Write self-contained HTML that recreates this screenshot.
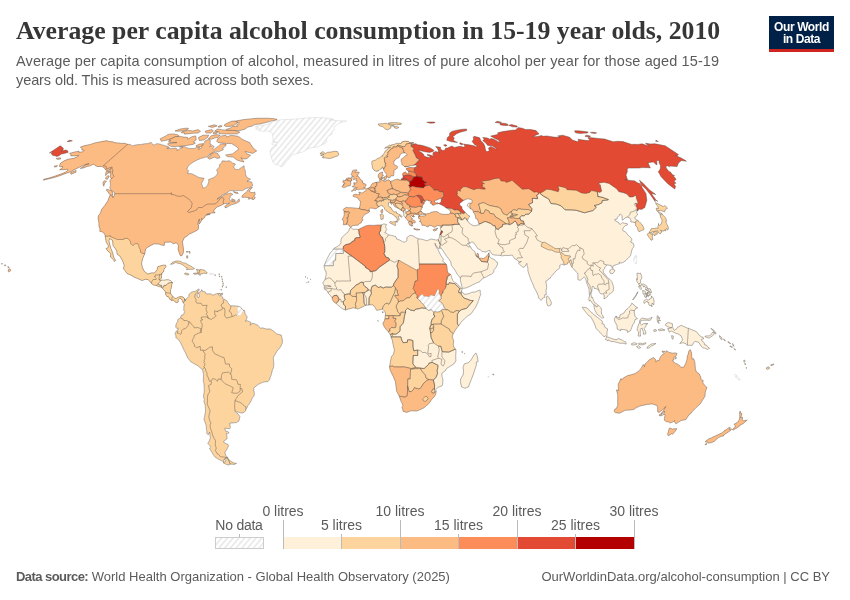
<!DOCTYPE html>
<html lang="en"><head><meta charset="utf-8"><title>Average per capita alcohol consumption in 15-19 year olds, 2010</title>
<style>
html,body{margin:0;padding:0;background:#fff;}
body{width:850px;height:600px;position:relative;overflow:hidden;font-family:"Liberation Sans",sans-serif;color:#5b5b5b;}
.title{position:absolute;left:16px;top:15px;font-family:"Liberation Serif",serif;font-weight:bold;font-size:25.77px;line-height:32px;color:#363636;white-space:nowrap;letter-spacing:0px;}
.sub{position:absolute;left:16px;top:52px;font-size:14.5px;line-height:19px;color:#5b5b5b;white-space:nowrap;}
.logo{position:absolute;left:769px;top:16px;width:65px;height:33px;background:#002147;border-bottom:3px solid #ce261e;color:#fff;font-weight:bold;font-size:12px;line-height:12px;text-align:center;letter-spacing:-0.4px;}
.logo span{display:block}
.logo .l1{padding-top:5px}
.map{position:absolute;left:0;top:0;}
.foot{position:absolute;top:569px;font-size:13px;line-height:16px;color:#5b5b5b;white-space:nowrap;}
.foot.l{left:16px}.foot.r{right:20px}
.foot b{font-weight:bold;letter-spacing:-0.55px}
.lg{position:absolute;font-size:14px;line-height:16px;color:#5b5b5b;white-space:nowrap;transform:translateX(-50%);}
</style></head><body>
<svg class="map" width="850" height="600" viewBox="0 0 850 600"><defs><pattern id="h" width="4.4" height="4.4" patternUnits="userSpaceOnUse" patternTransform="rotate(40)"><rect width="4.4" height="4.4" fill="#fff"/><rect width="1.5" height="4.4" fill="#e7e7e7"/></pattern><clipPath id="cp-na"><path d="M69.5,153.4L74.5,152.0L79.0,151.2L78.7,152.3L82.9,151.8L84.2,150.4L81.7,150.0L82.2,148.6L80.3,147.2L83.1,146.0L90.4,144.4L94.8,142.9L100.4,141.8L106.9,140.6L108.9,141.6L112.9,141.7L114.1,142.6L117.8,142.9L121.2,143.4L124.7,143.3L127.6,144.3L130.6,144.5L132.0,145.9L135.3,145.1L138.2,144.5L140.5,144.6L145.0,143.7L147.7,143.6L151.2,142.4L151.5,143.1L153.1,144.6L154.7,144.9L156.8,143.6L158.9,143.9L161.4,144.6L165.3,145.8L168.2,146.6L169.4,147.5L166.8,148.3L170.9,148.6L175.7,148.1L177.3,149.1L177.1,150.7L179.7,148.9L183.0,147.1L179.3,146.9L184.6,146.6L186.9,147.9L189.7,148.5L194.9,148.4L197.5,146.7L199.7,147.4L198.6,149.5L201.8,147.7L201.4,146.2L202.0,144.4L204.7,142.9L204.8,141.0L208.7,139.3L210.2,139.9L210.3,141.8L209.9,144.0L211.5,144.6L209.6,146.6L212.5,145.5L214.2,146.6L213.0,148.4L213.6,149.7L217.9,146.6L220.0,144.4L223.0,143.9L226.1,144.1L225.9,145.8L222.8,148.0L223.3,149.8L218.5,151.8L215.9,151.2L213.8,151.4L213.2,152.7L209.6,154.1L209.3,155.7L206.1,157.1L200.8,158.5L197.3,159.9L193.1,162.2L190.5,164.1L187.9,166.5L186.7,169.4L188.5,170.6L187.7,173.7L191.2,173.5L194.9,175.3L198.5,177.3L204.1,178.3L201.5,183.7L202.6,186.2L202.6,187.9L204.9,187.7L207.5,185.4L208.8,181.7L208.5,179.6L213.8,177.5L216.8,175.0L217.9,172.8L216.5,169.9L219.4,167.0L219.5,164.6L221.5,163.0L222.3,160.8L226.4,161.2L229.6,160.8L232.2,162.8L235.5,164.0L233.6,166.8L235.1,169.4L238.5,169.5L241.4,167.5L244.1,165.7L244.3,168.4L245.4,170.9L245.5,174.3L247.0,177.5L250.6,179.2L246.9,181.4L251.5,181.9L252.9,185.4L249.4,187.6L245.6,188.7L242.6,190.6L235.6,190.6L229.7,190.7L227.1,192.9L223.1,194.5L216.9,199.2L220.4,197.3L225.1,194.5L230.7,193.1L232.9,194.3L230.0,196.3L230.6,197.3L229.2,198.6L230.0,200.6L231.4,201.4L235.0,201.7L236.1,202.2L239.1,198.8L239.6,201.4L236.6,203.3L230.9,205.0L225.6,208.0L224.7,206.8L226.1,205.0L229.6,203.1L226.6,203.5L224.0,203.7L221.0,205.5L216.6,207.3L214.3,209.9L213.6,210.9L214.0,212.2L215.0,212.2L214.9,212.8L213.4,212.9L211.8,213.1L208.5,213.7L206.5,214.4L210.2,214.3L206.4,215.3L205.5,215.6L204.7,217.4L202.4,219.6L201.5,218.2L201.8,220.0L200.8,222.1L198.9,224.3L198.9,222.1L199.4,219.0L198.2,222.1L197.9,224.7L198.5,225.0L198.4,229.3L195.8,230.9L192.3,232.8L189.6,233.9L187.1,236.0L184.2,237.8L182.4,242.0L183.3,247.2L183.6,251.4L182.9,254.0L182.0,255.6L180.4,255.8L179.3,253.2L178.0,249.0L178.5,245.6L176.4,242.8L173.1,243.8L171.1,242.0L167.7,242.2L164.6,242.2L164.3,245.4L161.4,245.1L159.0,244.1L154.4,243.8L151.9,244.9L147.8,247.2L145.6,249.0L144.8,253.6L142.6,258.7L141.6,263.4L142.4,267.4L144.3,271.3L146.1,272.8L147.8,274.0L151.8,272.8L154.5,273.0L157.0,269.7L157.9,266.6L163.5,265.0L165.8,265.3L166.0,266.6L164.1,269.2L163.5,271.8L162.0,273.1L161.5,275.5L161.4,278.1L159.6,279.9L160.4,280.4L161.9,280.0L164.4,280.2L166.2,279.8L168.5,279.8L170.7,280.7L172.5,282.3L171.7,284.9L171.1,288.8L170.5,290.1L170.3,293.0L171.8,295.3L172.9,296.5L173.5,297.2L175.1,298.5L176.7,298.1L178.8,296.9L180.9,296.5L183.2,297.0L184.6,298.9L184.9,300.7L183.2,302.7L182.3,300.6L181.0,298.7L179.7,298.1L178.0,299.8L178.3,301.9L176.2,302.7L174.7,301.4L173.4,300.0L171.7,300.4L169.9,299.4L168.3,296.6L166.9,296.4L165.4,294.0L165.8,292.5L163.9,289.8L161.6,287.6L162.1,286.7L160.9,287.1L158.7,286.4L156.3,285.5L153.3,285.0L151.5,283.4L148.2,279.6L145.3,279.3L142.1,280.6L138.9,279.1L134.8,277.4L131.0,275.2L127.1,273.6L125.6,271.5L123.0,268.1L124.0,267.4L124.1,265.0L122.6,260.8L119.9,256.1L117.1,254.3L116.8,250.9L115.2,248.5L113.0,245.6L112.6,240.4L109.7,238.6L108.9,240.9L110.1,245.6L110.9,248.5L112.6,252.4L113.6,257.1L114.3,258.2L115.6,260.5L114.5,261.6L113.7,260.0L110.5,256.9L110.8,253.5L108.2,251.4L106.0,248.6L108.0,247.7L108.4,245.6L106.1,242.0L105.6,238.3L105.1,236.4L105.2,235.2L103.6,232.8L102.1,231.8L99.7,231.3L100.0,229.4L98.9,225.8L98.9,222.9L98.6,221.3L98.1,218.7L98.3,215.9L100.5,213.0L101.5,209.6L104.9,205.3L107.8,200.9L109.9,195.3L112.8,196.0L112.9,197.8L114.5,195.0L114.7,193.7L114.6,192.7L112.4,191.2L110.5,189.2L109.8,187.4L110.5,185.4L110.3,182.9L109.8,180.4L111.5,178.9L110.8,178.0L110.3,176.5L110.7,174.8L110.3,173.3L110.8,171.4L109.8,170.4L111.2,168.2L109.2,169.9L107.2,170.6L105.6,169.9L105.0,168.7L103.7,167.5L101.6,166.5L97.0,166.5L94.9,165.3L94.0,164.1L89.5,166.1L87.0,166.5L83.4,168.0L80.3,168.4L82.3,167.2L86.2,164.6L89.1,163.7L85.5,164.4L81.8,166.1L77.8,168.0L74.9,169.4L71.1,171.6L66.4,173.3L60.4,175.5L54.3,177.5L49.0,178.8L43.1,180.2L44.0,179.2L49.0,178.0L54.7,176.2L61.5,173.8L66.1,171.8L68.2,169.9L67.2,169.2L63.8,169.7L59.6,169.8L62.4,168.0L62.8,166.5L59.8,166.8L59.6,165.1L60.7,163.0L64.6,160.6L68.0,159.2L73.9,158.3L78.0,156.4L78.9,155.2L75.1,155.9L70.8,155.9L71.0,154.3L69.5,153.4Z"/></clipPath><clipPath id="cp-sa"><path d="M184.6,298.9L185.5,300.6L186.0,299.0L187.3,298.0L188.8,296.4L189.1,294.3L190.7,292.6L192.2,291.9L195.0,291.4L196.9,290.4L198.3,288.9L199.5,289.6L198.9,290.6L197.5,291.2L198.2,292.7L198.1,293.4L197.4,294.3L197.1,295.9L198.1,297.7L199.3,296.9L199.3,294.8L198.5,293.1L199.8,292.1L201.2,291.4L201.5,290.9L201.3,290.1L202.0,289.6L202.4,290.9L202.6,291.5L204.2,291.5L205.5,292.2L205.9,293.2L206.4,294.0L208.7,293.8L210.7,293.8L213.0,295.1L213.9,294.9L215.1,294.2L216.7,293.6L219.0,293.5L220.4,293.5L218.8,294.2L218.1,294.4L219.4,295.6L221.2,295.9L222.8,297.2L222.7,299.0L224.6,299.4L226.6,300.6L227.9,302.4L228.6,303.7L230.8,305.8L235.4,305.9L238.1,306.2L240.4,307.1L242.0,308.6L243.5,310.5L244.5,310.3L245.1,313.7L247.2,316.9L246.5,319.1L245.3,321.2L247.2,320.7L250.9,322.3L250.2,325.4L252.2,323.1L255.3,324.1L258.0,325.4L260.4,328.3L262.2,327.8L266.2,329.0L270.3,329.0L273.8,331.2L276.6,333.8L281.3,335.1L282.0,338.5L282.5,340.2L282.3,343.2L280.6,346.7L279.0,349.0L277.6,350.1L274.4,355.5L273.3,357.6L273.5,360.2L273.8,363.4L273.5,367.8L272.4,369.9L271.3,374.6L269.9,378.0L270.0,379.0L267.9,381.7L265.2,381.7L262.3,382.5L258.4,384.3L255.0,386.9L253.8,388.2L253.7,390.0L254.4,393.7L254.0,396.1L252.2,398.1L251.2,400.8L249.6,403.4L248.0,405.6L245.8,409.8L245.6,411.0L243.0,412.9L240.2,412.8L236.4,411.6L234.9,410.4L235.4,412.0L238.0,413.8L239.9,416.5L239.0,420.9L236.7,422.5L229.7,423.2L230.1,425.6L230.4,427.7L229.7,428.8L224.8,428.2L225.7,431.3L227.7,431.5L229.1,432.8L227.5,433.6L226.3,433.4L226.6,434.6L227.1,437.7L226.8,439.0L223.7,441.3L224.2,442.9L228.0,444.4L228.5,446.1L226.5,450.0L224.8,452.5L225.9,455.8L228.0,457.7L225.9,458.1L224.3,458.6L223.9,459.8L223.9,461.6L221.1,460.6L218.6,459.3L215.3,457.3L213.9,455.6L211.5,451.8L209.5,448.0L210.9,446.7L207.8,443.4L209.2,441.1L210.4,437.7L209.6,432.1L208.2,434.9L206.9,433.6L206.8,430.8L206.3,428.7L206.3,425.7L205.0,422.2L203.9,418.8L204.5,417.6L204.9,414.4L205.5,411.7L205.4,408.0L205.2,405.2L203.9,401.3L204.4,399.7L203.4,396.1L204.2,392.3L204.3,389.5L204.0,383.4L203.3,381.9L203.5,374.3L202.6,369.8L200.1,367.7L197.3,365.4L193.6,363.4L190.8,361.8L187.7,357.9L185.6,353.0L184.1,350.3L181.8,345.3L180.6,342.8L178.5,339.5L175.7,337.5L176.1,336.1L175.4,334.7L175.0,333.8L176.0,331.4L177.3,330.4L178.1,329.9L178.1,327.8L177.2,328.6L175.7,327.3L176.1,324.1L177.6,321.5L177.8,319.4L178.7,318.9L180.5,317.8L180.8,316.8L181.6,315.0L183.5,314.7L184.7,311.4L183.8,310.5L183.8,307.1L184.3,304.5L183.2,302.7L184.9,300.7Z"/></clipPath><clipPath id="cp-af"><path d="M349.9,227.9L351.2,227.6L353.1,229.4L354.2,229.3L356.3,229.2L357.9,229.7L361.3,228.0L362.9,227.3L365.5,225.9L369.3,225.2L373.7,225.4L377.6,225.0L379.4,225.0L381.3,224.9L383.9,223.9L386.6,224.6L385.7,226.3L385.8,227.9L386.9,229.4L386.1,230.6L384.8,232.8L386.8,233.3L388.0,234.8L391.7,235.4L395.9,236.7L396.7,239.1L399.4,239.9L402.6,241.7L404.8,242.2L406.9,240.7L406.9,237.5L409.9,235.4L412.5,235.7L415.6,237.5L418.2,238.7L422.9,239.5L426.9,240.8L428.8,239.9L431.1,239.0L434.0,239.6L436.7,240.1L438.4,239.6L440.2,244.3L439.2,248.9L437.6,247.7L436.1,245.6L434.9,243.2L435.2,244.6L436.3,247.2L438.3,250.2L439.6,253.2L441.2,256.0L443.4,259.0L442.8,261.3L446.2,264.0L447.0,266.6L447.3,270.2L447.8,272.6L450.6,274.4L452.9,280.7L454.7,282.5L457.0,283.6L459.9,287.0L460.7,287.5L461.6,288.3L462.3,290.1L460.8,291.2L462.0,291.5L463.9,294.2L466.2,294.2L469.6,293.4L471.8,292.3L475.3,291.9L479.3,290.2L480.4,290.6L480.1,292.2L480.9,294.2L479.8,296.6L478.6,300.6L477.5,303.2L475.7,307.1L473.5,310.3L471.2,313.7L467.5,316.1L464.4,318.9L461.0,322.4L458.7,325.8L457.2,327.5L455.4,329.9L454.2,332.1L453.2,333.7L452.9,334.8L452.2,337.2L453.3,339.3L453.7,341.6L453.2,344.3L454.0,347.7L455.1,348.4L455.7,349.0L456.0,351.6L455.7,355.5L455.8,359.4L455.9,360.9L453.8,364.0L449.3,366.8L446.7,368.3L445.3,370.8L441.8,373.4L442.0,376.4L442.9,379.3L442.7,384.0L441.9,385.9L438.0,387.4L435.8,389.4L436.3,391.7L435.4,394.7L434.2,396.8L431.6,399.6L429.5,402.9L424.0,407.8L418.7,410.3L416.9,411.0L411.1,410.8L406.3,412.5L403.9,411.4L403.0,411.4L403.0,410.2L401.9,407.3L403.0,405.2L401.0,401.3L399.3,396.3L396.6,391.2L396.1,386.9L395.4,381.5L393.1,376.2L390.0,369.9L389.5,366.6L390.5,361.3L391.3,356.8L393.4,354.5L394.4,350.3L393.1,344.5L392.2,339.8L391.0,337.3L390.8,336.0L390.0,334.1L388.3,331.8L385.8,329.1L384.2,326.7L382.8,323.3L384.5,320.5L384.9,318.9L385.3,315.4L385.6,313.8L384.7,311.3L383.2,309.6L382.3,309.1L378.9,310.0L376.5,310.3L375.2,307.6L373.1,305.0L370.5,304.8L368.9,304.9L366.5,305.3L365.5,305.5L362.2,307.0L357.9,309.1L355.5,308.2L353.5,307.8L348.9,308.9L345.3,310.1L341.9,308.4L337.8,305.0L336.2,303.5L333.9,302.1L332.2,299.3L332.1,297.8L331.2,296.6L329.1,294.0L328.1,292.9L326.9,290.5L324.4,289.2L324.2,287.2L324.3,285.9L322.7,283.0L324.1,281.0L325.0,279.4L326.3,274.2L325.9,271.0L325.2,270.8L324.1,267.1L324.2,265.5L326.7,259.5L330.2,253.1L332.5,250.6L333.8,248.4L337.1,246.7L340.0,244.6L341.3,242.0L340.8,241.5L341.1,239.1L342.3,237.0L346.1,233.6L347.7,232.4L349.0,230.2Z"/></clipPath><clipPath id="cp-ea"><path d="M438.4,239.6L438.7,239.0L439.3,237.7L439.6,235.7L439.7,234.9L440.4,232.8L440.9,231.4L441.1,230.9L440.4,228.6L440.6,227.5L440.9,225.8L440.1,225.6L439.2,225.9L437.5,225.2L435.8,226.9L433.9,227.2L432.0,225.9L429.1,225.1L428.8,226.5L427.1,226.9L425.7,225.8L423.8,225.2L422.0,225.5L421.9,224.7L421.3,223.2L421.3,222.5L419.2,221.3L420.8,220.9L420.1,219.5L419.8,218.7L418.3,218.2L418.9,216.5L421.2,216.0L422.2,216.0L424.3,215.9L426.1,215.0L424.1,214.3L424.3,213.8L425.4,213.8L426.8,213.8L429.1,213.5L429.9,213.1L431.7,212.1L433.8,211.7L436.7,211.6L438.7,212.5L439.6,213.5L441.0,213.9L443.0,214.3L444.1,214.4L446.8,214.3L448.5,214.2L450.2,213.3L450.5,213.0L450.5,212.6L450.4,211.3L448.6,209.1L446.3,208.1L445.6,207.6L444.0,206.3L441.1,204.7L440.0,204.2L438.4,203.5L440.0,203.2L441.2,201.3L441.1,199.6L443.0,198.6L442.2,198.3L440.8,198.6L439.5,198.7L438.1,199.5L435.2,200.6L434.3,201.0L435.4,202.9L437.9,202.8L438.3,203.1L438.1,203.8L436.0,204.0L435.3,204.5L433.6,205.3L432.2,205.0L431.8,203.5L429.9,203.1L431.9,201.4L430.2,201.2L428.0,200.6L428.4,200.1L425.8,200.3L425.4,201.2L424.1,202.9L424.1,203.5L422.9,205.0L422.3,206.2L422.4,207.2L422.2,208.1L421.1,208.6L421.3,209.9L420.5,210.4L421.7,211.7L421.7,212.0L423.1,213.1L424.2,213.7L424.0,214.3L422.5,214.2L421.0,214.4L420.2,215.3L419.3,215.9L418.5,216.8L419.0,216.0L419.7,215.3L418.0,215.1L417.6,214.7L415.7,214.4L414.4,214.5L413.1,215.0L414.6,216.6L413.6,216.0L413.8,217.1L412.5,216.3L413.2,217.1L411.4,215.3L410.8,216.9L412.6,219.1L411.9,218.7L411.7,219.9L412.6,219.9L414.6,220.5L415.6,222.2L414.5,223.0L413.5,222.4L412.2,222.4L412.7,223.4L413.2,223.9L411.8,223.3L412.1,224.5L412.9,226.2L411.9,225.2L411.4,226.3L410.4,224.7L410.1,225.5L409.5,224.9L409.3,223.9L408.1,222.5L409.3,221.5L412.2,222.1L410.8,221.2L408.4,221.2L407.8,220.7L407.1,219.6L406.3,218.7L405.8,218.2L405.4,217.7L405.3,217.2L403.9,215.7L403.8,213.5L403.6,212.1L402.9,211.5L401.6,210.7L400.7,210.0L399.4,209.1L397.0,207.8L395.9,207.3L394.3,206.3L393.6,204.7L393.6,204.0L392.5,203.2L392.0,204.1L391.4,204.4L390.6,202.7L391.1,202.3L389.7,202.3L388.2,202.9L388.6,204.1L388.3,205.4L388.9,206.4L390.9,207.6L392.5,210.6L394.5,211.8L396.9,212.0L396.3,212.8L398.5,214.1L400.8,215.2L402.1,216.5L401.8,217.4L401.0,216.8L399.2,215.7L398.2,217.0L399.4,219.4L398.2,220.3L397.2,222.3L396.3,221.9L396.7,220.5L397.4,219.9L396.9,218.6L396.0,216.9L395.3,216.9L394.0,215.2L392.9,214.7L391.5,213.8L390.0,213.4L388.5,212.4L387.6,211.5L386.0,210.7L384.7,209.3L384.2,207.7L383.2,206.4L381.3,205.5L380.4,205.8L379.5,206.8L378.4,207.1L377.8,207.3L377.3,207.7L376.6,208.5L375.2,208.9L373.9,208.4L372.3,208.2L370.4,208.1L369.1,209.1L369.1,209.9L369.3,210.6L369.6,210.9L369.4,212.0L367.4,213.3L365.3,214.1L364.5,215.1L362.7,216.9L362.1,218.3L363.1,220.2L361.6,221.2L361.2,223.0L360.5,223.2L359.1,223.8L357.9,225.4L357.4,225.1L355.1,225.4L353.2,225.5L352.1,226.0L351.1,226.9L350.6,227.3L349.1,226.0L348.9,225.1L347.7,224.2L346.7,224.2L345.6,224.7L343.3,224.7L343.6,222.2L343.6,220.8L342.3,220.0L342.6,218.6L343.8,216.5L344.3,213.9L344.0,212.0L344.1,211.2L343.2,209.4L345.1,208.1L346.2,207.2L348.0,207.7L350.8,207.7L354.8,208.0L356.4,208.2L358.5,208.4L358.9,208.1L359.5,207.8L360.0,205.3L360.2,204.9L360.4,202.4L360.3,201.0L359.0,200.1L358.3,198.6L358.2,198.2L356.4,197.6L355.8,197.1L353.8,196.8L353.0,196.2L353.1,195.4L353.6,194.6L354.6,194.5L356.6,194.1L357.2,194.9L358.7,194.6L359.7,194.6L359.5,194.1L358.8,192.0L359.5,192.1L360.2,192.0L360.5,192.9L362.1,193.0L362.9,192.5L364.9,191.3L365.9,190.7L365.9,189.3L366.4,188.8L367.5,188.6L367.8,188.4L368.5,188.1L369.1,187.8L369.8,187.6L370.0,186.8L370.8,186.2L372.0,183.8L373.3,183.2L374.8,182.6L376.2,182.5L376.8,182.8L376.6,182.2L378.3,181.9L379.4,182.3L379.6,181.5L380.2,181.4L379.9,180.8L379.4,180.2L380.1,179.9L379.4,178.9L378.9,177.5L378.3,177.3L378.2,176.2L378.3,174.5L379.0,173.5L381.5,172.3L382.7,172.0L382.6,172.7L382.2,173.9L382.3,174.8L383.6,175.3L382.2,175.9L382.0,176.6L381.4,177.3L381.0,177.5L381.4,178.1L381.6,178.9L381.0,179.2L382.1,180.1L382.4,180.3L383.9,180.2L384.4,180.1L383.9,181.3L385.0,181.4L386.2,180.8L386.9,180.0L388.1,180.4L388.6,179.6L389.3,180.3L390.3,181.4L392.9,180.7L394.5,179.8L395.3,179.7L396.6,179.3L398.1,179.1L399.1,179.7L398.9,180.3L400.8,180.1L401.2,179.6L401.3,178.8L402.3,178.8L403.2,177.0L403.0,176.1L402.7,175.0L402.6,173.8L403.4,172.8L405.3,172.0L406.4,172.9L407.5,173.8L408.4,173.7L408.9,173.1L408.5,171.7L408.6,170.5L407.1,170.4L406.7,170.0L406.5,169.1L406.2,168.4L407.4,168.1L408.6,167.8L410.3,167.5L411.8,167.6L414.7,167.8L415.3,167.2L416.2,166.6L418.5,166.6L417.4,166.1L415.3,164.9L413.7,165.2L412.2,165.5L408.7,166.2L405.1,167.0L403.5,165.6L401.7,164.4L401.8,163.8L401.8,162.7L401.1,161.1L401.2,159.2L402.6,158.3L403.7,157.4L405.8,155.5L407.3,154.8L405.5,153.1L404.7,152.9L403.1,152.9L401.4,153.5L400.3,154.1L400.0,155.5L398.9,157.7L396.2,158.8L395.0,160.4L394.0,160.8L393.8,162.5L393.9,163.4L394.2,164.9L396.6,165.8L397.6,166.8L397.1,168.2L396.2,169.2L394.6,169.7L394.0,170.6L394.1,172.0L393.9,173.2L393.8,174.6L393.4,175.9L392.5,175.9L391.1,175.9L390.1,176.5L390.3,177.3L389.2,177.7L388.0,177.8L387.6,177.2L387.0,176.1L386.5,175.5L387.1,174.6L385.8,173.5L385.1,172.1L383.9,170.6L383.5,169.1L383.4,168.7L383.1,168.4L382.5,166.8L382.0,168.0L381.4,168.9L380.2,169.3L379.2,170.3L377.7,171.0L376.0,171.4L375.2,170.7L373.9,170.3L373.1,169.1L372.4,168.0L372.3,166.8L372.3,165.6L371.7,164.1L371.8,162.7L371.9,161.3L373.7,160.6L375.5,160.0L376.5,159.2L377.9,158.3L379.8,157.8L381.2,156.2L383.0,156.0L382.4,155.1L384.0,153.7L384.6,152.5L385.1,151.1L387.4,149.5L388.2,148.2L390.6,147.3L387.5,147.6L384.6,148.2L387.2,146.6L389.7,145.1L391.0,146.0L391.1,144.9L394.3,144.3L396.7,143.3L398.9,143.3L401.2,143.6L401.7,142.1L404.9,141.1L407.0,141.4L408.1,141.2L409.7,142.5L414.1,142.8L412.0,143.4L410.9,143.6L412.8,144.2L414.0,144.0L415.9,143.7L418.1,145.1L418.7,144.8L421.5,145.3L425.0,146.2L430.1,147.9L433.2,149.8L434.0,150.7L433.1,151.6L429.5,152.4L425.0,151.8L421.9,151.0L418.3,149.9L419.7,151.4L422.9,153.6L423.8,154.8L424.1,155.9L426.6,157.1L429.0,157.4L430.4,157.3L429.8,156.2L427.0,155.0L427.4,154.4L429.4,154.8L432.7,155.8L434.1,155.8L432.8,154.5L433.1,152.7L435.6,151.5L439.1,152.5L439.7,152.8L438.3,151.7L438.4,150.4L437.2,148.2L435.7,146.5L440.6,147.3L440.4,148.9L442.7,150.6L444.7,150.2L445.6,148.3L447.6,147.9L451.9,146.0L454.3,147.5L456.5,146.9L459.6,146.3L463.4,147.1L464.0,147.3L465.0,146.0L463.4,144.0L470.7,145.1L474.6,146.0L476.1,147.1L477.1,146.0L474.5,144.6L472.1,141.4L473.7,139.2L473.2,137.3L474.0,136.3L478.0,137.3L479.6,137.8L480.9,140.7L483.6,143.6L484.8,146.0L485.6,150.2L487.0,151.8L489.3,150.7L488.5,148.0L490.8,146.4L495.9,148.9L497.2,148.9L492.1,145.8L487.7,145.5L485.3,142.5L482.8,140.7L484.2,139.2L482.7,137.4L487.4,138.0L489.9,139.2L490.9,138.5L493.3,139.0L495.2,139.9L499.9,142.7L498.8,140.3L495.0,138.6L490.6,136.1L497.8,134.4L497.8,132.8L502.8,131.6L508.1,130.8L511.9,130.2L515.5,130.0L518.2,127.6L522.3,128.2L525.6,129.6L530.9,129.6L536.1,130.6L537.7,132.4L539.0,134.0L536.2,135.0L532.6,136.7L537.9,136.5L541.5,135.4L543.2,136.3L546.7,135.9L553.8,137.1L556.3,137.2L560.2,137.1L557.8,135.9L562.6,135.2L569.7,137.3L572.4,140.0L577.0,141.6L578.1,141.8L578.4,140.1L578.0,139.3L583.3,140.1L587.1,140.5L590.1,140.3L588.3,138.4L588.1,137.4L592.3,137.8L598.0,138.4L604.6,139.0L608.5,140.3L613.3,141.7L617.6,141.3L623.0,141.6L628.1,143.3L631.8,144.4L633.7,144.3L638.0,144.4L642.0,143.8L649.0,146.2L646.5,144.2L645.5,143.3L650.5,143.9L655.0,143.8L660.2,144.8L665.2,145.8L678.4,154.5L677.4,155.7L675.3,155.5L679.7,157.3L684.3,159.7L686.4,161.2L681.5,160.6L679.2,162.2L678.0,164.1L677.1,166.6L670.3,166.1L669.3,166.8L667.7,165.7L665.6,166.8L666.9,168.9L668.9,171.4L670.5,172.1L672.2,174.4L674.6,175.7L673.1,175.7L676.2,179.3L674.0,181.2L676.0,183.2L673.8,183.7L675.5,186.2L674.9,189.0L671.7,186.7L667.8,183.7L664.2,179.9L661.1,176.7L659.1,173.1L658.2,171.8L659.3,170.6L660.3,168.7L660.6,165.8L659.2,163.0L659.0,160.6L656.6,160.8L657.0,164.1L656.6,165.1L653.5,162.0L651.1,162.2L648.0,162.7L650.3,168.0L648.6,167.7L642.2,167.6L639.2,168.0L632.8,168.1L628.6,168.1L627.2,168.9L627.3,171.8L626.0,175.1L627.5,179.7L625.0,179.7L629.9,180.4L632.1,180.7L634.2,180.7L638.3,183.3L638.9,182.9L641.7,185.7L642.1,187.6L644.5,191.2L646.0,193.7L646.5,198.1L646.9,200.1L645.7,204.5L645.0,206.5L645.1,207.3L641.5,209.6L638.9,208.9L638.3,210.3L637.4,210.2L637.5,210.9L637.0,210.9L636.6,212.4L637.6,214.6L636.9,215.2L635.9,216.8L634.7,217.4L635.3,219.1L636.9,220.0L637.9,220.5L639.0,221.6L640.2,222.8L642.2,224.7L643.4,227.2L644.0,228.6L643.8,229.7L641.8,230.5L641.2,230.7L639.0,231.8L638.2,230.5L637.3,227.5L635.5,225.4L635.6,223.5L635.3,222.8L633.0,222.1L630.7,221.9L631.0,220.3L630.0,218.2L627.6,217.0L625.2,217.9L623.1,219.8L622.3,220.2L622.1,218.2L622.1,215.6L620.8,214.4L619.3,214.7L619.4,215.3L617.5,217.2L617.0,219.1L614.7,219.5L615.2,220.8L618.8,222.6L619.2,223.9L620.1,224.5L621.4,223.5L622.6,222.6L624.3,223.3L626.0,223.4L627.3,223.7L627.4,225.0L625.5,225.5L623.7,227.2L622.7,228.9L622.8,230.6L625.5,231.8L628.1,235.2L631.0,237.8L631.6,238.6L632.0,240.4L630.6,241.5L630.6,242.1L633.2,243.2L634.0,245.4L633.7,246.9L632.5,248.4L631.6,250.9L631.1,253.4L630.7,255.3L629.8,256.6L628.6,257.5L626.1,260.4L623.6,262.1L620.9,263.2L619.3,262.0L619.5,263.6L616.2,264.7L612.8,266.0L612.9,268.5L611.3,266.8L611.2,265.4L609.7,265.4L608.0,264.9L607.2,265.1L605.4,266.7L604.8,267.4L604.6,268.7L603.3,269.8L603.2,272.6L605.1,274.2L605.8,275.7L608.4,278.2L610.0,279.4L611.7,281.5L611.9,282.0L613.1,285.5L613.7,287.8L613.3,289.5L613.4,290.5L613.1,291.3L611.1,293.0L609.0,294.4L608.2,295.3L607.5,296.6L603.9,299.0L604.4,295.3L602.9,294.3L602.5,294.0L600.6,293.8L599.6,292.5L599.1,291.2L598.1,289.7L596.9,288.8L595.0,288.4L594.2,288.4L594.1,287.6L593.2,286.2L592.0,286.7L592.1,287.5L592.0,288.7L591.9,290.6L590.9,294.0L591.5,297.6L592.7,297.3L593.2,299.5L594.6,302.7L596.2,303.5L597.6,304.8L598.2,305.2L598.5,305.3L600.7,307.5L601.5,309.7L601.4,311.6L601.6,314.2L602.6,315.1L603.7,317.8L602.5,318.1L601.8,318.1L600.4,316.8L598.9,315.7L597.8,315.0L596.8,313.7L595.4,311.0L594.9,310.4L594.2,307.4L594.0,305.5L593.5,304.6L593.3,304.2L591.8,302.4L590.5,300.4L589.2,301.1L589.1,300.0L588.8,298.7L589.5,295.5L589.4,295.3L589.0,288.9L587.4,284.7L586.4,281.6L585.5,278.3L584.4,277.0L582.5,278.3L580.7,280.2L578.2,279.9L577.9,279.6L577.9,275.7L577.7,273.1L575.1,270.8L573.5,268.8L571.9,267.2L570.9,265.4L570.2,263.2L569.1,262.0L567.8,262.4L567.6,264.0L566.5,264.3L565.2,264.6L564.3,264.9L563.6,265.0L561.9,264.1L560.7,265.0L559.7,265.4L559.8,267.2L559.4,268.4L557.6,269.7L556.5,270.4L555.8,271.1L552.5,275.2L550.4,277.2L550.5,278.1L548.0,279.3L547.6,280.3L545.8,281.1L546.2,283.7L546.8,287.2L546.0,290.4L546.3,294.6L544.8,294.6L544.5,296.3L545.2,297.2L542.7,298.1L541.3,300.4L539.8,299.3L538.9,298.2L538.1,295.5L536.7,292.1L534.3,287.8L532.3,282.8L531.4,281.1L529.9,277.0L528.2,271.9L527.8,269.7L527.9,268.1L527.3,266.3L526.8,263.3L526.1,264.6L524.7,266.8L523.5,267.4L522.1,266.8L520.2,264.9L518.6,263.3L518.7,262.6L521.4,261.5L519.3,261.9L517.5,260.7L516.5,259.5L514.7,258.8L513.3,256.6L512.3,255.1L508.0,255.6L505.4,255.4L502.7,255.8L501.5,256.0L501.1,255.6L498.9,255.3L495.2,255.1L492.3,254.4L490.3,251.7L490.0,250.6L488.6,250.5L487.2,251.4L485.7,252.0L483.6,251.7L482.0,251.4L480.3,249.8L477.7,248.6L475.9,245.8L473.9,242.9L471.7,241.8L470.4,243.2L469.1,243.0L468.7,244.7L469.7,245.6L470.5,246.8L471.9,249.3L473.8,250.9L475.0,251.8L475.4,254.3L477.0,256.8L476.7,254.8L477.1,253.4L477.6,253.1L478.5,254.1L478.5,255.3L478.8,257.0L478.4,257.1L478.9,258.1L481.2,258.2L483.4,258.5L485.2,257.5L487.0,255.4L488.3,254.0L488.5,253.4L489.1,252.6L489.2,254.5L489.4,256.2L490.5,257.8L494.8,259.8L495.9,261.5L497.8,262.6L497.1,265.5L495.6,268.1L493.7,270.1L493.9,271.9L491.6,274.3L488.9,275.3L486.1,277.0L483.9,277.9L481.9,279.1L479.8,281.7L477.1,282.7L475.2,283.6L472.6,284.9L469.7,286.4L465.9,288.0L462.4,288.4L461.9,286.7L461.0,282.8L460.5,281.0L460.4,278.6L459.8,277.3L457.2,274.2L455.2,270.5L454.0,268.8L451.3,265.3L450.8,261.9L448.4,258.5L446.4,256.0L444.4,252.8L442.5,250.0L441.2,248.1L440.0,248.3L440.4,244.9L440.5,244.3L440.2,244.3Z"/></clipPath></defs>
<g clip-path="url(#cp-na)">
<path d="M69.5,153.4L74.5,152.0L79.0,151.2L78.7,152.3L82.9,151.8L84.2,150.4L81.7,150.0L82.2,148.6L80.3,147.2L83.1,146.0L90.4,144.4L94.8,142.9L100.4,141.8L106.9,140.6L108.9,141.6L112.9,141.7L114.1,142.6L117.8,142.9L121.2,143.4L124.7,143.3L127.6,144.3L130.6,144.5L132.0,145.9L135.3,145.1L138.2,144.5L140.5,144.6L145.0,143.7L147.7,143.6L151.2,142.4L151.5,143.1L153.1,144.6L154.7,144.9L156.8,143.6L158.9,143.9L161.4,144.6L165.3,145.8L168.2,146.6L169.4,147.5L166.8,148.3L170.9,148.6L175.7,148.1L177.3,149.1L177.1,150.7L179.7,148.9L183.0,147.1L179.3,146.9L184.6,146.6L186.9,147.9L189.7,148.5L194.9,148.4L197.5,146.7L199.7,147.4L198.6,149.5L201.8,147.7L201.4,146.2L202.0,144.4L204.7,142.9L204.8,141.0L208.7,139.3L210.2,139.9L210.3,141.8L209.9,144.0L211.5,144.6L209.6,146.6L212.5,145.5L214.2,146.6L213.0,148.4L213.6,149.7L217.9,146.6L220.0,144.4L223.0,143.9L226.1,144.1L225.9,145.8L222.8,148.0L223.3,149.8L218.5,151.8L215.9,151.2L213.8,151.4L213.2,152.7L209.6,154.1L209.3,155.7L206.1,157.1L200.8,158.5L197.3,159.9L193.1,162.2L190.5,164.1L187.9,166.5L186.7,169.4L188.5,170.6L187.7,173.7L191.2,173.5L194.9,175.3L198.5,177.3L204.1,178.3L201.5,183.7L202.6,186.2L202.6,187.9L204.9,187.7L207.5,185.4L208.8,181.7L208.5,179.6L213.8,177.5L216.8,175.0L217.9,172.8L216.5,169.9L219.4,167.0L219.5,164.6L221.5,163.0L222.3,160.8L226.4,161.2L229.6,160.8L232.2,162.8L235.5,164.0L233.6,166.8L235.1,169.4L238.5,169.5L241.4,167.5L244.1,165.7L244.3,168.4L245.4,170.9L245.5,174.3L247.0,177.5L250.6,179.2L246.9,181.4L251.5,181.9L252.9,185.4L249.4,187.6L245.6,188.7L242.6,190.6L235.6,190.6L229.7,190.7L227.1,192.9L223.1,194.5L216.9,199.2L220.4,197.3L225.1,194.5L230.7,193.1L232.9,194.3L230.0,196.3L230.6,197.3L229.2,198.6L230.0,200.6L231.4,201.4L235.0,201.7L236.1,202.2L239.1,198.8L239.6,201.4L236.6,203.3L230.9,205.0L225.6,208.0L224.7,206.8L226.1,205.0L229.6,203.1L226.6,203.5L224.0,203.7L221.0,205.5L216.6,207.3L214.3,209.9L213.6,210.9L214.0,212.2L215.0,212.2L214.9,212.8L213.4,212.9L211.8,213.1L208.5,213.7L206.5,214.4L210.2,214.3L206.4,215.3L205.5,215.6L204.7,217.4L202.4,219.6L201.5,218.2L201.8,220.0L200.8,222.1L198.9,224.3L198.9,222.1L199.4,219.0L198.2,222.1L197.9,224.7L198.5,225.0L198.4,229.3L195.8,230.9L192.3,232.8L189.6,233.9L187.1,236.0L184.2,237.8L182.4,242.0L183.3,247.2L183.6,251.4L182.9,254.0L182.0,255.6L180.4,255.8L179.3,253.2L178.0,249.0L178.5,245.6L176.4,242.8L173.1,243.8L171.1,242.0L167.7,242.2L164.6,242.2L164.3,245.4L161.4,245.1L159.0,244.1L154.4,243.8L151.9,244.9L147.8,247.2L145.6,249.0L144.8,253.6L142.6,258.7L141.6,263.4L142.4,267.4L144.3,271.3L146.1,272.8L147.8,274.0L151.8,272.8L154.5,273.0L157.0,269.7L157.9,266.6L163.5,265.0L165.8,265.3L166.0,266.6L164.1,269.2L163.5,271.8L162.0,273.1L161.5,275.5L161.4,278.1L159.6,279.9L160.4,280.4L161.9,280.0L164.4,280.2L166.2,279.8L168.5,279.8L170.7,280.7L172.5,282.3L171.7,284.9L171.1,288.8L170.5,290.1L170.3,293.0L171.8,295.3L172.9,296.5L173.5,297.2L175.1,298.5L176.7,298.1L178.8,296.9L180.9,296.5L183.2,297.0L184.6,298.9L184.9,300.7L183.2,302.7L182.3,300.6L181.0,298.7L179.7,298.1L178.0,299.8L178.3,301.9L176.2,302.7L174.7,301.4L173.4,300.0L171.7,300.4L169.9,299.4L168.3,296.6L166.9,296.4L165.4,294.0L165.8,292.5L163.9,289.8L161.6,287.6L162.1,286.7L160.9,287.1L158.7,286.4L156.3,285.5L153.3,285.0L151.5,283.4L148.2,279.6L145.3,279.3L142.1,280.6L138.9,279.1L134.8,277.4L131.0,275.2L127.1,273.6L125.6,271.5L123.0,268.1L124.0,267.4L124.1,265.0L122.6,260.8L119.9,256.1L117.1,254.3L116.8,250.9L115.2,248.5L113.0,245.6L112.6,240.4L109.7,238.6L108.9,240.9L110.1,245.6L110.9,248.5L112.6,252.4L113.6,257.1L114.3,258.2L115.6,260.5L114.5,261.6L113.7,260.0L110.5,256.9L110.8,253.5L108.2,251.4L106.0,248.6L108.0,247.7L108.4,245.6L106.1,242.0L105.6,238.3L105.1,236.4L105.2,235.2L103.6,232.8L102.1,231.8L99.7,231.3L100.0,229.4L98.9,225.8L98.9,222.9L98.6,221.3L98.1,218.7L98.3,215.9L100.5,213.0L101.5,209.6L104.9,205.3L107.8,200.9L109.9,195.3L112.8,196.0L112.9,197.8L114.5,195.0L114.7,193.7L114.6,192.7L112.4,191.2L110.5,189.2L109.8,187.4L110.5,185.4L110.3,182.9L109.8,180.4L111.5,178.9L110.8,178.0L110.3,176.5L110.7,174.8L110.3,173.3L110.8,171.4L109.8,170.4L111.2,168.2L109.2,169.9L107.2,170.6L105.6,169.9L105.0,168.7L103.7,167.5L101.6,166.5L97.0,166.5L94.9,165.3L94.0,164.1L89.5,166.1L87.0,166.5L83.4,168.0L80.3,168.4L82.3,167.2L86.2,164.6L89.1,163.7L85.5,164.4L81.8,166.1L77.8,168.0L74.9,169.4L71.1,171.6L66.4,173.3L60.4,175.5L54.3,177.5L49.0,178.8L43.1,180.2L44.0,179.2L49.0,178.0L54.7,176.2L61.5,173.8L66.1,171.8L68.2,169.9L67.2,169.2L63.8,169.7L59.6,169.8L62.4,168.0L62.8,166.5L59.8,166.8L59.6,165.1L60.7,163.0L64.6,160.6L68.0,159.2L73.9,158.3L78.0,156.4L78.9,155.2L75.1,155.9L70.8,155.9L71.0,154.3L69.5,153.4Z" fill="#fdbb84"/>
<path d="M104.2,193.7L114.7,193.7L170.6,193.7L171.1,192.7L171.7,193.0L171.3,194.5L174.4,194.8L176.8,196.0L180.6,196.3L183.4,195.5L188.9,199.1L189.5,200.1L190.7,201.2L192.2,203.2L191.3,207.6L190.0,209.1L187.9,210.9L187.6,211.7L188.8,212.5L194.4,210.9L197.0,209.6L197.3,208.5L198.4,207.5L202.4,207.5L203.6,206.3L206.6,204.5L208.0,204.0L214.6,204.0L216.1,203.2L217.9,201.7L219.2,199.6L221.5,197.7L223.3,198.0L224.1,198.7L223.1,201.7L223.4,203.2L223.9,204.0L224.1,205.5L227.8,211.7L217.9,264.0L132.7,295.3L74.3,243.0Z" fill="#fdbb84" stroke="#4a443e" stroke-opacity="0.8" stroke-width="0.5" stroke-linejoin="round"/>
<path d="M134.3,139.2L127.6,144.3L103.2,165.8L106.3,166.3L106.3,169.2L109.6,167.7L112.2,167.0L111.9,168.2L112.8,170.4L112.3,173.8L114.0,176.2L111.7,178.7L110.3,179.4L107.4,181.7L11.7,191.2L82.9,137.1Z" fill="#fdbb84" stroke="#4a443e" stroke-opacity="0.8" stroke-width="0.5" stroke-linejoin="round"/>
<path d="M98.8,236.5L105.1,236.4L110.6,235.9L110.2,236.5L117.4,239.5L123.7,239.5L124.1,238.4L127.8,238.4L130.3,241.2L130.7,243.8L133.1,245.6L135.1,243.7L137.6,243.6L138.7,245.4L139.1,247.5L140.4,249.6L140.6,252.4L142.5,253.4L144.8,253.6L147.3,253.7L173.1,261.3L189.9,300.6L143.5,308.4L90.3,269.2Z" fill="#fdd49e" stroke="#4a443e" stroke-opacity="0.8" stroke-width="0.5" stroke-linejoin="round"/>
<path d="M151.5,283.4L151.8,281.6L153.1,279.5L156.1,279.5L156.3,278.6L154.3,276.4L155.2,276.4L155.4,274.9L159.6,274.9L162.3,274.7L179.9,279.6L187.5,303.2L155.0,308.4L149.7,284.9Z" fill="#fdd49e" stroke="#4a443e" stroke-opacity="0.8" stroke-width="0.5" stroke-linejoin="round"/>
<path d="M159.6,274.9L159.7,274.4L160.4,274.7L161.8,273.1L163.6,273.1L162.1,279.9L159.6,279.9L158.9,279.9Z" fill="#fdd49e" stroke="#4a443e" stroke-opacity="0.8" stroke-width="0.5" stroke-linejoin="round"/>
<path d="M156.3,285.5L158.1,283.8L160.0,285.0L161.8,285.4L161.4,286.4L161.3,287.5L155.8,287.5Z" fill="#fdd49e" stroke="#4a443e" stroke-opacity="0.8" stroke-width="0.5" stroke-linejoin="round"/>
<path d="M161.1,280.4L158.7,283.0L158.1,283.8L160.0,285.0L161.8,285.4L161.4,286.4L161.7,288.3L162.5,287.8L163.8,286.7L164.0,285.5L166.1,285.3L168.1,283.3L169.3,283.0L172.5,282.3L174.0,281.7L173.3,278.1L161.3,278.6Z" fill="#fef0d9" stroke="#4a443e" stroke-opacity="0.8" stroke-width="0.5" stroke-linejoin="round"/>
<path d="M162.5,287.8L163.8,286.7L164.0,285.5L166.1,285.3L168.1,283.3L169.3,283.0L172.5,282.3L175.1,282.3L173.5,308.4L159.6,308.4L159.6,288.8Z" fill="#fdd49e" stroke="#4a443e" stroke-opacity="0.8" stroke-width="0.5" stroke-linejoin="round"/>
<path d="M165.8,292.5L167.6,292.9L169.6,293.2L170.4,293.0L174.3,292.7L187.7,298.0L182.7,308.4L161.9,308.4L163.9,292.7Z" fill="#fdd49e" stroke="#4a443e" stroke-opacity="0.8" stroke-width="0.5" stroke-linejoin="round"/>
<path d="M172.8,296.5L171.9,297.7L171.9,299.3L171.7,300.4L171.3,304.5L185.2,304.5L186.6,298.0L183.4,294.0L174.1,295.3Z" fill="#fdd49e" stroke="#4a443e" stroke-opacity="0.8" stroke-width="0.5" stroke-linejoin="round"/>
</g>
<path d="M69.5,153.4L74.5,152.0L79.0,151.2L78.7,152.3L82.9,151.8L84.2,150.4L81.7,150.0L82.2,148.6L80.3,147.2L83.1,146.0L90.4,144.4L94.8,142.9L100.4,141.8L106.9,140.6L108.9,141.6L112.9,141.7L114.1,142.6L117.8,142.9L121.2,143.4L124.7,143.3L127.6,144.3L130.6,144.5L132.0,145.9L135.3,145.1L138.2,144.5L140.5,144.6L145.0,143.7L147.7,143.6L151.2,142.4L151.5,143.1L153.1,144.6L154.7,144.9L156.8,143.6L158.9,143.9L161.4,144.6L165.3,145.8L168.2,146.6L169.4,147.5L166.8,148.3L170.9,148.6L175.7,148.1L177.3,149.1L177.1,150.7L179.7,148.9L183.0,147.1L179.3,146.9L184.6,146.6L186.9,147.9L189.7,148.5L194.9,148.4L197.5,146.7L199.7,147.4L198.6,149.5L201.8,147.7L201.4,146.2L202.0,144.4L204.7,142.9L204.8,141.0L208.7,139.3L210.2,139.9L210.3,141.8L209.9,144.0L211.5,144.6L209.6,146.6L212.5,145.5L214.2,146.6L213.0,148.4L213.6,149.7L217.9,146.6L220.0,144.4L223.0,143.9L226.1,144.1L225.9,145.8L222.8,148.0L223.3,149.8L218.5,151.8L215.9,151.2L213.8,151.4L213.2,152.7L209.6,154.1L209.3,155.7L206.1,157.1L200.8,158.5L197.3,159.9L193.1,162.2L190.5,164.1L187.9,166.5L186.7,169.4L188.5,170.6L187.7,173.7L191.2,173.5L194.9,175.3L198.5,177.3L204.1,178.3L201.5,183.7L202.6,186.2L202.6,187.9L204.9,187.7L207.5,185.4L208.8,181.7L208.5,179.6L213.8,177.5L216.8,175.0L217.9,172.8L216.5,169.9L219.4,167.0L219.5,164.6L221.5,163.0L222.3,160.8L226.4,161.2L229.6,160.8L232.2,162.8L235.5,164.0L233.6,166.8L235.1,169.4L238.5,169.5L241.4,167.5L244.1,165.7L244.3,168.4L245.4,170.9L245.5,174.3L247.0,177.5L250.6,179.2L246.9,181.4L251.5,181.9L252.9,185.4L249.4,187.6L245.6,188.7L242.6,190.6L235.6,190.6L229.7,190.7L227.1,192.9L223.1,194.5L216.9,199.2L220.4,197.3L225.1,194.5L230.7,193.1L232.9,194.3L230.0,196.3L230.6,197.3L229.2,198.6L230.0,200.6L231.4,201.4L235.0,201.7L236.1,202.2L239.1,198.8L239.6,201.4L236.6,203.3L230.9,205.0L225.6,208.0L224.7,206.8L226.1,205.0L229.6,203.1L226.6,203.5L224.0,203.7L221.0,205.5L216.6,207.3L214.3,209.9L213.6,210.9L214.0,212.2L215.0,212.2L214.9,212.8L213.4,212.9L211.8,213.1L208.5,213.7L206.5,214.4L210.2,214.3L206.4,215.3L205.5,215.6L204.7,217.4L202.4,219.6L201.5,218.2L201.8,220.0L200.8,222.1L198.9,224.3L198.9,222.1L199.4,219.0L198.2,222.1L197.9,224.7L198.5,225.0L198.4,229.3L195.8,230.9L192.3,232.8L189.6,233.9L187.1,236.0L184.2,237.8L182.4,242.0L183.3,247.2L183.6,251.4L182.9,254.0L182.0,255.6L180.4,255.8L179.3,253.2L178.0,249.0L178.5,245.6L176.4,242.8L173.1,243.8L171.1,242.0L167.7,242.2L164.6,242.2L164.3,245.4L161.4,245.1L159.0,244.1L154.4,243.8L151.9,244.9L147.8,247.2L145.6,249.0L144.8,253.6L142.6,258.7L141.6,263.4L142.4,267.4L144.3,271.3L146.1,272.8L147.8,274.0L151.8,272.8L154.5,273.0L157.0,269.7L157.9,266.6L163.5,265.0L165.8,265.3L166.0,266.6L164.1,269.2L163.5,271.8L162.0,273.1L161.5,275.5L161.4,278.1L159.6,279.9L160.4,280.4L161.9,280.0L164.4,280.2L166.2,279.8L168.5,279.8L170.7,280.7L172.5,282.3L171.7,284.9L171.1,288.8L170.5,290.1L170.3,293.0L171.8,295.3L172.9,296.5L173.5,297.2L175.1,298.5L176.7,298.1L178.8,296.9L180.9,296.5L183.2,297.0L184.6,298.9L184.9,300.7L183.2,302.7L182.3,300.6L181.0,298.7L179.7,298.1L178.0,299.8L178.3,301.9L176.2,302.7L174.7,301.4L173.4,300.0L171.7,300.4L169.9,299.4L168.3,296.6L166.9,296.4L165.4,294.0L165.8,292.5L163.9,289.8L161.6,287.6L162.1,286.7L160.9,287.1L158.7,286.4L156.3,285.5L153.3,285.0L151.5,283.4L148.2,279.6L145.3,279.3L142.1,280.6L138.9,279.1L134.8,277.4L131.0,275.2L127.1,273.6L125.6,271.5L123.0,268.1L124.0,267.4L124.1,265.0L122.6,260.8L119.9,256.1L117.1,254.3L116.8,250.9L115.2,248.5L113.0,245.6L112.6,240.4L109.7,238.6L108.9,240.9L110.1,245.6L110.9,248.5L112.6,252.4L113.6,257.1L114.3,258.2L115.6,260.5L114.5,261.6L113.7,260.0L110.5,256.9L110.8,253.5L108.2,251.4L106.0,248.6L108.0,247.7L108.4,245.6L106.1,242.0L105.6,238.3L105.1,236.4L105.2,235.2L103.6,232.8L102.1,231.8L99.7,231.3L100.0,229.4L98.9,225.8L98.9,222.9L98.6,221.3L98.1,218.7L98.3,215.9L100.5,213.0L101.5,209.6L104.9,205.3L107.8,200.9L109.9,195.3L112.8,196.0L112.9,197.8L114.5,195.0L114.7,193.7L114.6,192.7L112.4,191.2L110.5,189.2L109.8,187.4L110.5,185.4L110.3,182.9L109.8,180.4L111.5,178.9L110.8,178.0L110.3,176.5L110.7,174.8L110.3,173.3L110.8,171.4L109.8,170.4L111.2,168.2L109.2,169.9L107.2,170.6L105.6,169.9L105.0,168.7L103.7,167.5L101.6,166.5L97.0,166.5L94.9,165.3L94.0,164.1L89.5,166.1L87.0,166.5L83.4,168.0L80.3,168.4L82.3,167.2L86.2,164.6L89.1,163.7L85.5,164.4L81.8,166.1L77.8,168.0L74.9,169.4L71.1,171.6L66.4,173.3L60.4,175.5L54.3,177.5L49.0,178.8L43.1,180.2L44.0,179.2L49.0,178.0L54.7,176.2L61.5,173.8L66.1,171.8L68.2,169.9L67.2,169.2L63.8,169.7L59.6,169.8L62.4,168.0L62.8,166.5L59.8,166.8L59.6,165.1L60.7,163.0L64.6,160.6L68.0,159.2L73.9,158.3L78.0,156.4L78.9,155.2L75.1,155.9L70.8,155.9L71.0,154.3L69.5,153.4Z" fill="none" stroke="#4a443e" stroke-opacity="0.8" stroke-width="0.5" stroke-linejoin="round"/>
<g clip-path="url(#cp-sa)">
<path d="M184.6,298.9L185.5,300.6L186.0,299.0L187.3,298.0L188.8,296.4L189.1,294.3L190.7,292.6L192.2,291.9L195.0,291.4L196.9,290.4L198.3,288.9L199.5,289.6L198.9,290.6L197.5,291.2L198.2,292.7L198.1,293.4L197.4,294.3L197.1,295.9L198.1,297.7L199.3,296.9L199.3,294.8L198.5,293.1L199.8,292.1L201.2,291.4L201.5,290.9L201.3,290.1L202.0,289.6L202.4,290.9L202.6,291.5L204.2,291.5L205.5,292.2L205.9,293.2L206.4,294.0L208.7,293.8L210.7,293.8L213.0,295.1L213.9,294.9L215.1,294.2L216.7,293.6L219.0,293.5L220.4,293.5L218.8,294.2L218.1,294.4L219.4,295.6L221.2,295.9L222.8,297.2L222.7,299.0L224.6,299.4L226.6,300.6L227.9,302.4L228.6,303.7L230.8,305.8L235.4,305.9L238.1,306.2L240.4,307.1L242.0,308.6L243.5,310.5L244.5,310.3L245.1,313.7L247.2,316.9L246.5,319.1L245.3,321.2L247.2,320.7L250.9,322.3L250.2,325.4L252.2,323.1L255.3,324.1L258.0,325.4L260.4,328.3L262.2,327.8L266.2,329.0L270.3,329.0L273.8,331.2L276.6,333.8L281.3,335.1L282.0,338.5L282.5,340.2L282.3,343.2L280.6,346.7L279.0,349.0L277.6,350.1L274.4,355.5L273.3,357.6L273.5,360.2L273.8,363.4L273.5,367.8L272.4,369.9L271.3,374.6L269.9,378.0L270.0,379.0L267.9,381.7L265.2,381.7L262.3,382.5L258.4,384.3L255.0,386.9L253.8,388.2L253.7,390.0L254.4,393.7L254.0,396.1L252.2,398.1L251.2,400.8L249.6,403.4L248.0,405.6L245.8,409.8L245.6,411.0L243.0,412.9L240.2,412.8L236.4,411.6L234.9,410.4L235.4,412.0L238.0,413.8L239.9,416.5L239.0,420.9L236.7,422.5L229.7,423.2L230.1,425.6L230.4,427.7L229.7,428.8L224.8,428.2L225.7,431.3L227.7,431.5L229.1,432.8L227.5,433.6L226.3,433.4L226.6,434.6L227.1,437.7L226.8,439.0L223.7,441.3L224.2,442.9L228.0,444.4L228.5,446.1L226.5,450.0L224.8,452.5L225.9,455.8L228.0,457.7L225.9,458.1L224.3,458.6L223.9,459.8L223.9,461.6L221.1,460.6L218.6,459.3L215.3,457.3L213.9,455.6L211.5,451.8L209.5,448.0L210.9,446.7L207.8,443.4L209.2,441.1L210.4,437.7L209.6,432.1L208.2,434.9L206.9,433.6L206.8,430.8L206.3,428.7L206.3,425.7L205.0,422.2L203.9,418.8L204.5,417.6L204.9,414.4L205.5,411.7L205.4,408.0L205.2,405.2L203.9,401.3L204.4,399.7L203.4,396.1L204.2,392.3L204.3,389.5L204.0,383.4L203.3,381.9L203.5,374.3L202.6,369.8L200.1,367.7L197.3,365.4L193.6,363.4L190.8,361.8L187.7,357.9L185.6,353.0L184.1,350.3L181.8,345.3L180.6,342.8L178.5,339.5L175.7,337.5L176.1,336.1L175.4,334.7L175.0,333.8L176.0,331.4L177.3,330.4L178.1,329.9L178.1,327.8L177.2,328.6L175.7,327.3L176.1,324.1L177.6,321.5L177.8,319.4L178.7,318.9L180.5,317.8L180.8,316.8L181.6,315.0L183.5,314.7L184.7,311.4L183.8,310.5L183.8,307.1L184.3,304.5L183.2,302.7L184.9,300.7Z" fill="#fdd49e"/>
<path d="M238.1,306.2L237.2,308.4L238.0,312.1L236.6,315.4L238.4,315.5L240.5,315.7L241.7,313.4L243.5,310.5L246.1,309.7L244.0,304.5L238.2,304.5Z" fill="url(#h)" stroke="#cfcfcf" stroke-width="0.45" stroke-linejoin="round"/>
<path d="M198.9,290.5L197.3,292.5L195.1,294.2L194.7,297.2L196.0,299.5L195.9,302.1L197.0,303.2L201.1,303.2L202.5,305.5L207.1,305.3L206.3,307.6L206.1,309.7L207.3,312.6L206.0,314.2L207.5,315.5L208.2,318.4M208.2,318.4L207.7,317.1L205.6,316.9L201.3,317.1L201.3,318.7L202.9,319.8L200.8,320.1L200.8,321.9L202.3,324.4L201.2,332.5M201.2,332.5L200.4,331.6L200.9,328.6L197.5,327.5L194.3,327.9L193.6,326.2L191.0,323.9L189.9,322.0L188.8,321.8M188.8,321.8L186.4,320.5L183.8,320.5L183.2,319.3L180.5,317.8M188.8,321.8L188.7,324.0L188.0,325.6L185.8,328.3L182.9,329.3L181.8,330.4L181.3,333.5L180.4,334.6L178.9,333.1L177.0,333.1L177.7,331.7L177.3,330.4M201.2,332.5L198.9,333.0L194.5,335.1L193.9,337.3L192.7,339.5L192.2,341.2L194.7,345.0L194.2,346.1L196.6,347.7L200.2,346.4L200.5,350.3L202.7,350.1M202.7,350.1L205.2,354.2L204.6,357.2L205.0,358.6L204.0,360.2L204.6,361.4L203.6,362.3L205.1,363.9L203.9,366.8L204.3,367.3L202.6,369.5M204.3,367.3L205.4,368.8L205.9,371.2L207.2,373.6L206.8,374.9L208.3,377.7L209.5,381.3L210.9,381.1M210.9,381.1L211.4,381.7L211.1,384.3L208.5,385.6L209.8,391.9L208.0,394.2L207.4,397.6L207.6,401.0L207.1,403.9L209.1,408.4L210.2,411.0L209.3,413.8L208.8,417.0L209.8,420.9L210.9,422.5L210.1,425.1L210.4,428.2L211.6,431.3L212.7,435.2L214.2,438.5L215.5,440.3L215.4,442.9L215.3,445.4L216.3,448.2L215.4,450.5L217.0,453.6L218.7,454.3L220.4,456.8L224.5,457.1L227.8,457.7M202.7,350.1L205.1,350.5L209.5,347.4L212.5,346.9L212.4,350.3L214.9,353.9L218.7,355.5L221.1,356.8L224.1,357.6L225.5,364.0L229.5,364.1L229.5,366.5L231.8,368.8L231.3,371.2L230.7,373.4L230.8,374.2M230.8,374.2L228.4,372.1L222.5,372.9L221.5,375.3L221.1,379.7M221.1,379.7L220.7,379.0L218.1,379.0L217.5,381.3L215.3,379.3L212.7,378.5L210.9,381.1M221.1,379.7L225.2,383.8L229.9,385.9L233.3,387.7L231.7,392.7L234.2,393.2L236.9,393.2L237.7,392.9L240.2,391.1L240.1,388.5M230.8,374.2L231.6,375.9L231.7,379.3L236.1,379.8L237.1,380.6L237.9,384.3L240.4,384.4L240.1,388.5M240.1,388.5L241.9,388.6L242.5,391.9L240.3,393.6L238.3,395.3L236.8,397.6L235.0,400.5M235.0,400.5L234.8,403.1L234.6,406.0L234.9,410.2M235.0,400.5L238.8,402.1L239.7,402.2L242.4,403.9L244.7,406.4L246.0,407.0L245.8,409.8M208.2,318.4L211.4,319.4L212.5,318.5L214.6,317.3L216.2,315.7L214.9,315.0L214.5,310.8L217.9,311.8L217.5,311.0L221.9,309.7L222.6,307.9M222.6,307.9L221.1,305.9L221.7,304.0L223.7,302.9L223.1,301.1L224.6,299.4M222.6,307.9L224.3,308.2L225.1,311.0L224.6,315.5L226.4,318.1L228.7,317.6L232.2,316.5M231.0,305.9L230.5,308.4L229.0,311.0L231.1,312.6L232.2,316.5M232.2,316.5L233.6,316.1L235.7,314.8L236.6,315.4" fill="none" stroke="#4a443e" stroke-opacity="0.8" stroke-width="0.5" stroke-linejoin="round"/>
</g>
<path d="M184.6,298.9L185.5,300.6L186.0,299.0L187.3,298.0L188.8,296.4L189.1,294.3L190.7,292.6L192.2,291.9L195.0,291.4L196.9,290.4L198.3,288.9L199.5,289.6L198.9,290.6L197.5,291.2L198.2,292.7L198.1,293.4L197.4,294.3L197.1,295.9L198.1,297.7L199.3,296.9L199.3,294.8L198.5,293.1L199.8,292.1L201.2,291.4L201.5,290.9L201.3,290.1L202.0,289.6L202.4,290.9L202.6,291.5L204.2,291.5L205.5,292.2L205.9,293.2L206.4,294.0L208.7,293.8L210.7,293.8L213.0,295.1L213.9,294.9L215.1,294.2L216.7,293.6L219.0,293.5L220.4,293.5L218.8,294.2L218.1,294.4L219.4,295.6L221.2,295.9L222.8,297.2L222.7,299.0L224.6,299.4L226.6,300.6L227.9,302.4L228.6,303.7L230.8,305.8L235.4,305.9L238.1,306.2L240.4,307.1L242.0,308.6L243.5,310.5L244.5,310.3L245.1,313.7L247.2,316.9L246.5,319.1L245.3,321.2L247.2,320.7L250.9,322.3L250.2,325.4L252.2,323.1L255.3,324.1L258.0,325.4L260.4,328.3L262.2,327.8L266.2,329.0L270.3,329.0L273.8,331.2L276.6,333.8L281.3,335.1L282.0,338.5L282.5,340.2L282.3,343.2L280.6,346.7L279.0,349.0L277.6,350.1L274.4,355.5L273.3,357.6L273.5,360.2L273.8,363.4L273.5,367.8L272.4,369.9L271.3,374.6L269.9,378.0L270.0,379.0L267.9,381.7L265.2,381.7L262.3,382.5L258.4,384.3L255.0,386.9L253.8,388.2L253.7,390.0L254.4,393.7L254.0,396.1L252.2,398.1L251.2,400.8L249.6,403.4L248.0,405.6L245.8,409.8L245.6,411.0L243.0,412.9L240.2,412.8L236.4,411.6L234.9,410.4L235.4,412.0L238.0,413.8L239.9,416.5L239.0,420.9L236.7,422.5L229.7,423.2L230.1,425.6L230.4,427.7L229.7,428.8L224.8,428.2L225.7,431.3L227.7,431.5L229.1,432.8L227.5,433.6L226.3,433.4L226.6,434.6L227.1,437.7L226.8,439.0L223.7,441.3L224.2,442.9L228.0,444.4L228.5,446.1L226.5,450.0L224.8,452.5L225.9,455.8L228.0,457.7L225.9,458.1L224.3,458.6L223.9,459.8L223.9,461.6L221.1,460.6L218.6,459.3L215.3,457.3L213.9,455.6L211.5,451.8L209.5,448.0L210.9,446.7L207.8,443.4L209.2,441.1L210.4,437.7L209.6,432.1L208.2,434.9L206.9,433.6L206.8,430.8L206.3,428.7L206.3,425.7L205.0,422.2L203.9,418.8L204.5,417.6L204.9,414.4L205.5,411.7L205.4,408.0L205.2,405.2L203.9,401.3L204.4,399.7L203.4,396.1L204.2,392.3L204.3,389.5L204.0,383.4L203.3,381.9L203.5,374.3L202.6,369.8L200.1,367.7L197.3,365.4L193.6,363.4L190.8,361.8L187.7,357.9L185.6,353.0L184.1,350.3L181.8,345.3L180.6,342.8L178.5,339.5L175.7,337.5L176.1,336.1L175.4,334.7L175.0,333.8L176.0,331.4L177.3,330.4L178.1,329.9L178.1,327.8L177.2,328.6L175.7,327.3L176.1,324.1L177.6,321.5L177.8,319.4L178.7,318.9L180.5,317.8L180.8,316.8L181.6,315.0L183.5,314.7L184.7,311.4L183.8,310.5L183.8,307.1L184.3,304.5L183.2,302.7L184.9,300.7Z" fill="none" stroke="#4a443e" stroke-opacity="0.8" stroke-width="0.5" stroke-linejoin="round"/>
<g clip-path="url(#cp-af)">
<path d="M349.9,227.9L351.2,227.6L353.1,229.4L354.2,229.3L356.3,229.2L357.9,229.7L361.3,228.0L362.9,227.3L365.5,225.9L369.3,225.2L373.7,225.4L377.6,225.0L379.4,225.0L381.3,224.9L383.9,223.9L386.6,224.6L385.7,226.3L385.8,227.9L386.9,229.4L386.1,230.6L384.8,232.8L386.8,233.3L388.0,234.8L391.7,235.4L395.9,236.7L396.7,239.1L399.4,239.9L402.6,241.7L404.8,242.2L406.9,240.7L406.9,237.5L409.9,235.4L412.5,235.7L415.6,237.5L418.2,238.7L422.9,239.5L426.9,240.8L428.8,239.9L431.1,239.0L434.0,239.6L436.7,240.1L438.4,239.6L440.2,244.3L439.2,248.9L437.6,247.7L436.1,245.6L434.9,243.2L435.2,244.6L436.3,247.2L438.3,250.2L439.6,253.2L441.2,256.0L443.4,259.0L442.8,261.3L446.2,264.0L447.0,266.6L447.3,270.2L447.8,272.6L450.6,274.4L452.9,280.7L454.7,282.5L457.0,283.6L459.9,287.0L460.7,287.5L461.6,288.3L462.3,290.1L460.8,291.2L462.0,291.5L463.9,294.2L466.2,294.2L469.6,293.4L471.8,292.3L475.3,291.9L479.3,290.2L480.4,290.6L480.1,292.2L480.9,294.2L479.8,296.6L478.6,300.6L477.5,303.2L475.7,307.1L473.5,310.3L471.2,313.7L467.5,316.1L464.4,318.9L461.0,322.4L458.7,325.8L457.2,327.5L455.4,329.9L454.2,332.1L453.2,333.7L452.9,334.8L452.2,337.2L453.3,339.3L453.7,341.6L453.2,344.3L454.0,347.7L455.1,348.4L455.7,349.0L456.0,351.6L455.7,355.5L455.8,359.4L455.9,360.9L453.8,364.0L449.3,366.8L446.7,368.3L445.3,370.8L441.8,373.4L442.0,376.4L442.9,379.3L442.7,384.0L441.9,385.9L438.0,387.4L435.8,389.4L436.3,391.7L435.4,394.7L434.2,396.8L431.6,399.6L429.5,402.9L424.0,407.8L418.7,410.3L416.9,411.0L411.1,410.8L406.3,412.5L403.9,411.4L403.0,411.4L403.0,410.2L401.9,407.3L403.0,405.2L401.0,401.3L399.3,396.3L396.6,391.2L396.1,386.9L395.4,381.5L393.1,376.2L390.0,369.9L389.5,366.6L390.5,361.3L391.3,356.8L393.4,354.5L394.4,350.3L393.1,344.5L392.2,339.8L391.0,337.3L390.8,336.0L390.0,334.1L388.3,331.8L385.8,329.1L384.2,326.7L382.8,323.3L384.5,320.5L384.9,318.9L385.3,315.4L385.6,313.8L384.7,311.3L383.2,309.6L382.3,309.1L378.9,310.0L376.5,310.3L375.2,307.6L373.1,305.0L370.5,304.8L368.9,304.9L366.5,305.3L365.5,305.5L362.2,307.0L357.9,309.1L355.5,308.2L353.5,307.8L348.9,308.9L345.3,310.1L341.9,308.4L337.8,305.0L336.2,303.5L333.9,302.1L332.2,299.3L332.1,297.8L331.2,296.6L329.1,294.0L328.1,292.9L326.9,290.5L324.4,289.2L324.2,287.2L324.3,285.9L322.7,283.0L324.1,281.0L325.0,279.4L326.3,274.2L325.9,271.0L325.2,270.8L324.1,267.1L324.2,265.5L326.7,259.5L330.2,253.1L332.5,250.6L333.8,248.4L337.1,246.7L340.0,244.6L341.3,242.0L340.8,241.5L341.1,239.1L342.3,237.0L346.1,233.6L347.7,232.4L349.0,230.2Z" fill="#fef0d9"/>
<path d="M357.9,229.7L358.9,230.6L359.0,233.3L360.1,236.7L359.9,237.5L356.3,237.7L354.8,238.6L354.6,240.5L351.8,241.7L350.5,243.3L348.0,244.2L345.8,244.6L343.4,246.4L343.3,249.1L343.3,250.1L351.8,256.1L365.3,266.3L365.4,267.4L369.7,270.0L370.2,271.8L372.4,271.4L375.9,270.6L379.6,267.0L389.7,260.0L388.6,257.9L385.8,257.1L383.8,253.1L384.8,252.2L384.8,247.5L384.5,244.6L383.8,242.4L382.6,237.5L381.0,236.5L379.1,233.1L380.6,230.7L380.7,228.4L381.3,224.9L381.2,222.1L357.9,224.7Z" fill="#fc8d59" stroke="#4a443e" stroke-opacity="0.8" stroke-width="0.5" stroke-linejoin="round"/>
<path d="M333.3,249.1L343.3,249.1L343.3,250.1L343.3,253.5L335.8,253.5L335.6,260.2L333.3,261.6L333.3,265.7L324.2,265.7L319.7,266.6L327.0,248.3Z" fill="url(#h)" stroke="#cfcfcf" stroke-width="0.45" stroke-linejoin="round"/>
<path d="M419.2,264.0L446.2,264.0L448.6,264.0L453.8,274.4L450.6,274.4L447.1,276.9L447.1,278.9L446.1,282.0L446.4,284.2L446.2,285.9L445.5,288.3L443.3,290.6L443.0,293.0L441.6,293.8L441.2,296.6L440.7,296.6L438.8,293.5L438.9,289.6L437.1,290.1L437.1,290.9L434.7,295.9L433.6,296.0L430.8,295.1L429.0,296.9L426.9,296.4L423.9,296.6L422.3,294.3L420.0,295.9L418.0,298.7L416.7,298.0L417.1,295.6L415.2,293.0L415.3,292.7L414.2,290.1L412.8,288.3L413.4,287.5L414.2,284.4L415.1,281.0L417.6,280.4L417.2,270.5L417.2,269.2L419.4,269.2L419.2,264.0Z" fill="#fc8d59" stroke="#4a443e" stroke-opacity="0.8" stroke-width="0.5" stroke-linejoin="round"/>
<path d="M418.0,298.7L420.0,295.9L422.3,294.3L423.9,296.6L426.9,296.4L429.0,296.9L430.8,295.1L433.6,296.0L434.7,295.9L437.1,290.9L437.1,290.1L438.9,289.6L438.8,293.5L440.7,296.6L441.2,296.6L441.2,299.0L438.7,300.8L440.4,301.6L442.7,304.0L444.1,307.1L445.7,309.5L442.1,309.5L441.2,310.5L440.0,311.7L437.0,312.1L434.7,311.6L433.9,312.3L431.2,309.7L428.3,310.3L425.9,308.4L423.6,304.8L420.8,301.9L418.0,298.7Z" fill="url(#h)" stroke="#cfcfcf" stroke-width="0.45" stroke-linejoin="round"/>
<path d="M417.2,270.5L398.8,260.2L396.9,265.8L398.1,269.4L398.1,277.3L393.8,283.6L393.5,285.7L395.0,287.2L395.3,288.8L396.9,289.6L397.3,292.7L398.4,295.3L394.9,295.3L394.8,296.3L397.7,299.3L398.4,301.9L400.7,301.1L403.2,300.8L406.2,298.5L406.4,298.0L409.7,297.7L412.6,294.0L415.2,293.0L415.3,292.7L414.2,290.1L412.8,288.3L413.4,287.5L414.2,284.4L415.1,281.0L417.6,280.4L417.2,270.5Z" fill="#fdbb84" stroke="#4a443e" stroke-opacity="0.8" stroke-width="0.5" stroke-linejoin="round"/>
<path d="M441.2,296.6L441.6,293.8L443.0,293.0L443.3,290.6L445.5,288.3L446.2,285.9L446.4,284.2L448.6,284.4L449.4,282.5L452.0,283.3L454.7,283.7L456.6,285.4L458.6,287.5L460.0,288.9L458.7,290.9L458.8,292.7L461.4,292.8L460.9,293.8L463.0,297.0L464.0,298.0L471.0,300.6L473.3,300.6L466.5,308.4L461.9,309.5L459.7,310.8L459.4,311.1L456.9,310.5L454.7,311.4L453.9,312.5L450.7,312.1L447.9,309.9L445.8,309.9L445.7,309.5L444.1,307.1L442.7,304.0L440.4,301.6L438.7,300.8L441.2,299.0L441.2,296.6Z" fill="#fdd49e" stroke="#4a443e" stroke-opacity="0.8" stroke-width="0.5" stroke-linejoin="round"/>
<path d="M445.7,309.5L445.8,309.9L447.9,309.9L450.7,312.1L453.9,312.5L454.7,311.4L456.9,310.5L459.4,311.1L457.4,314.2L457.4,321.5L457.4,323.7L458.7,325.8L462.0,329.3L453.1,337.2L453.2,333.7L449.7,330.7L449.5,329.3L441.0,324.1L441.3,320.7L442.4,318.6L443.6,316.5L442.2,312.3L441.2,310.5L442.1,309.5L445.7,309.5Z" fill="#fdd49e" stroke="#4a443e" stroke-opacity="0.8" stroke-width="0.5" stroke-linejoin="round"/>
<path d="M441.2,310.5L442.2,312.3L443.6,316.5L442.4,318.6L441.3,320.7L441.0,324.1L433.1,324.2L431.1,325.2L431.1,322.8L431.9,319.4L433.2,318.4L435.0,315.9L433.7,315.2L433.9,312.3L434.7,311.6L437.0,312.1L440.0,311.7L441.2,310.5Z" fill="#fdd49e" stroke="#4a443e" stroke-opacity="0.8" stroke-width="0.5" stroke-linejoin="round"/>
<path d="M431.1,325.2L433.1,324.2L434.0,327.6L433.3,327.8L431.8,328.7L429.7,328.7L430.3,325.8L431.1,325.2Z" fill="#fdd49e" stroke="#4a443e" stroke-opacity="0.8" stroke-width="0.5" stroke-linejoin="round"/>
<path d="M429.7,328.7L431.8,328.7L433.3,327.8L433.8,330.1L431.9,332.9L430.6,333.1L430.2,330.1L429.7,328.7Z" fill="#fdd49e" stroke="#4a443e" stroke-opacity="0.8" stroke-width="0.5" stroke-linejoin="round"/>
<path d="M433.1,324.2L441.0,324.1L449.5,329.3L449.7,330.7L453.2,333.7L459.6,334.6L459.3,348.4L455.7,349.0L451.1,351.1L448.8,352.1L443.0,351.8L442.2,351.6L440.9,346.4L438.4,346.1L433.6,343.0L431.0,337.2L430.6,333.1L431.9,332.9L433.8,330.1L433.3,327.8L434.0,327.6L433.1,324.2Z" fill="#fdd49e" stroke="#4a443e" stroke-opacity="0.8" stroke-width="0.5" stroke-linejoin="round"/>
<path d="M415.2,293.0L412.6,294.0L409.7,297.7L406.4,298.0L406.2,298.5L403.2,300.8L400.7,301.1L398.4,301.9L396.4,305.3L396.2,307.6L397.3,310.0L397.8,312.1L399.9,314.0L400.1,315.7L401.0,312.3L405.6,312.3L405.5,310.3L407.7,308.2L410.2,310.0L414.4,310.8L415.5,309.2L419.2,308.7L421.5,307.9L425.9,308.4L423.6,304.8L420.8,301.9L418.0,298.7L416.7,298.0L417.1,295.6L415.2,293.0Z" fill="#fdd49e" stroke="#4a443e" stroke-opacity="0.8" stroke-width="0.5" stroke-linejoin="round"/>
<path d="M398.4,301.9L397.7,299.3L394.8,296.3L394.9,295.3L398.4,295.3L397.3,292.7L396.9,289.6L395.3,288.8L394.4,292.7L392.4,296.9L390.4,301.6L389.0,304.2L387.1,303.1L385.3,303.7L383.0,306.3L382.3,309.1L381.2,316.3L385.3,315.4L388.9,315.7L393.4,315.7L396.2,315.9L400.1,315.7L399.9,314.0L397.8,312.1L397.3,310.0L396.2,307.6L396.4,305.3L398.4,301.9Z" fill="#fdd49e" stroke="#4a443e" stroke-opacity="0.8" stroke-width="0.5" stroke-linejoin="round"/>
<path d="M371.0,290.9L371.2,288.8L372.1,286.2L375.3,285.1L378.5,287.5L380.6,286.7L383.3,288.0L385.6,287.0L390.2,287.2L391.4,287.2L393.5,285.7L395.0,287.2L395.3,288.8L394.4,292.7L392.4,296.9L390.4,301.6L389.0,304.2L387.1,303.1L385.3,303.7L383.0,306.3L382.3,309.1L381.2,316.3L367.3,311.0L368.9,304.9L369.1,297.8L371.4,293.8L371.0,290.9Z" fill="#fdd49e" stroke="#4a443e" stroke-opacity="0.8" stroke-width="0.5" stroke-linejoin="round"/>
<path d="M385.3,315.4L388.9,315.7L388.9,318.9L384.9,318.9L381.2,318.9L381.2,315.2Z" fill="#fdd49e" stroke="#4a443e" stroke-opacity="0.8" stroke-width="0.5" stroke-linejoin="round"/>
<path d="M388.9,318.9L388.9,315.7L393.4,315.7L393.2,318.2L395.7,318.1L396.2,319.1L394.8,321.0L396.2,323.1L396.0,326.5L395.3,327.8L391.6,327.5L390.4,328.6L389.5,329.0L390.2,330.9L388.3,331.8L385.8,334.6L378.9,324.1L381.2,318.9L384.9,318.9Z" fill="#fdbb84" stroke="#4a443e" stroke-opacity="0.8" stroke-width="0.5" stroke-linejoin="round"/>
<path d="M393.4,315.7L396.2,315.9L400.1,315.7L401.0,312.3L405.6,312.3L404.5,315.7L403.8,320.7L403.1,323.3L400.1,326.7L400.1,330.4L399.4,331.8L397.8,332.9L395.9,334.2L393.6,334.2L392.9,333.5L390.4,334.6L388.1,335.9L388.3,331.8L390.2,330.9L389.5,329.0L390.4,328.6L391.6,327.5L395.3,327.8L396.0,326.5L396.2,323.1L394.8,321.0L396.2,319.1L395.7,318.1L393.2,318.2L393.4,315.7Z" fill="#fdd49e" stroke="#4a443e" stroke-opacity="0.8" stroke-width="0.5" stroke-linejoin="round"/>
<path d="M391.0,337.3L393.6,336.8L401.0,336.9L401.9,340.3L403.2,342.7L407.3,342.3L407.6,339.8L410.0,339.7L412.9,340.6L413.0,346.6L413.8,350.8L417.7,350.0L417.7,355.5L413.2,355.5L412.9,363.9L416.0,367.5L411.4,368.6L404.6,367.0L394.6,367.0L392.4,366.0L389.5,366.6L385.5,366.0L388.1,337.2Z" fill="#fdd49e" stroke="#4a443e" stroke-opacity="0.8" stroke-width="0.5" stroke-linejoin="round"/>
<path d="M390.4,334.6L392.9,333.5L392.2,336.4L390.8,336.5L388.1,335.9Z" fill="#fdd49e" stroke="#4a443e" stroke-opacity="0.8" stroke-width="0.5" stroke-linejoin="round"/>
<path d="M389.5,366.6L392.4,366.0L394.6,367.0L404.6,367.0L411.4,368.6L416.0,367.5L417.9,367.3L420.2,368.1L418.5,368.7L415.8,368.6L410.5,369.4L410.2,379.0L407.9,379.0L407.7,386.2L407.3,395.8L405.0,397.2L401.5,396.6L399.3,396.3L393.9,397.4L385.5,366.0Z" fill="#fdbb84" stroke="#4a443e" stroke-opacity="0.8" stroke-width="0.5" stroke-linejoin="round"/>
<path d="M420.2,368.1L418.5,368.7L415.8,368.6L410.5,369.4L410.2,379.0L407.9,379.0L407.7,386.2L409.0,391.6L411.3,391.7L413.6,389.4L414.4,387.7L418.4,389.0L420.2,388.5L422.1,385.9L423.6,383.4L426.6,380.6L429.1,379.6L426.1,378.0L425.5,375.1L422.3,371.5L420.2,368.1Z" fill="#fdd49e" stroke="#4a443e" stroke-opacity="0.8" stroke-width="0.5" stroke-linejoin="round"/>
<path d="M420.2,368.1L421.6,368.3L424.2,368.5L428.6,364.4L429.0,363.1L432.2,362.4L434.2,363.4L437.9,365.2L437.9,367.3L437.1,370.9L437.6,373.3L436.1,377.2L433.4,380.1L429.1,379.6L426.1,378.0L425.5,375.1L422.3,371.5L420.2,368.1Z" fill="#fdd49e" stroke="#4a443e" stroke-opacity="0.8" stroke-width="0.5" stroke-linejoin="round"/>
<path d="M399.3,396.3L401.5,396.6L405.0,397.2L407.3,395.8L407.7,386.2L409.0,391.6L411.3,391.7L413.6,389.4L414.4,387.7L418.4,389.0L420.2,388.5L422.1,385.9L423.6,383.4L426.6,380.6L429.1,379.6L433.4,380.1L434.6,385.3L434.5,389.4L433.2,388.9L431.6,391.6L432.0,392.7L434.1,392.9L434.6,391.7L436.3,391.7L440.8,394.7L427.5,418.3L395.2,415.7L396.1,396.3L399.3,396.3Z" fill="#fdbb84" stroke="#4a443e" stroke-opacity="0.8" stroke-width="0.5" stroke-linejoin="round"/>
<path d="M422.7,398.9L425.1,396.6L427.0,396.6L428.0,398.4L427.3,400.0L425.1,401.5L423.4,400.8Z" fill="#fdd49e" stroke="#4a443e" stroke-opacity="0.8" stroke-width="0.5" stroke-linejoin="round"/>
<path d="M431.6,391.6L433.2,388.9L434.5,389.4L434.6,391.7L434.1,392.9L432.0,392.7Z" fill="#fdd49e" stroke="#4a443e" stroke-opacity="0.8" stroke-width="0.5" stroke-linejoin="round"/>
<path d="M332.1,297.8L333.9,295.6L336.9,295.3L338.3,297.4L339.0,299.3L338.3,301.1L336.2,303.5L332.7,305.8L328.2,298.0L332.1,297.8Z" fill="#fdbb84" stroke="#4a443e" stroke-opacity="0.8" stroke-width="0.5" stroke-linejoin="round"/>
<path d="M345.3,310.1L345.5,306.2L343.6,304.5L343.2,301.8L345.1,299.5L344.3,296.9L344.4,294.8L348.4,293.8L350.1,294.2L351.9,296.1L356.4,296.6L356.7,300.6L355.3,304.2L356.2,306.9L355.5,308.2L355.8,313.7L345.4,313.7Z" fill="#fdd49e" stroke="#4a443e" stroke-opacity="0.8" stroke-width="0.5" stroke-linejoin="round"/>
<path d="M355.5,308.2L356.2,306.9L355.3,304.2L356.7,300.6L356.4,296.6L356.0,292.9L361.6,292.6L362.4,292.5L363.5,294.6L363.9,299.3L364.1,303.2L365.5,305.5L365.5,311.0L355.8,311.0Z" fill="#fdd49e" stroke="#4a443e" stroke-opacity="0.8" stroke-width="0.5" stroke-linejoin="round"/>
<path d="M356.4,296.6L351.9,296.1L350.1,294.2L350.5,290.6L352.6,288.3L354.7,286.7L356.1,284.9L358.1,284.1L361.0,282.1L363.2,282.4L363.6,284.9L365.0,286.6L367.5,288.3L368.2,289.6L368.2,290.4L365.9,291.5L364.8,292.7L362.4,292.5L361.6,292.6L356.0,292.9L356.4,296.6Z" fill="#fdd49e" stroke="#4a443e" stroke-opacity="0.8" stroke-width="0.5" stroke-linejoin="round"/>
<path d="M343.3,249.1L333.3,249.1M383.8,242.4L382.6,237.5L381.0,236.5L379.1,233.1L380.6,230.7L380.7,228.4L381.3,224.9M383.8,242.4L385.5,240.7L385.4,238.6L388.0,236.2L388.0,234.8M418.2,238.7L417.7,241.7L418.3,245.0L419.2,264.0M398.8,260.2L396.5,261.3L394.8,262.4L389.7,260.0M343.3,250.1L351.8,256.1M351.8,256.1L365.3,266.3L365.4,267.4L369.7,270.0L370.2,271.8L372.4,271.4M372.4,271.4L375.9,270.6L379.6,267.0L389.7,260.0M389.7,260.0L388.6,257.9L385.8,257.1L383.8,253.1L384.8,252.2L384.8,247.5L384.5,244.6L383.8,242.4M419.2,264.0L446.2,264.0M446.4,284.2L446.1,282.0L447.1,278.9L447.1,276.9L450.6,274.4M446.4,284.2L448.6,284.4L449.4,282.5L452.0,283.3L454.7,283.7L456.6,285.4L458.6,287.5L460.0,288.9M460.0,288.9L461.6,288.3M460.0,288.9L458.7,290.9L458.8,292.7L461.4,292.8M461.4,292.8L462.0,291.5M461.4,292.8L460.9,293.8L463.0,297.0L464.0,298.0L471.0,300.6L473.3,300.6L466.5,308.4L461.9,309.5L459.7,310.8L459.4,311.1M459.4,311.1L457.4,314.2L457.4,321.5L457.4,323.7L458.7,325.8M417.7,350.0L420.8,350.8L422.4,352.6L425.2,352.4L427.9,354.2L429.2,356.6L431.0,356.7L431.1,353.3L429.2,353.9L427.8,352.9L428.6,346.9L428.1,345.7L429.3,343.7L433.6,343.0M438.4,346.1L439.2,349.8L438.4,354.2L437.6,357.1L438.7,358.1M438.7,358.1L431.8,360.5L432.2,362.4M442.2,351.6L441.9,352.9L441.9,356.6L442.9,358.1L444.8,360.5L444.5,363.4L443.0,366.2L441.0,364.1L441.3,362.0L441.9,359.4L438.7,358.1M438.4,346.1L440.9,346.4L442.2,351.6M442.2,351.6L443.0,351.8L448.8,352.1L451.1,351.1L455.7,349.0M351.8,256.1L348.1,256.1L350.1,278.9L350.6,281.0L341.4,281.0L338.2,281.2L336.6,280.7L335.7,282.5L334.8,282.9M325.0,279.4L328.5,277.9L330.1,278.1L332.3,279.9L334.8,282.9M334.8,282.9L335.2,285.7L336.6,287.6L336.5,289.1M336.5,289.1L334.2,289.2L331.3,288.4M331.3,288.4L327.8,288.4L324.4,289.2M331.3,288.4L331.2,290.9L328.9,291.4L328.1,292.9M332.1,297.8L333.9,295.6L336.9,295.3L338.3,297.4L339.0,299.3M339.0,299.3L340.8,299.5L341.3,302.1L343.1,301.6L343.2,301.8M339.0,299.3L338.3,301.1L336.2,303.5M343.2,301.8L343.6,304.5L345.5,306.2L345.3,310.1M343.2,301.8L345.1,299.5L344.3,296.9L344.4,294.8M344.4,294.8L343.6,292.7L342.7,292.7L341.1,289.6L338.1,290.1L336.5,289.1M344.4,294.8L348.4,293.8L350.1,294.2M362.4,292.5L363.5,294.6L363.9,299.3L364.1,303.2L365.5,305.5M362.4,292.5L364.8,292.7M364.8,292.7L364.5,294.6L366.4,298.0L366.5,305.3M364.8,292.7L365.9,291.5L368.2,290.4M368.2,290.4L368.2,289.6L371.0,290.9M371.0,290.9L371.4,293.8L369.1,297.8L368.9,304.9M350.1,294.2L350.5,290.6L352.6,288.3L354.7,286.7L356.1,284.9L358.1,284.1L361.0,282.1L363.2,282.4M363.2,282.4L363.6,284.9L365.0,286.6L367.5,288.3L368.2,289.6L368.2,290.4M363.2,282.4L365.7,281.5L370.7,281.3L372.3,277.3L372.4,271.4M371.0,290.9L371.2,288.8L372.1,286.2L375.3,285.1L378.5,287.5L380.6,286.7L383.3,288.0L385.6,287.0L390.2,287.2L391.4,287.2L393.5,285.7M398.8,260.2L396.9,265.8L398.1,269.4L398.1,277.3L393.8,283.6L393.5,285.7M433.9,312.3L433.7,315.2L435.0,315.9L433.2,318.4L431.9,319.4L431.1,322.8L431.1,325.2M429.7,328.7L430.3,325.8L431.1,325.2M430.6,333.1L430.2,330.1L429.7,328.7M430.6,333.1L431.0,337.2L433.6,343.0M433.9,312.3L431.2,309.7L428.3,310.3L425.9,308.4M425.9,308.4L421.5,307.9L419.2,308.7L415.5,309.2L414.4,310.8L410.2,310.0L407.7,308.2L405.5,310.3L405.6,312.3M405.6,312.3L404.5,315.7L403.8,320.7L403.1,323.3L400.1,326.7L400.1,330.4L399.4,331.8L397.8,332.9L395.9,334.2L393.6,334.2L392.9,333.5L390.4,334.6M391.0,337.3L393.6,336.8L401.0,336.9L401.9,340.3L403.2,342.7L407.3,342.3L407.6,339.8L410.0,339.7L412.9,340.6L413.0,346.6L413.8,350.8L417.7,350.0M417.7,350.0L417.7,355.5L413.2,355.5L412.9,363.9L416.0,367.5M433.4,380.1L436.1,377.2L437.6,373.3L437.1,370.9L437.9,367.3L437.9,365.2L434.2,363.4L432.2,362.4M433.4,380.1L434.6,385.3L434.5,389.4M432.2,362.4L429.0,363.1L428.6,364.4L424.2,368.5L421.6,368.3L420.2,368.1M357.9,229.7L358.9,230.6L359.0,233.3L360.1,236.7L359.9,237.5L356.3,237.7L354.8,238.6L354.6,240.5L351.8,241.7L350.5,243.3L348.0,244.2L345.8,244.6L343.4,246.4L343.3,249.1M343.3,250.1L343.3,253.5L335.8,253.5L335.6,260.2L333.3,261.6L333.3,265.7L324.2,265.7M324.2,285.9L328.1,285.4L331.1,286.1L330.9,286.7L328.1,286.4L327.4,287.1L324.2,287.2M438.4,239.6L440.2,244.3" fill="none" stroke="#4a443e" stroke-opacity="0.8" stroke-width="0.5" stroke-linejoin="round"/>
</g>
<path d="M349.9,227.9L351.2,227.6L353.1,229.4L354.2,229.3L356.3,229.2L357.9,229.7L361.3,228.0L362.9,227.3L365.5,225.9L369.3,225.2L373.7,225.4L377.6,225.0L379.4,225.0L381.3,224.9L383.9,223.9L386.6,224.6L385.7,226.3L385.8,227.9L386.9,229.4L386.1,230.6L384.8,232.8L386.8,233.3L388.0,234.8L391.7,235.4L395.9,236.7L396.7,239.1L399.4,239.9L402.6,241.7L404.8,242.2L406.9,240.7L406.9,237.5L409.9,235.4L412.5,235.7L415.6,237.5L418.2,238.7L422.9,239.5L426.9,240.8L428.8,239.9L431.1,239.0L434.0,239.6L436.7,240.1L438.4,239.6L440.2,244.3L439.2,248.9L437.6,247.7L436.1,245.6L434.9,243.2L435.2,244.6L436.3,247.2L438.3,250.2L439.6,253.2L441.2,256.0L443.4,259.0L442.8,261.3L446.2,264.0L447.0,266.6L447.3,270.2L447.8,272.6L450.6,274.4L452.9,280.7L454.7,282.5L457.0,283.6L459.9,287.0L460.7,287.5L461.6,288.3L462.3,290.1L460.8,291.2L462.0,291.5L463.9,294.2L466.2,294.2L469.6,293.4L471.8,292.3L475.3,291.9L479.3,290.2L480.4,290.6L480.1,292.2L480.9,294.2L479.8,296.6L478.6,300.6L477.5,303.2L475.7,307.1L473.5,310.3L471.2,313.7L467.5,316.1L464.4,318.9L461.0,322.4L458.7,325.8L457.2,327.5L455.4,329.9L454.2,332.1L453.2,333.7L452.9,334.8L452.2,337.2L453.3,339.3L453.7,341.6L453.2,344.3L454.0,347.7L455.1,348.4L455.7,349.0L456.0,351.6L455.7,355.5L455.8,359.4L455.9,360.9L453.8,364.0L449.3,366.8L446.7,368.3L445.3,370.8L441.8,373.4L442.0,376.4L442.9,379.3L442.7,384.0L441.9,385.9L438.0,387.4L435.8,389.4L436.3,391.7L435.4,394.7L434.2,396.8L431.6,399.6L429.5,402.9L424.0,407.8L418.7,410.3L416.9,411.0L411.1,410.8L406.3,412.5L403.9,411.4L403.0,411.4L403.0,410.2L401.9,407.3L403.0,405.2L401.0,401.3L399.3,396.3L396.6,391.2L396.1,386.9L395.4,381.5L393.1,376.2L390.0,369.9L389.5,366.6L390.5,361.3L391.3,356.8L393.4,354.5L394.4,350.3L393.1,344.5L392.2,339.8L391.0,337.3L390.8,336.0L390.0,334.1L388.3,331.8L385.8,329.1L384.2,326.7L382.8,323.3L384.5,320.5L384.9,318.9L385.3,315.4L385.6,313.8L384.7,311.3L383.2,309.6L382.3,309.1L378.9,310.0L376.5,310.3L375.2,307.6L373.1,305.0L370.5,304.8L368.9,304.9L366.5,305.3L365.5,305.5L362.2,307.0L357.9,309.1L355.5,308.2L353.5,307.8L348.9,308.9L345.3,310.1L341.9,308.4L337.8,305.0L336.2,303.5L333.9,302.1L332.2,299.3L332.1,297.8L331.2,296.6L329.1,294.0L328.1,292.9L326.9,290.5L324.4,289.2L324.2,287.2L324.3,285.9L322.7,283.0L324.1,281.0L325.0,279.4L326.3,274.2L325.9,271.0L325.2,270.8L324.1,267.1L324.2,265.5L326.7,259.5L330.2,253.1L332.5,250.6L333.8,248.4L337.1,246.7L340.0,244.6L341.3,242.0L340.8,241.5L341.1,239.1L342.3,237.0L346.1,233.6L347.7,232.4L349.0,230.2Z" fill="none" stroke="#4a443e" stroke-opacity="0.8" stroke-width="0.5" stroke-linejoin="round"/>
<g clip-path="url(#cp-ea)">
<path d="M438.4,239.6L438.7,239.0L439.3,237.7L439.6,235.7L439.7,234.9L440.4,232.8L440.9,231.4L441.1,230.9L440.4,228.6L440.6,227.5L440.9,225.8L440.1,225.6L439.2,225.9L437.5,225.2L435.8,226.9L433.9,227.2L432.0,225.9L429.1,225.1L428.8,226.5L427.1,226.9L425.7,225.8L423.8,225.2L422.0,225.5L421.9,224.7L421.3,223.2L421.3,222.5L419.2,221.3L420.8,220.9L420.1,219.5L419.8,218.7L418.3,218.2L418.9,216.5L421.2,216.0L422.2,216.0L424.3,215.9L426.1,215.0L424.1,214.3L424.3,213.8L425.4,213.8L426.8,213.8L429.1,213.5L429.9,213.1L431.7,212.1L433.8,211.7L436.7,211.6L438.7,212.5L439.6,213.5L441.0,213.9L443.0,214.3L444.1,214.4L446.8,214.3L448.5,214.2L450.2,213.3L450.5,213.0L450.5,212.6L450.4,211.3L448.6,209.1L446.3,208.1L445.6,207.6L444.0,206.3L441.1,204.7L440.0,204.2L438.4,203.5L440.0,203.2L441.2,201.3L441.1,199.6L443.0,198.6L442.2,198.3L440.8,198.6L439.5,198.7L438.1,199.5L435.2,200.6L434.3,201.0L435.4,202.9L437.9,202.8L438.3,203.1L438.1,203.8L436.0,204.0L435.3,204.5L433.6,205.3L432.2,205.0L431.8,203.5L429.9,203.1L431.9,201.4L430.2,201.2L428.0,200.6L428.4,200.1L425.8,200.3L425.4,201.2L424.1,202.9L424.1,203.5L422.9,205.0L422.3,206.2L422.4,207.2L422.2,208.1L421.1,208.6L421.3,209.9L420.5,210.4L421.7,211.7L421.7,212.0L423.1,213.1L424.2,213.7L424.0,214.3L422.5,214.2L421.0,214.4L420.2,215.3L419.3,215.9L418.5,216.8L419.0,216.0L419.7,215.3L418.0,215.1L417.6,214.7L415.7,214.4L414.4,214.5L413.1,215.0L414.6,216.6L413.6,216.0L413.8,217.1L412.5,216.3L413.2,217.1L411.4,215.3L410.8,216.9L412.6,219.1L411.9,218.7L411.7,219.9L412.6,219.9L414.6,220.5L415.6,222.2L414.5,223.0L413.5,222.4L412.2,222.4L412.7,223.4L413.2,223.9L411.8,223.3L412.1,224.5L412.9,226.2L411.9,225.2L411.4,226.3L410.4,224.7L410.1,225.5L409.5,224.9L409.3,223.9L408.1,222.5L409.3,221.5L412.2,222.1L410.8,221.2L408.4,221.2L407.8,220.7L407.1,219.6L406.3,218.7L405.8,218.2L405.4,217.7L405.3,217.2L403.9,215.7L403.8,213.5L403.6,212.1L402.9,211.5L401.6,210.7L400.7,210.0L399.4,209.1L397.0,207.8L395.9,207.3L394.3,206.3L393.6,204.7L393.6,204.0L392.5,203.2L392.0,204.1L391.4,204.4L390.6,202.7L391.1,202.3L389.7,202.3L388.2,202.9L388.6,204.1L388.3,205.4L388.9,206.4L390.9,207.6L392.5,210.6L394.5,211.8L396.9,212.0L396.3,212.8L398.5,214.1L400.8,215.2L402.1,216.5L401.8,217.4L401.0,216.8L399.2,215.7L398.2,217.0L399.4,219.4L398.2,220.3L397.2,222.3L396.3,221.9L396.7,220.5L397.4,219.9L396.9,218.6L396.0,216.9L395.3,216.9L394.0,215.2L392.9,214.7L391.5,213.8L390.0,213.4L388.5,212.4L387.6,211.5L386.0,210.7L384.7,209.3L384.2,207.7L383.2,206.4L381.3,205.5L380.4,205.8L379.5,206.8L378.4,207.1L377.8,207.3L377.3,207.7L376.6,208.5L375.2,208.9L373.9,208.4L372.3,208.2L370.4,208.1L369.1,209.1L369.1,209.9L369.3,210.6L369.6,210.9L369.4,212.0L367.4,213.3L365.3,214.1L364.5,215.1L362.7,216.9L362.1,218.3L363.1,220.2L361.6,221.2L361.2,223.0L360.5,223.2L359.1,223.8L357.9,225.4L357.4,225.1L355.1,225.4L353.2,225.5L352.1,226.0L351.1,226.9L350.6,227.3L349.1,226.0L348.9,225.1L347.7,224.2L346.7,224.2L345.6,224.7L343.3,224.7L343.6,222.2L343.6,220.8L342.3,220.0L342.6,218.6L343.8,216.5L344.3,213.9L344.0,212.0L344.1,211.2L343.2,209.4L345.1,208.1L346.2,207.2L348.0,207.7L350.8,207.7L354.8,208.0L356.4,208.2L358.5,208.4L358.9,208.1L359.5,207.8L360.0,205.3L360.2,204.9L360.4,202.4L360.3,201.0L359.0,200.1L358.3,198.6L358.2,198.2L356.4,197.6L355.8,197.1L353.8,196.8L353.0,196.2L353.1,195.4L353.6,194.6L354.6,194.5L356.6,194.1L357.2,194.9L358.7,194.6L359.7,194.6L359.5,194.1L358.8,192.0L359.5,192.1L360.2,192.0L360.5,192.9L362.1,193.0L362.9,192.5L364.9,191.3L365.9,190.7L365.9,189.3L366.4,188.8L367.5,188.6L367.8,188.4L368.5,188.1L369.1,187.8L369.8,187.6L370.0,186.8L370.8,186.2L372.0,183.8L373.3,183.2L374.8,182.6L376.2,182.5L376.8,182.8L376.6,182.2L378.3,181.9L379.4,182.3L379.6,181.5L380.2,181.4L379.9,180.8L379.4,180.2L380.1,179.9L379.4,178.9L378.9,177.5L378.3,177.3L378.2,176.2L378.3,174.5L379.0,173.5L381.5,172.3L382.7,172.0L382.6,172.7L382.2,173.9L382.3,174.8L383.6,175.3L382.2,175.9L382.0,176.6L381.4,177.3L381.0,177.5L381.4,178.1L381.6,178.9L381.0,179.2L382.1,180.1L382.4,180.3L383.9,180.2L384.4,180.1L383.9,181.3L385.0,181.4L386.2,180.8L386.9,180.0L388.1,180.4L388.6,179.6L389.3,180.3L390.3,181.4L392.9,180.7L394.5,179.8L395.3,179.7L396.6,179.3L398.1,179.1L399.1,179.7L398.9,180.3L400.8,180.1L401.2,179.6L401.3,178.8L402.3,178.8L403.2,177.0L403.0,176.1L402.7,175.0L402.6,173.8L403.4,172.8L405.3,172.0L406.4,172.9L407.5,173.8L408.4,173.7L408.9,173.1L408.5,171.7L408.6,170.5L407.1,170.4L406.7,170.0L406.5,169.1L406.2,168.4L407.4,168.1L408.6,167.8L410.3,167.5L411.8,167.6L414.7,167.8L415.3,167.2L416.2,166.6L418.5,166.6L417.4,166.1L415.3,164.9L413.7,165.2L412.2,165.5L408.7,166.2L405.1,167.0L403.5,165.6L401.7,164.4L401.8,163.8L401.8,162.7L401.1,161.1L401.2,159.2L402.6,158.3L403.7,157.4L405.8,155.5L407.3,154.8L405.5,153.1L404.7,152.9L403.1,152.9L401.4,153.5L400.3,154.1L400.0,155.5L398.9,157.7L396.2,158.8L395.0,160.4L394.0,160.8L393.8,162.5L393.9,163.4L394.2,164.9L396.6,165.8L397.6,166.8L397.1,168.2L396.2,169.2L394.6,169.7L394.0,170.6L394.1,172.0L393.9,173.2L393.8,174.6L393.4,175.9L392.5,175.9L391.1,175.9L390.1,176.5L390.3,177.3L389.2,177.7L388.0,177.8L387.6,177.2L387.0,176.1L386.5,175.5L387.1,174.6L385.8,173.5L385.1,172.1L383.9,170.6L383.5,169.1L383.4,168.7L383.1,168.4L382.5,166.8L382.0,168.0L381.4,168.9L380.2,169.3L379.2,170.3L377.7,171.0L376.0,171.4L375.2,170.7L373.9,170.3L373.1,169.1L372.4,168.0L372.3,166.8L372.3,165.6L371.7,164.1L371.8,162.7L371.9,161.3L373.7,160.6L375.5,160.0L376.5,159.2L377.9,158.3L379.8,157.8L381.2,156.2L383.0,156.0L382.4,155.1L384.0,153.7L384.6,152.5L385.1,151.1L387.4,149.5L388.2,148.2L390.6,147.3L387.5,147.6L384.6,148.2L387.2,146.6L389.7,145.1L391.0,146.0L391.1,144.9L394.3,144.3L396.7,143.3L398.9,143.3L401.2,143.6L401.7,142.1L404.9,141.1L407.0,141.4L408.1,141.2L409.7,142.5L414.1,142.8L412.0,143.4L410.9,143.6L412.8,144.2L414.0,144.0L415.9,143.7L418.1,145.1L418.7,144.8L421.5,145.3L425.0,146.2L430.1,147.9L433.2,149.8L434.0,150.7L433.1,151.6L429.5,152.4L425.0,151.8L421.9,151.0L418.3,149.9L419.7,151.4L422.9,153.6L423.8,154.8L424.1,155.9L426.6,157.1L429.0,157.4L430.4,157.3L429.8,156.2L427.0,155.0L427.4,154.4L429.4,154.8L432.7,155.8L434.1,155.8L432.8,154.5L433.1,152.7L435.6,151.5L439.1,152.5L439.7,152.8L438.3,151.7L438.4,150.4L437.2,148.2L435.7,146.5L440.6,147.3L440.4,148.9L442.7,150.6L444.7,150.2L445.6,148.3L447.6,147.9L451.9,146.0L454.3,147.5L456.5,146.9L459.6,146.3L463.4,147.1L464.0,147.3L465.0,146.0L463.4,144.0L470.7,145.1L474.6,146.0L476.1,147.1L477.1,146.0L474.5,144.6L472.1,141.4L473.7,139.2L473.2,137.3L474.0,136.3L478.0,137.3L479.6,137.8L480.9,140.7L483.6,143.6L484.8,146.0L485.6,150.2L487.0,151.8L489.3,150.7L488.5,148.0L490.8,146.4L495.9,148.9L497.2,148.9L492.1,145.8L487.7,145.5L485.3,142.5L482.8,140.7L484.2,139.2L482.7,137.4L487.4,138.0L489.9,139.2L490.9,138.5L493.3,139.0L495.2,139.9L499.9,142.7L498.8,140.3L495.0,138.6L490.6,136.1L497.8,134.4L497.8,132.8L502.8,131.6L508.1,130.8L511.9,130.2L515.5,130.0L518.2,127.6L522.3,128.2L525.6,129.6L530.9,129.6L536.1,130.6L537.7,132.4L539.0,134.0L536.2,135.0L532.6,136.7L537.9,136.5L541.5,135.4L543.2,136.3L546.7,135.9L553.8,137.1L556.3,137.2L560.2,137.1L557.8,135.9L562.6,135.2L569.7,137.3L572.4,140.0L577.0,141.6L578.1,141.8L578.4,140.1L578.0,139.3L583.3,140.1L587.1,140.5L590.1,140.3L588.3,138.4L588.1,137.4L592.3,137.8L598.0,138.4L604.6,139.0L608.5,140.3L613.3,141.7L617.6,141.3L623.0,141.6L628.1,143.3L631.8,144.4L633.7,144.3L638.0,144.4L642.0,143.8L649.0,146.2L646.5,144.2L645.5,143.3L650.5,143.9L655.0,143.8L660.2,144.8L665.2,145.8L678.4,154.5L677.4,155.7L675.3,155.5L679.7,157.3L684.3,159.7L686.4,161.2L681.5,160.6L679.2,162.2L678.0,164.1L677.1,166.6L670.3,166.1L669.3,166.8L667.7,165.7L665.6,166.8L666.9,168.9L668.9,171.4L670.5,172.1L672.2,174.4L674.6,175.7L673.1,175.7L676.2,179.3L674.0,181.2L676.0,183.2L673.8,183.7L675.5,186.2L674.9,189.0L671.7,186.7L667.8,183.7L664.2,179.9L661.1,176.7L659.1,173.1L658.2,171.8L659.3,170.6L660.3,168.7L660.6,165.8L659.2,163.0L659.0,160.6L656.6,160.8L657.0,164.1L656.6,165.1L653.5,162.0L651.1,162.2L648.0,162.7L650.3,168.0L648.6,167.7L642.2,167.6L639.2,168.0L632.8,168.1L628.6,168.1L627.2,168.9L627.3,171.8L626.0,175.1L627.5,179.7L625.0,179.7L629.9,180.4L632.1,180.7L634.2,180.7L638.3,183.3L638.9,182.9L641.7,185.7L642.1,187.6L644.5,191.2L646.0,193.7L646.5,198.1L646.9,200.1L645.7,204.5L645.0,206.5L645.1,207.3L641.5,209.6L638.9,208.9L638.3,210.3L637.4,210.2L637.5,210.9L637.0,210.9L636.6,212.4L637.6,214.6L636.9,215.2L635.9,216.8L634.7,217.4L635.3,219.1L636.9,220.0L637.9,220.5L639.0,221.6L640.2,222.8L642.2,224.7L643.4,227.2L644.0,228.6L643.8,229.7L641.8,230.5L641.2,230.7L639.0,231.8L638.2,230.5L637.3,227.5L635.5,225.4L635.6,223.5L635.3,222.8L633.0,222.1L630.7,221.9L631.0,220.3L630.0,218.2L627.6,217.0L625.2,217.9L623.1,219.8L622.3,220.2L622.1,218.2L622.1,215.6L620.8,214.4L619.3,214.7L619.4,215.3L617.5,217.2L617.0,219.1L614.7,219.5L615.2,220.8L618.8,222.6L619.2,223.9L620.1,224.5L621.4,223.5L622.6,222.6L624.3,223.3L626.0,223.4L627.3,223.7L627.4,225.0L625.5,225.5L623.7,227.2L622.7,228.9L622.8,230.6L625.5,231.8L628.1,235.2L631.0,237.8L631.6,238.6L632.0,240.4L630.6,241.5L630.6,242.1L633.2,243.2L634.0,245.4L633.7,246.9L632.5,248.4L631.6,250.9L631.1,253.4L630.7,255.3L629.8,256.6L628.6,257.5L626.1,260.4L623.6,262.1L620.9,263.2L619.3,262.0L619.5,263.6L616.2,264.7L612.8,266.0L612.9,268.5L611.3,266.8L611.2,265.4L609.7,265.4L608.0,264.9L607.2,265.1L605.4,266.7L604.8,267.4L604.6,268.7L603.3,269.8L603.2,272.6L605.1,274.2L605.8,275.7L608.4,278.2L610.0,279.4L611.7,281.5L611.9,282.0L613.1,285.5L613.7,287.8L613.3,289.5L613.4,290.5L613.1,291.3L611.1,293.0L609.0,294.4L608.2,295.3L607.5,296.6L603.9,299.0L604.4,295.3L602.9,294.3L602.5,294.0L600.6,293.8L599.6,292.5L599.1,291.2L598.1,289.7L596.9,288.8L595.0,288.4L594.2,288.4L594.1,287.6L593.2,286.2L592.0,286.7L592.1,287.5L592.0,288.7L591.9,290.6L590.9,294.0L591.5,297.6L592.7,297.3L593.2,299.5L594.6,302.7L596.2,303.5L597.6,304.8L598.2,305.2L598.5,305.3L600.7,307.5L601.5,309.7L601.4,311.6L601.6,314.2L602.6,315.1L603.7,317.8L602.5,318.1L601.8,318.1L600.4,316.8L598.9,315.7L597.8,315.0L596.8,313.7L595.4,311.0L594.9,310.4L594.2,307.4L594.0,305.5L593.5,304.6L593.3,304.2L591.8,302.4L590.5,300.4L589.2,301.1L589.1,300.0L588.8,298.7L589.5,295.5L589.4,295.3L589.0,288.9L587.4,284.7L586.4,281.6L585.5,278.3L584.4,277.0L582.5,278.3L580.7,280.2L578.2,279.9L577.9,279.6L577.9,275.7L577.7,273.1L575.1,270.8L573.5,268.8L571.9,267.2L570.9,265.4L570.2,263.2L569.1,262.0L567.8,262.4L567.6,264.0L566.5,264.3L565.2,264.6L564.3,264.9L563.6,265.0L561.9,264.1L560.7,265.0L559.7,265.4L559.8,267.2L559.4,268.4L557.6,269.7L556.5,270.4L555.8,271.1L552.5,275.2L550.4,277.2L550.5,278.1L548.0,279.3L547.6,280.3L545.8,281.1L546.2,283.7L546.8,287.2L546.0,290.4L546.3,294.6L544.8,294.6L544.5,296.3L545.2,297.2L542.7,298.1L541.3,300.4L539.8,299.3L538.9,298.2L538.1,295.5L536.7,292.1L534.3,287.8L532.3,282.8L531.4,281.1L529.9,277.0L528.2,271.9L527.8,269.7L527.9,268.1L527.3,266.3L526.8,263.3L526.1,264.6L524.7,266.8L523.5,267.4L522.1,266.8L520.2,264.9L518.6,263.3L518.7,262.6L521.4,261.5L519.3,261.9L517.5,260.7L516.5,259.5L514.7,258.8L513.3,256.6L512.3,255.1L508.0,255.6L505.4,255.4L502.7,255.8L501.5,256.0L501.1,255.6L498.9,255.3L495.2,255.1L492.3,254.4L490.3,251.7L490.0,250.6L488.6,250.5L487.2,251.4L485.7,252.0L483.6,251.7L482.0,251.4L480.3,249.8L477.7,248.6L475.9,245.8L473.9,242.9L471.7,241.8L470.4,243.2L469.1,243.0L468.7,244.7L469.7,245.6L470.5,246.8L471.9,249.3L473.8,250.9L475.0,251.8L475.4,254.3L477.0,256.8L476.7,254.8L477.1,253.4L477.6,253.1L478.5,254.1L478.5,255.3L478.8,257.0L478.4,257.1L478.9,258.1L481.2,258.2L483.4,258.5L485.2,257.5L487.0,255.4L488.3,254.0L488.5,253.4L489.1,252.6L489.2,254.5L489.4,256.2L490.5,257.8L494.8,259.8L495.9,261.5L497.8,262.6L497.1,265.5L495.6,268.1L493.7,270.1L493.9,271.9L491.6,274.3L488.9,275.3L486.1,277.0L483.9,277.9L481.9,279.1L479.8,281.7L477.1,282.7L475.2,283.6L472.6,284.9L469.7,286.4L465.9,288.0L462.4,288.4L461.9,286.7L461.0,282.8L460.5,281.0L460.4,278.6L459.8,277.3L457.2,274.2L455.2,270.5L454.0,268.8L451.3,265.3L450.8,261.9L448.4,258.5L446.4,256.0L444.4,252.8L442.5,250.0L441.2,248.1L440.0,248.3L440.4,244.9L440.5,244.3L440.2,244.3Z" fill="#fef0d9"/>
<path d="M400.8,180.1L406.9,180.3L406.6,178.9L405.1,178.5L403.6,178.1L399.2,177.2Z" fill="#e34a33" stroke="#4a443e" stroke-opacity="0.8" stroke-width="0.5" stroke-linejoin="round"/>
<path d="M414.7,167.8L414.0,169.2L414.3,170.9L414.3,172.5L415.2,173.1L416.5,175.9L419.1,176.9L422.0,177.2L422.5,178.7L422.2,179.2L424.7,181.7L426.6,182.5L424.2,183.2L425.5,185.9L429.3,185.3L433.2,188.6L433.9,190.2L437.6,190.2L439.0,191.5L443.4,192.2L443.6,196.3L443.5,196.7L440.8,198.6L439.8,200.9L437.7,204.0L442.1,207.8L446.3,208.1L451.7,208.6L454.9,210.2L456.9,209.8L458.7,210.4L460.6,212.0L462.6,213.5L464.1,213.8L465.2,212.1L465.8,206.5L467.3,199.9L468.4,196.3L483.9,193.7L502.1,188.7L525.3,196.3L538.1,197.6L546.2,197.6L567.3,198.8L591.8,198.8L601.3,197.6L610.7,196.3L622.5,198.8L636.1,204.0L636.5,208.6L637.5,210.9L644.5,214.3L682.1,216.9L733.7,191.2L719.7,178.7L704.1,166.5L687.5,154.8L669.9,143.6L650.5,133.0L628.3,123.3L607.3,115.6L389.1,115.6L395.5,141.4L414.0,144.0L411.8,145.1L411.3,145.6L410.6,146.0L413.9,148.6L412.8,150.4L415.3,155.2L416.2,157.7L419.4,159.7L417.1,162.0L415.6,163.7L413.7,165.2L413.4,166.5Z" fill="#e34a33" stroke="#4a443e" stroke-opacity="0.8" stroke-width="0.5" stroke-linejoin="round"/>
<path d="M414.0,144.0L411.8,145.1L411.3,145.6L411.5,144.2L409.1,143.3L406.0,144.2L405.8,145.3L404.7,146.6L401.5,146.4L398.4,145.1L397.2,145.6L396.5,147.1L393.3,146.7L393.1,148.1L390.7,149.1L389.3,151.4L387.8,152.1L388.2,153.9L386.8,155.7L387.6,156.0L387.4,157.1L385.2,157.1L384.3,158.0L384.8,162.5L386.1,163.3L385.0,164.1L385.8,165.3L385.7,166.3L384.5,166.9L384.4,167.5L384.0,169.2L383.4,168.7L381.4,170.1L368.4,173.8L366.3,159.4L378.9,139.2L416.2,139.2Z" fill="#fdd49e" stroke="#4a443e" stroke-opacity="0.8" stroke-width="0.5" stroke-linejoin="round"/>
<path d="M397.2,145.6L396.5,147.1L393.3,146.7L393.1,148.1L390.7,149.1L389.3,151.4L387.8,152.1L388.2,153.9L386.8,155.7L387.6,156.0L387.4,157.1L385.2,157.1L384.3,158.0L384.8,162.5L386.1,163.3L385.0,164.1L385.8,165.3L385.7,166.3L384.5,166.9L384.4,167.5L384.0,169.2L383.4,168.7L383.6,173.8L386.2,175.7L386.4,178.7L393.6,179.2L400.3,171.4L398.5,159.4L404.9,153.9L404.7,152.9L403.6,151.8L404.0,150.7L403.1,149.8L402.9,148.1L399.7,146.9L397.2,145.6Z" fill="#fdbb84" stroke="#4a443e" stroke-opacity="0.8" stroke-width="0.5" stroke-linejoin="round"/>
<path d="M397.2,145.6L399.7,146.9L402.9,148.1L403.1,149.8L404.0,150.7L403.6,151.8L404.7,152.9L403.8,154.1L398.5,159.4L399.5,165.8L405.4,168.2L413.9,166.1L413.7,165.2L415.6,163.7L417.1,162.0L419.4,159.7L416.2,157.7L415.3,155.2L412.8,150.4L413.9,148.6L410.6,146.0L411.3,145.6L411.5,144.2L409.1,143.3L406.0,144.2L405.8,145.3L404.7,146.6L401.5,146.4L398.4,145.1L397.2,145.6Z" fill="#fdbb84" stroke="#4a443e" stroke-opacity="0.8" stroke-width="0.5" stroke-linejoin="round"/>
<path d="M414.3,172.5L414.3,170.9L414.0,169.2L414.7,167.8L414.4,166.5L403.3,166.5L404.1,171.6L408.5,171.7L410.2,171.2L411.6,171.7L414.3,172.5Z" fill="#fc8d59" stroke="#4a443e" stroke-opacity="0.8" stroke-width="0.5" stroke-linejoin="round"/>
<path d="M414.3,172.5L411.6,171.7L410.2,171.2L408.5,171.7L407.0,172.1L405.8,170.6L400.5,172.6L400.9,176.0L403.0,176.1L406.4,175.3L410.2,175.1L411.6,175.9L413.8,177.0L415.6,176.7L416.5,175.9L415.2,173.1L414.3,172.5Z" fill="#fc8d59" stroke="#4a443e" stroke-opacity="0.8" stroke-width="0.5" stroke-linejoin="round"/>
<path d="M413.8,177.0L411.6,175.9L410.2,175.1L406.4,175.3L403.0,176.1L400.9,176.0L401.8,178.0L403.6,178.1L405.1,178.5L406.6,178.9L406.9,180.3L408.4,181.3L410.2,181.4L412.2,180.4L412.5,178.9L413.9,178.0L413.8,177.0Z" fill="#e34a33" stroke="#4a443e" stroke-opacity="0.8" stroke-width="0.5" stroke-linejoin="round"/>
<path d="M413.8,177.0L415.6,176.7L416.5,175.9L419.1,176.9L422.0,177.2L422.5,178.7L422.2,179.2L424.7,181.7L426.6,182.5L424.2,183.2L425.5,185.9L423.5,187.9L420.9,187.7L416.6,187.2L412.7,186.3L410.3,187.2L409.5,187.4L409.4,185.9L408.4,185.4L409.7,184.4L409.3,181.4L408.4,181.3L410.2,181.4L412.2,180.4L412.5,178.9L413.9,178.0L413.8,177.0Z" fill="#b30000" stroke="#4a443e" stroke-opacity="0.8" stroke-width="0.5" stroke-linejoin="round"/>
<path d="M409.5,187.4L410.3,187.2L412.7,186.3L416.6,187.2L420.9,187.7L423.5,187.9L425.5,185.9L429.3,185.3L433.2,188.6L433.9,190.2L437.6,190.2L439.0,191.5L443.4,192.2L443.6,196.3L443.5,196.7L440.8,198.6L439.8,200.9L438.7,202.9L438.9,206.5L425.2,206.5L424.1,203.5L424.0,203.2L420.9,202.8L421.5,202.7L422.3,201.4L422.1,200.3L424.5,200.4L423.3,199.4L422.0,196.4L420.2,195.8L419.0,195.1L416.7,195.7L413.4,197.0L409.3,196.4L407.6,195.3L408.2,193.5L408.4,192.4L409.8,190.3L410.8,189.8L409.5,187.4Z" fill="#fc8d59" stroke="#4a443e" stroke-opacity="0.8" stroke-width="0.5" stroke-linejoin="round"/>
<path d="M416.7,195.7L419.0,195.1L420.2,195.8L422.0,196.4L423.3,199.4L424.5,200.4L422.1,200.3L422.3,201.4L421.5,202.7L420.9,202.8L420.2,199.2L418.9,197.7L416.7,195.7Z" fill="#e34a33" stroke="#4a443e" stroke-opacity="0.8" stroke-width="0.5" stroke-linejoin="round"/>
<path d="M409.3,196.4L413.4,197.0L416.7,195.7L418.9,197.7L420.2,199.2L420.9,202.8L424.0,203.2L424.1,203.5L426.9,204.0L427.4,207.2L422.4,207.2L418.9,206.2L416.1,207.5L413.8,207.2L410.7,207.1L409.8,206.0L409.8,205.1L408.7,205.3L407.1,204.5L407.2,203.6L406.1,203.1L404.4,201.1L406.2,200.6L407.0,199.0L409.3,196.4Z" fill="#fc8d59" stroke="#4a443e" stroke-opacity="0.8" stroke-width="0.5" stroke-linejoin="round"/>
<path d="M390.4,181.4L390.9,182.9L390.5,184.0L391.5,184.8L391.9,187.1L392.5,187.9L392.3,189.0L393.2,188.8L394.2,189.4L395.3,189.6L396.2,191.0L397.9,190.6L400.6,192.4L401.9,192.2L402.6,193.2L403.6,192.7L406.0,192.7L408.2,193.5L408.4,192.4L409.8,190.3L410.8,189.8L409.5,187.4L409.4,185.9L408.4,185.4L409.7,184.4L409.3,181.4L408.4,181.3L406.9,180.3L400.8,180.1L400.5,177.5L390.2,178.7Z" fill="#fdbb84" stroke="#4a443e" stroke-opacity="0.8" stroke-width="0.5" stroke-linejoin="round"/>
<path d="M392.3,189.0L392.5,187.9L391.9,187.1L391.5,184.8L390.5,184.0L390.9,182.9L390.4,181.4L390.2,178.7L385.9,178.7L383.0,178.9L381.0,179.2L379.4,178.9L376.2,177.5L374.4,181.9L376.8,183.0L376.6,184.5L376.6,185.5L376.1,186.3L375.0,186.6L374.8,188.2L374.7,189.3L375.5,190.3L375.0,190.9L375.8,191.7L375.5,192.6L376.3,193.4L377.8,193.5L379.3,193.8L378.5,194.9L378.0,196.0L378.2,197.4L380.2,197.1L382.3,197.4L383.5,198.1L384.0,197.4L385.1,197.8L387.6,197.2L389.3,197.6L389.2,196.9L388.6,196.0L389.9,195.4L390.7,194.3L389.8,193.9L388.0,192.7L387.8,191.6L386.9,190.5L387.7,190.3L389.6,189.4L391.2,188.7L392.3,189.0Z" fill="#fdbb84" stroke="#4a443e" stroke-opacity="0.8" stroke-width="0.5" stroke-linejoin="round"/>
<path d="M379.4,178.9L381.0,179.2L384.0,179.2L384.7,176.2L383.4,171.4L377.7,171.4L376.2,178.7Z" fill="#fdbb84" stroke="#4a443e" stroke-opacity="0.8" stroke-width="0.5" stroke-linejoin="round"/>
<path d="M374.7,189.3L374.8,188.2L375.0,186.6L376.1,186.3L376.6,185.5L376.6,184.5L376.8,183.0L375.3,181.2L368.6,183.7L369.1,187.7L369.5,187.8L370.5,188.2L371.2,187.8L372.6,187.6L374.3,188.3L374.1,189.2L374.7,189.3Z" fill="#fdbb84" stroke="#4a443e" stroke-opacity="0.8" stroke-width="0.5" stroke-linejoin="round"/>
<path d="M374.7,189.3L374.1,189.2L374.3,188.3L372.6,187.6L371.2,187.8L370.5,188.2L369.5,187.8L367.5,187.2L367.8,188.4L369.1,189.3L370.9,190.5L371.1,191.3L372.3,190.8L372.4,191.7L374.4,192.4L374.2,191.2L375.0,190.9L375.5,190.3L374.7,189.3Z" fill="#fdbb84" stroke="#4a443e" stroke-opacity="0.8" stroke-width="0.5" stroke-linejoin="round"/>
<path d="M375.0,190.9L374.2,191.2L374.4,192.4L375.5,192.6L375.8,191.7L375.0,190.9Z" fill="#fdbb84" stroke="#4a443e" stroke-opacity="0.8" stroke-width="0.5" stroke-linejoin="round"/>
<path d="M367.8,188.4L369.1,189.3L370.9,190.5L371.1,191.3L372.3,190.8L372.4,191.7L374.4,192.4L375.5,192.6L376.3,193.4L377.8,193.5L379.3,193.8L378.5,194.9L378.0,196.0L378.2,197.4L377.0,198.1L375.9,199.5L375.2,200.3L374.9,201.0L375.5,200.6L376.7,200.4L376.7,201.0L377.2,201.6L376.7,201.8L377.4,202.8L376.5,203.7L377.2,204.4L377.1,205.5L378.7,206.2L378.4,207.1L378.7,210.4L370.1,211.7L369.3,210.6L366.9,210.8L366.4,210.4L365.7,210.2L364.2,209.5L364.2,209.8L361.2,209.4L359.8,209.0L358.9,208.1L356.5,206.5L350.5,195.0L358.7,189.9L365.7,187.4L367.8,188.4Z" fill="#fdbb84" stroke="#4a443e" stroke-opacity="0.8" stroke-width="0.5" stroke-linejoin="round"/>
<path d="M358.9,208.1L359.8,209.0L361.2,209.4L364.2,209.8L364.2,209.5L365.7,210.2L366.4,210.4L366.9,210.8L369.3,210.6L372.2,211.7L364.9,227.3L350.5,228.1L345.4,226.0L346.7,224.2L346.5,223.3L347.7,221.6L347.0,220.9L347.7,219.5L346.7,217.8L347.8,217.7L348.2,216.1L348.1,214.3L349.6,212.8L348.8,211.8L345.6,212.2L345.4,211.5L344.0,212.0L340.6,211.7L344.1,204.0L359.0,206.5Z" fill="#fdbb84" stroke="#4a443e" stroke-opacity="0.8" stroke-width="0.5" stroke-linejoin="round"/>
<path d="M344.0,212.0L345.4,211.5L345.6,212.2L348.8,211.8L349.6,212.8L348.1,214.3L348.2,216.1L347.8,217.7L346.7,217.8L347.7,219.5L347.0,220.9L347.7,221.6L346.5,223.3L346.7,224.2L346.5,226.5L338.9,226.0L339.5,211.7L344.0,212.0Z" fill="#fdbb84" stroke="#4a443e" stroke-opacity="0.8" stroke-width="0.5" stroke-linejoin="round"/>
<path d="M377.2,201.6L376.7,201.0L376.7,200.4L375.5,200.6L374.9,201.0L375.2,200.3L375.9,199.5L377.0,198.1L378.2,197.4L380.2,197.1L382.3,197.4L382.2,198.7L383.4,199.2L384.1,199.2L383.5,200.8L381.8,200.4L381.2,201.8L380.0,200.3L380.1,200.6L378.9,201.6L377.2,201.6Z" fill="#fdbb84" stroke="#4a443e" stroke-opacity="0.8" stroke-width="0.5" stroke-linejoin="round"/>
<path d="M390.7,194.3L389.9,195.4L388.6,196.0L389.2,196.9L389.3,197.6L387.6,197.2L385.1,197.8L384.0,197.4L383.5,198.1L382.3,197.4L382.2,198.7L383.4,199.2L384.1,199.2L385.2,199.4L387.7,198.7L388.1,199.6L390.9,200.1L392.6,200.4L394.8,199.6L395.7,199.2L396.4,197.8L397.5,197.1L397.6,196.3L397.0,194.8L395.3,194.4L393.0,193.7L392.5,194.8L390.7,194.3Z" fill="#fdd49e" stroke="#4a443e" stroke-opacity="0.8" stroke-width="0.5" stroke-linejoin="round"/>
<path d="M378.4,207.1L378.7,206.2L377.1,205.5L377.2,204.4L376.5,203.7L377.4,202.8L376.7,201.8L377.2,201.6L378.9,201.6L380.1,200.6L380.0,200.3L381.2,201.8L381.8,200.4L383.5,200.8L384.1,199.2L385.2,199.4L387.7,198.7L388.1,199.6L390.9,200.1L390.2,200.9L390.7,201.8L391.1,202.4L390.2,203.5L390.1,205.0L404.1,215.6L401.4,222.1L395.7,223.2L392.5,216.9L381.6,210.4L379.9,208.4L378.5,207.8Z" fill="#fdd49e" stroke="#4a443e" stroke-opacity="0.8" stroke-width="0.5" stroke-linejoin="round"/>
<path d="M392.3,189.0L391.2,188.7L389.6,189.4L387.7,190.3L386.9,190.5L387.8,191.6L388.0,192.7L389.8,193.9L390.7,194.3L392.5,194.8L393.0,193.7L395.3,194.4L397.0,194.8L397.5,194.1L399.2,193.5L400.6,192.4L397.9,190.6L396.2,191.0L395.3,189.6L394.2,189.4L393.2,188.8L392.3,189.0Z" fill="#fdbb84" stroke="#4a443e" stroke-opacity="0.8" stroke-width="0.5" stroke-linejoin="round"/>
<path d="M400.6,192.4L399.2,193.5L397.5,194.1L397.0,194.8L397.6,196.3L398.9,196.9L401.0,196.7L402.6,195.8L404.2,195.0L406.0,194.9L407.6,195.3L408.2,193.5L406.0,192.7L403.6,192.7L402.6,193.2L401.9,192.2L400.6,192.4Z" fill="#fdbb84" stroke="#4a443e" stroke-opacity="0.8" stroke-width="0.5" stroke-linejoin="round"/>
<path d="M407.6,195.3L406.0,194.9L404.2,195.0L402.6,195.8L401.0,196.7L398.9,196.9L397.6,196.3L397.5,197.1L396.4,197.8L395.7,199.2L396.7,200.2L397.4,200.4L399.0,201.5L401.6,201.6L402.9,201.0L404.4,201.1L406.2,200.6L407.0,199.0L409.3,196.4L407.6,195.3Z" fill="#fdbb84" stroke="#4a443e" stroke-opacity="0.8" stroke-width="0.5" stroke-linejoin="round"/>
<path d="M390.9,200.1L392.6,200.4L394.8,199.6L395.7,199.2L396.7,200.2L394.9,200.8L394.9,201.8L394.3,202.8L392.8,202.3L390.8,202.8L390.6,202.4L391.1,202.4L390.7,201.8L390.2,200.9L390.9,200.1Z" fill="#fdbb84" stroke="#4a443e" stroke-opacity="0.8" stroke-width="0.5" stroke-linejoin="round"/>
<path d="M390.8,202.8L392.8,202.3L394.3,202.8L394.9,201.8L394.9,200.8L396.7,200.2L397.4,200.4L399.0,201.5L401.6,201.6L402.0,202.8L402.8,203.5L402.1,204.3L399.7,203.8L397.6,203.3L395.3,203.5L395.4,204.5L396.3,206.0L397.5,207.2L399.6,209.0L399.7,209.4L401.5,210.2L401.6,210.7L400.6,211.7L389.8,206.5L390.2,202.9L390.8,202.8Z" fill="#fdbb84" stroke="#4a443e" stroke-opacity="0.8" stroke-width="0.5" stroke-linejoin="round"/>
<path d="M402.1,204.3L399.7,203.8L397.6,203.3L395.3,203.5L395.4,204.5L396.3,206.0L397.5,207.2L399.6,209.0L399.7,209.4L401.5,210.2L401.8,208.5L402.3,207.8L402.9,207.8L403.5,206.7L402.4,205.8L402.1,204.3Z" fill="#fdd49e" stroke="#4a443e" stroke-opacity="0.8" stroke-width="0.5" stroke-linejoin="round"/>
<path d="M402.1,204.3L402.8,203.5L402.0,202.8L401.6,201.6L402.9,201.0L404.4,201.1L406.1,203.1L407.2,203.6L407.1,204.5L408.7,205.3L409.8,205.1L409.8,206.0L409.4,207.2L410.8,208.9L409.7,210.9L408.2,211.1L408.4,210.0L407.6,209.5L406.2,208.5L405.4,209.5L402.9,207.8L402.3,207.8L402.9,207.8L403.5,206.7L402.4,205.8L402.1,204.3Z" fill="#fdbb84" stroke="#4a443e" stroke-opacity="0.8" stroke-width="0.5" stroke-linejoin="round"/>
<path d="M405.4,209.5L406.2,208.5L407.6,209.5L408.4,210.0L408.2,211.1L406.1,212.0L404.9,210.3L405.4,209.5Z" fill="url(#h)" stroke="#cfcfcf" stroke-width="0.45" stroke-linejoin="round"/>
<path d="M402.3,207.8L401.8,208.5L401.5,210.2L401.2,211.2L403.2,212.5L403.6,212.1L403.9,210.3L404.9,210.3L405.4,209.5L402.9,207.8L402.3,207.8Z" fill="#fdbb84" stroke="#4a443e" stroke-opacity="0.8" stroke-width="0.5" stroke-linejoin="round"/>
<path d="M404.9,210.3L403.9,210.3L403.6,212.1L402.5,214.3L403.9,218.2L405.4,217.7L406.7,216.1L407.2,214.7L406.1,213.5L406.1,212.0L404.9,210.3Z" fill="#fef0d9" stroke="#4a443e" stroke-opacity="0.8" stroke-width="0.5" stroke-linejoin="round"/>
<path d="M406.1,212.0L408.2,211.1L409.7,210.9L410.9,211.8L411.2,213.4L408.9,214.4L407.2,214.7L406.1,213.5L406.1,212.0Z" fill="#fdbb84" stroke="#4a443e" stroke-opacity="0.8" stroke-width="0.5" stroke-linejoin="round"/>
<path d="M407.2,214.7L406.7,216.1L405.4,217.7L403.4,219.5L408.3,227.3L414.8,227.9L417.0,223.4L416.2,219.5L415.4,215.9L418.0,215.1L418.9,213.4L418.3,212.5L416.2,213.7L414.5,212.9L411.2,213.4L408.9,214.4L407.2,214.7Z" fill="#fdbb84" stroke="#4a443e" stroke-opacity="0.8" stroke-width="0.5" stroke-linejoin="round"/>
<path d="M409.8,206.0L409.4,207.2L410.8,208.9L409.7,210.9L410.9,211.8L411.2,213.4L414.5,212.9L416.2,213.7L418.3,212.5L420.2,211.5L421.7,211.7L423.6,210.4L423.8,207.2L422.4,207.2L418.9,206.2L416.1,207.5L413.8,207.2L410.7,207.1L409.8,206.0Z" fill="#fdbb84" stroke="#4a443e" stroke-opacity="0.8" stroke-width="0.5" stroke-linejoin="round"/>
<path d="M531.6,211.2L531.9,208.7L528.6,204.5L532.6,202.6L532.3,198.3L537.7,198.7L536.7,195.3L539.0,193.5L539.8,193.3L543.3,196.0L548.7,199.0L550.9,203.5L556.4,204.1L561.1,205.9L565.0,209.8L572.7,210.0L576.6,210.4L584.4,212.8L592.9,210.6L596.3,207.3L594.3,205.6L598.3,204.6L601.9,202.8L602.3,200.6L608.2,199.9L608.4,199.5L601.9,197.2L597.8,196.5L597.8,194.5L597.0,191.6L599.8,192.5L601.7,191.2L600.7,187.1L600.3,184.8L598.6,184.3L599.4,182.9L604.0,182.3L609.1,183.5L610.4,184.4L616.6,188.7L618.9,191.7L623.5,192.7L626.9,194.1L629.5,197.1L632.7,196.9L635.9,195.3L636.3,198.1L637.5,201.4L638.2,203.7L635.3,203.2L634.2,204.4L637.0,207.8L636.9,210.0L637.5,210.9L641.3,214.3L620.7,222.1L577.7,222.1L534.7,222.1Z" fill="#fef0d9" />
<path d="M539.8,193.3L542.9,191.8L546.7,189.2L551.1,189.8L558.2,191.8L559.1,189.8L558.0,185.9L565.7,187.8L567.0,189.7L576.2,190.3L581.5,192.9L586.0,193.4L589.8,192.4L591.5,190.6L597.0,191.6L597.8,194.5L597.8,196.5L601.9,197.2L608.4,199.5L608.2,199.9L602.3,200.6L601.9,202.8L598.3,204.6L594.3,205.6L596.3,207.3L592.9,210.6L584.4,212.8L576.6,210.4L572.7,210.0L565.0,209.8L561.1,205.9L556.4,204.1L550.9,203.5L548.7,199.0L543.3,196.0L539.8,193.3Z" fill="#fdd49e" stroke="#4a443e" stroke-opacity="0.8" stroke-width="0.5" stroke-linejoin="round"/>
<path d="M463.8,200.5L462.1,199.6L458.2,196.3L456.9,195.1L457.6,193.2L457.0,192.9L457.7,190.1L460.4,191.3L460.2,189.7L463.3,186.8L466.3,186.8L471.2,188.7L473.9,189.7L477.1,188.4L479.3,188.6L482.1,189.1L485.1,189.2L485.1,188.1L481.6,186.4L483.0,185.4L482.2,184.3L482.5,183.7L484.5,183.7L482.2,182.3L481.4,181.3L485.4,180.7L489.2,180.3L494.3,178.7L499.1,178.0L501.1,180.9L504.9,181.2L506.3,182.5L511.3,180.7L511.8,180.1L515.1,182.9L522.3,189.2L528.8,188.7L534.2,192.2L537.0,191.7L539.0,193.5L536.7,195.3L537.7,198.7L532.3,198.3L532.6,202.6L528.6,204.5L531.9,208.7L531.6,211.2L528.4,209.6L521.6,209.3L518.2,208.6L517.2,210.6L513.3,209.6L512.0,211.1L508.6,213.3L507.1,215.3L503.4,213.8L501.5,210.7L501.2,209.1L498.1,207.2L489.5,205.5L483.4,202.6L478.7,204.0L481.2,213.5L477.9,211.6L474.3,211.5L473.4,212.4L471.2,211.7L469.7,205.3L470.9,201.9L466.8,201.9Z" fill="#fdbb84" stroke="#4a443e" stroke-opacity="0.8" stroke-width="0.5" stroke-linejoin="round"/>
<path d="M512.0,211.1L508.6,213.3L507.1,215.3L503.4,213.8L501.5,210.7L501.2,209.1L498.1,207.2L489.5,205.5L483.4,202.6L478.7,204.0L481.2,213.5L483.4,213.5L485.6,209.6L489.0,211.2L489.8,213.3L493.8,214.1L495.5,216.9L500.1,219.6L506.2,223.8L509.0,224.2L509.3,222.1L508.4,219.8L507.2,217.9L509.1,217.9L510.1,216.4L512.2,214.8L511.8,214.3L512.9,215.0L512.9,216.4L513.7,216.1L515.7,215.7L517.7,214.7L515.6,214.2L513.8,213.9L511.0,212.9L512.0,211.1Z" fill="#fdd49e" stroke="#4a443e" stroke-opacity="0.8" stroke-width="0.5" stroke-linejoin="round"/>
<path d="M473.4,212.4L474.3,211.5L477.9,211.6L481.2,213.5L483.4,213.5L485.6,209.6L489.0,211.2L489.8,213.3L493.8,214.1L495.5,216.9L500.1,219.6L506.2,223.8L502.6,224.5L502.4,226.5L499.7,227.7L498.3,229.6L495.8,228.4L495.0,225.6L493.3,225.6L490.5,223.4L485.6,221.5L483.7,222.0L480.8,223.5L478.9,223.8L475.6,222.1L473.2,215.6L473.4,212.4Z" fill="#fdbb84" stroke="#4a443e" stroke-opacity="0.8" stroke-width="0.5" stroke-linejoin="round"/>
<path d="M512.0,211.1L513.3,209.6L517.2,210.6L518.2,208.6L521.6,209.3L528.4,209.6L531.6,211.2L528.8,214.2L525.6,214.3L524.2,215.9L521.6,215.7L520.0,217.4L520.0,218.3L516.5,218.6L513.6,217.9L510.6,218.1L510.6,216.6L512.9,216.4L513.7,216.1L515.7,215.7L517.7,214.7L515.6,214.2L513.8,213.9L511.0,212.9L512.0,211.1Z" fill="#fdd49e" stroke="#4a443e" stroke-opacity="0.8" stroke-width="0.5" stroke-linejoin="round"/>
<path d="M509.0,224.2L509.3,222.1L508.4,219.8L507.2,217.9L509.1,217.9L510.1,216.4L512.2,214.8L511.8,214.3L512.9,215.0L512.9,216.4L510.6,216.6L510.6,218.1L513.6,217.9L516.5,218.6L520.0,218.3L521.2,220.9L523.3,220.9L524.3,224.1L520.7,223.5L519.7,224.7L517.6,225.5L516.5,222.4L514.8,220.9L513.7,222.4L512.4,223.3L509.6,224.7L509.0,224.2Z" fill="#fdbb84" stroke="#4a443e" stroke-opacity="0.8" stroke-width="0.5" stroke-linejoin="round"/>
<path d="M418.0,215.1L418.9,213.4L418.3,212.5L420.2,211.5L421.7,211.7L423.6,210.4L436.0,209.1L450.0,210.9L450.5,213.0L452.5,213.1L454.7,214.1L455.5,215.0L455.6,216.6L458.2,217.7L457.6,218.5L457.7,222.1L459.4,224.3L454.2,224.4L449.2,225.2L444.8,225.1L442.0,225.2L442.1,226.7L440.6,227.5L438.8,228.6L427.9,228.6L420.2,227.3L418.0,220.8L417.5,215.6Z" fill="#fdbb84" stroke="#4a443e" stroke-opacity="0.8" stroke-width="0.5" stroke-linejoin="round"/>
<path d="M450.5,213.0L449.3,213.0L445.3,208.4L446.3,208.1L451.7,208.6L454.9,210.2L456.9,209.8L458.7,210.4L460.6,212.0L461.2,214.2L457.9,213.5L454.7,214.1L452.5,213.1L450.5,213.0Z" fill="#fdbb84" stroke="#4a443e" stroke-opacity="0.8" stroke-width="0.5" stroke-linejoin="round"/>
<path d="M454.7,214.1L457.9,213.5L459.6,215.9L460.8,217.7L462.4,219.8L461.5,219.9L460.5,218.2L458.2,217.7L455.6,216.6L455.5,215.0L454.7,214.1Z" fill="#fdd49e" stroke="#4a443e" stroke-opacity="0.8" stroke-width="0.5" stroke-linejoin="round"/>
<path d="M457.9,213.5L461.2,214.2L460.6,212.0L462.6,213.5L464.1,213.8L465.2,212.1L470.3,214.3L471.2,218.2L468.4,221.6L467.6,220.9L466.0,218.6L465.1,217.7L462.4,219.8L460.8,217.7L459.6,215.9L457.9,213.5Z" fill="#fdd49e" stroke="#4a443e" stroke-opacity="0.8" stroke-width="0.5" stroke-linejoin="round"/>
<path d="M458.2,217.7L460.5,218.2L461.5,219.9L460.0,219.6Z" fill="#fdd49e" stroke="#4a443e" stroke-opacity="0.8" stroke-width="0.5" stroke-linejoin="round"/>
<path d="M439.7,234.9L440.9,234.5L441.3,234.1L441.5,233.5L442.7,232.0L442.2,231.0L441.1,230.9L439.5,231.3L439.1,234.9Z" fill="#e34a33" stroke="#4a443e" stroke-opacity="0.8" stroke-width="0.5" stroke-linejoin="round"/>
<path d="M478.9,258.1L481.5,261.5L487.4,262.1L488.4,258.7L488.6,256.2L489.4,256.2L489.2,254.5L488.5,253.4L485.9,252.2L479.5,254.8L478.2,257.4Z" fill="#fdbb84" stroke="#4a443e" stroke-opacity="0.8" stroke-width="0.5" stroke-linejoin="round"/>
<path d="M477.0,256.8L478.4,257.3L479.7,256.6L479.2,252.2L475.8,252.2L476.2,256.1Z" fill="#fdbb84" stroke="#4a443e" stroke-opacity="0.8" stroke-width="0.5" stroke-linejoin="round"/>
<path d="M542.3,242.5L544.7,242.2L549.2,244.9L552.3,246.7L554.6,248.3L557.4,248.6L559.4,248.5L559.9,252.4L557.6,252.2L554.9,251.9L551.8,250.1L548.9,250.0L545.4,248.5L541.0,246.2L542.3,242.5Z" fill="#fdd49e" stroke="#4a443e" stroke-opacity="0.8" stroke-width="0.5" stroke-linejoin="round"/>
<path d="M564.3,264.9L563.4,261.6L562.6,260.3L561.0,257.4L561.4,255.6L560.4,254.0L560.9,252.3L563.1,253.5L564.6,255.3L570.4,256.0L570.3,257.4L568.2,258.5L568.4,260.0L569.2,261.3L569.9,260.9L570.8,259.5L572.2,264.1L572.4,265.8L571.9,267.2L571.5,269.2L564.4,266.6Z" fill="#fdd49e" stroke="#4a443e" stroke-opacity="0.8" stroke-width="0.5" stroke-linejoin="round"/>
<path d="M635.3,222.8L635.6,221.3L637.9,220.5L642.5,220.5L648.1,232.6L637.2,232.6L632.9,222.8Z" fill="#fdd49e" stroke="#4a443e" stroke-opacity="0.8" stroke-width="0.5" stroke-linejoin="round"/>
<path d="M495.8,228.4L495.0,231.8L496.8,237.8L499.2,239.5L497.8,243.4M497.8,243.4L501.6,244.6L505.2,244.6L509.8,243.4L509.5,240.7L512.2,239.4L515.5,238.1L515.2,234.9L516.8,234.3L515.6,232.6L518.0,231.6L518.5,228.8L517.2,227.1L519.4,225.2L522.8,225.1L524.3,224.1M524.3,224.1L527.4,227.3L531.8,228.6M531.8,228.6L530.2,230.7L524.1,230.7L524.9,234.9L526.4,235.8L528.6,237.0L527.5,240.1L526.6,243.0L524.9,245.6L523.2,248.5L519.8,248.3L518.3,250.3L520.0,252.2L520.1,254.3L522.5,257.7L517.6,257.9L516.5,259.5M497.8,243.4L500.5,246.7L502.7,247.6L503.1,250.2L504.5,251.8L501.4,252.8L501.1,255.6M531.8,228.6L534.8,232.3L537.4,235.8L535.1,236.4L536.3,237.9L537.3,240.1L542.3,242.5M559.4,248.5L560.8,248.1L561.5,250.1M561.5,250.1L562.9,247.6L567.2,248.8L568.9,251.3L564.2,251.5L561.7,251.1L561.5,250.1M567.2,248.8L568.3,248.8L572.3,245.6L574.9,245.5L576.4,244.6L579.8,247.6M572.2,264.1L573.4,263.4L573.2,258.7L574.9,259.1L575.5,255.7L576.2,253.2L577.8,250.2L580.0,250.6L579.8,247.6M579.8,247.6L583.2,249.3L584.2,253.9L582.2,256.8L583.0,259.0L585.9,260.8L587.4,261.6L587.0,263.6L589.5,265.4L591.7,265.1M591.7,265.1L589.8,268.3M589.8,268.3L587.5,269.7L585.2,273.0L584.2,273.0L586.6,276.2L587.9,279.5L587.3,281.9L589.9,285.5L590.3,288.4L591.5,290.6L589.9,294.3L589.4,295.3M589.8,268.3L590.9,268.8L591.0,270.5L592.7,270.4L592.6,273.4L593.1,275.7L595.1,273.9L596.5,274.8L598.0,273.4L601.3,275.7L601.8,278.3L604.0,280.4L604.2,283.4L603.6,284.0M603.6,284.0L598.6,284.2L597.7,285.9L597.3,286.1L598.5,288.9L599.1,291.0M593.5,304.6L595.3,305.2L595.9,306.7L597.5,306.5L598.2,305.2M591.7,265.1L593.2,266.2L592.8,262.8L593.6,262.9M593.6,262.9L595.7,264.6L598.1,266.8L600.7,268.0L599.1,270.1L602.0,272.7L605.6,277.0L608.2,279.6L608.7,282.1L608.8,283.0M608.8,283.0L606.5,283.4L605.5,285.0L603.6,284.0M608.8,283.0L609.2,289.3L605.8,291.2L606.8,293.2L604.1,292.9L602.9,294.3M593.6,262.9L597.6,262.6L600.4,260.4L603.7,261.7L603.8,264.0L607.2,265.1M627.6,217.0L629.8,214.6L630.4,212.2L632.5,211.7L635.3,210.6L635.8,209.4L637.5,210.9M459.4,224.3L461.2,227.3L462.8,228.1L462.0,232.6L463.7,235.2L468.2,238.3L468.2,240.4L469.0,241.7L470.4,243.2M454.2,224.4L451.9,226.3L452.4,228.4L452.1,231.5L447.8,234.2M447.8,234.2L449.0,237.4M449.0,237.4L451.7,237.9L455.8,240.1L462.1,245.1L466.2,245.4M466.2,245.4L468.0,243.0L469.1,243.0M466.2,245.4L468.4,246.8L470.5,246.8M447.8,234.2L443.8,237.0L441.3,235.9M440.9,234.5L441.3,235.9L440.9,236.7L441.1,238.4L441.0,240.4L440.5,244.3M449.0,237.4L444.4,239.1L446.9,241.7L445.9,243.0L444.3,243.4L442.9,245.1L440.4,244.7M460.4,278.6L461.2,276.0L464.1,276.0L469.3,276.2L471.0,276.8L472.4,273.9L474.4,272.8L480.9,271.8M480.9,271.8L487.5,269.2L488.6,264.0L487.4,262.1M480.9,271.8L483.9,277.9M506.2,223.8L502.6,224.5L502.4,226.5L499.7,227.7L498.3,229.6L495.8,228.4M495.8,228.4L495.0,225.6L493.3,225.6L490.5,223.4L485.6,221.5L483.7,222.0L480.8,223.5L478.9,223.8M506.2,223.8L509.0,224.2M524.3,224.1L520.7,223.5L519.7,224.7L517.6,225.5L516.5,222.4L514.8,220.9L513.7,222.4L512.4,223.3L509.6,224.7L509.0,224.2M520.0,218.3L521.2,220.9L523.3,220.9L524.3,224.1M520.0,218.3L520.0,217.4L521.6,215.7L524.2,215.9L525.6,214.3L528.8,214.2L531.6,211.2M539.0,193.5L536.7,195.3L537.7,198.7L532.3,198.3L532.6,202.6L528.6,204.5L531.9,208.7L531.6,211.2M539.8,193.3L543.3,196.0L548.7,199.0L550.9,203.5L556.4,204.1L561.1,205.9L565.0,209.8L572.7,210.0L576.6,210.4L584.4,212.8L592.9,210.6L596.3,207.3L594.3,205.6L598.3,204.6L601.9,202.8L602.3,200.6L608.2,199.9L608.4,199.5L601.9,197.2L597.8,196.5L597.8,194.5L597.0,191.6M597.0,191.6L599.8,192.5L601.7,191.2L600.7,187.1L600.3,184.8L598.6,184.3L599.4,182.9L604.0,182.3L609.1,183.5L610.4,184.4L616.6,188.7L618.9,191.7L623.5,192.7L626.9,194.1L629.5,197.1L632.7,196.9L635.9,195.3L636.3,198.1L637.5,201.4L638.2,203.7L635.3,203.2L634.2,204.4L637.0,207.8L636.9,210.0L637.5,210.9M462.4,219.8L465.1,217.7L466.0,218.6L467.6,220.9M440.6,227.5L442.1,226.7L442.0,225.2L444.8,225.1L449.2,225.2L454.2,224.4M454.2,224.4L459.4,224.3M459.4,224.3L457.7,222.1L457.6,218.5L458.2,217.7M487.4,262.1L481.5,261.5L478.9,258.1M487.4,262.1L488.4,258.7L488.6,256.2L489.4,256.2M440.9,234.5L439.7,234.9M441.1,230.9L442.2,231.0L442.7,232.0L441.5,233.5L441.3,234.1L440.9,234.5M477.0,256.8L478.4,257.3M488.5,253.4L489.2,254.5" fill="none" stroke="#4a443e" stroke-opacity="0.8" stroke-width="0.5" stroke-linejoin="round"/>
</g>
<path d="M438.4,239.6L438.7,239.0L439.3,237.7L439.6,235.7L439.7,234.9L440.4,232.8L440.9,231.4L441.1,230.9L440.4,228.6L440.6,227.5L440.9,225.8L440.1,225.6L439.2,225.9L437.5,225.2L435.8,226.9L433.9,227.2L432.0,225.9L429.1,225.1L428.8,226.5L427.1,226.9L425.7,225.8L423.8,225.2L422.0,225.5L421.9,224.7L421.3,223.2L421.3,222.5L419.2,221.3L420.8,220.9L420.1,219.5L419.8,218.7L418.3,218.2L418.9,216.5L421.2,216.0L422.2,216.0L424.3,215.9L426.1,215.0L424.1,214.3L424.3,213.8L425.4,213.8L426.8,213.8L429.1,213.5L429.9,213.1L431.7,212.1L433.8,211.7L436.7,211.6L438.7,212.5L439.6,213.5L441.0,213.9L443.0,214.3L444.1,214.4L446.8,214.3L448.5,214.2L450.2,213.3L450.5,213.0L450.5,212.6L450.4,211.3L448.6,209.1L446.3,208.1L445.6,207.6L444.0,206.3L441.1,204.7L440.0,204.2L438.4,203.5L440.0,203.2L441.2,201.3L441.1,199.6L443.0,198.6L442.2,198.3L440.8,198.6L439.5,198.7L438.1,199.5L435.2,200.6L434.3,201.0L435.4,202.9L437.9,202.8L438.3,203.1L438.1,203.8L436.0,204.0L435.3,204.5L433.6,205.3L432.2,205.0L431.8,203.5L429.9,203.1L431.9,201.4L430.2,201.2L428.0,200.6L428.4,200.1L425.8,200.3L425.4,201.2L424.1,202.9L424.1,203.5L422.9,205.0L422.3,206.2L422.4,207.2L422.2,208.1L421.1,208.6L421.3,209.9L420.5,210.4L421.7,211.7L421.7,212.0L423.1,213.1L424.2,213.7L424.0,214.3L422.5,214.2L421.0,214.4L420.2,215.3L419.3,215.9L418.5,216.8L419.0,216.0L419.7,215.3L418.0,215.1L417.6,214.7L415.7,214.4L414.4,214.5L413.1,215.0L414.6,216.6L413.6,216.0L413.8,217.1L412.5,216.3L413.2,217.1L411.4,215.3L410.8,216.9L412.6,219.1L411.9,218.7L411.7,219.9L412.6,219.9L414.6,220.5L415.6,222.2L414.5,223.0L413.5,222.4L412.2,222.4L412.7,223.4L413.2,223.9L411.8,223.3L412.1,224.5L412.9,226.2L411.9,225.2L411.4,226.3L410.4,224.7L410.1,225.5L409.5,224.9L409.3,223.9L408.1,222.5L409.3,221.5L412.2,222.1L410.8,221.2L408.4,221.2L407.8,220.7L407.1,219.6L406.3,218.7L405.8,218.2L405.4,217.7L405.3,217.2L403.9,215.7L403.8,213.5L403.6,212.1L402.9,211.5L401.6,210.7L400.7,210.0L399.4,209.1L397.0,207.8L395.9,207.3L394.3,206.3L393.6,204.7L393.6,204.0L392.5,203.2L392.0,204.1L391.4,204.4L390.6,202.7L391.1,202.3L389.7,202.3L388.2,202.9L388.6,204.1L388.3,205.4L388.9,206.4L390.9,207.6L392.5,210.6L394.5,211.8L396.9,212.0L396.3,212.8L398.5,214.1L400.8,215.2L402.1,216.5L401.8,217.4L401.0,216.8L399.2,215.7L398.2,217.0L399.4,219.4L398.2,220.3L397.2,222.3L396.3,221.9L396.7,220.5L397.4,219.9L396.9,218.6L396.0,216.9L395.3,216.9L394.0,215.2L392.9,214.7L391.5,213.8L390.0,213.4L388.5,212.4L387.6,211.5L386.0,210.7L384.7,209.3L384.2,207.7L383.2,206.4L381.3,205.5L380.4,205.8L379.5,206.8L378.4,207.1L377.8,207.3L377.3,207.7L376.6,208.5L375.2,208.9L373.9,208.4L372.3,208.2L370.4,208.1L369.1,209.1L369.1,209.9L369.3,210.6L369.6,210.9L369.4,212.0L367.4,213.3L365.3,214.1L364.5,215.1L362.7,216.9L362.1,218.3L363.1,220.2L361.6,221.2L361.2,223.0L360.5,223.2L359.1,223.8L357.9,225.4L357.4,225.1L355.1,225.4L353.2,225.5L352.1,226.0L351.1,226.9L350.6,227.3L349.1,226.0L348.9,225.1L347.7,224.2L346.7,224.2L345.6,224.7L343.3,224.7L343.6,222.2L343.6,220.8L342.3,220.0L342.6,218.6L343.8,216.5L344.3,213.9L344.0,212.0L344.1,211.2L343.2,209.4L345.1,208.1L346.2,207.2L348.0,207.7L350.8,207.7L354.8,208.0L356.4,208.2L358.5,208.4L358.9,208.1L359.5,207.8L360.0,205.3L360.2,204.9L360.4,202.4L360.3,201.0L359.0,200.1L358.3,198.6L358.2,198.2L356.4,197.6L355.8,197.1L353.8,196.8L353.0,196.2L353.1,195.4L353.6,194.6L354.6,194.5L356.6,194.1L357.2,194.9L358.7,194.6L359.7,194.6L359.5,194.1L358.8,192.0L359.5,192.1L360.2,192.0L360.5,192.9L362.1,193.0L362.9,192.5L364.9,191.3L365.9,190.7L365.9,189.3L366.4,188.8L367.5,188.6L367.8,188.4L368.5,188.1L369.1,187.8L369.8,187.6L370.0,186.8L370.8,186.2L372.0,183.8L373.3,183.2L374.8,182.6L376.2,182.5L376.8,182.8L376.6,182.2L378.3,181.9L379.4,182.3L379.6,181.5L380.2,181.4L379.9,180.8L379.4,180.2L380.1,179.9L379.4,178.9L378.9,177.5L378.3,177.3L378.2,176.2L378.3,174.5L379.0,173.5L381.5,172.3L382.7,172.0L382.6,172.7L382.2,173.9L382.3,174.8L383.6,175.3L382.2,175.9L382.0,176.6L381.4,177.3L381.0,177.5L381.4,178.1L381.6,178.9L381.0,179.2L382.1,180.1L382.4,180.3L383.9,180.2L384.4,180.1L383.9,181.3L385.0,181.4L386.2,180.8L386.9,180.0L388.1,180.4L388.6,179.6L389.3,180.3L390.3,181.4L392.9,180.7L394.5,179.8L395.3,179.7L396.6,179.3L398.1,179.1L399.1,179.7L398.9,180.3L400.8,180.1L401.2,179.6L401.3,178.8L402.3,178.8L403.2,177.0L403.0,176.1L402.7,175.0L402.6,173.8L403.4,172.8L405.3,172.0L406.4,172.9L407.5,173.8L408.4,173.7L408.9,173.1L408.5,171.7L408.6,170.5L407.1,170.4L406.7,170.0L406.5,169.1L406.2,168.4L407.4,168.1L408.6,167.8L410.3,167.5L411.8,167.6L414.7,167.8L415.3,167.2L416.2,166.6L418.5,166.6L417.4,166.1L415.3,164.9L413.7,165.2L412.2,165.5L408.7,166.2L405.1,167.0L403.5,165.6L401.7,164.4L401.8,163.8L401.8,162.7L401.1,161.1L401.2,159.2L402.6,158.3L403.7,157.4L405.8,155.5L407.3,154.8L405.5,153.1L404.7,152.9L403.1,152.9L401.4,153.5L400.3,154.1L400.0,155.5L398.9,157.7L396.2,158.8L395.0,160.4L394.0,160.8L393.8,162.5L393.9,163.4L394.2,164.9L396.6,165.8L397.6,166.8L397.1,168.2L396.2,169.2L394.6,169.7L394.0,170.6L394.1,172.0L393.9,173.2L393.8,174.6L393.4,175.9L392.5,175.9L391.1,175.9L390.1,176.5L390.3,177.3L389.2,177.7L388.0,177.8L387.6,177.2L387.0,176.1L386.5,175.5L387.1,174.6L385.8,173.5L385.1,172.1L383.9,170.6L383.5,169.1L383.4,168.7L383.1,168.4L382.5,166.8L382.0,168.0L381.4,168.9L380.2,169.3L379.2,170.3L377.7,171.0L376.0,171.4L375.2,170.7L373.9,170.3L373.1,169.1L372.4,168.0L372.3,166.8L372.3,165.6L371.7,164.1L371.8,162.7L371.9,161.3L373.7,160.6L375.5,160.0L376.5,159.2L377.9,158.3L379.8,157.8L381.2,156.2L383.0,156.0L382.4,155.1L384.0,153.7L384.6,152.5L385.1,151.1L387.4,149.5L388.2,148.2L390.6,147.3L387.5,147.6L384.6,148.2L387.2,146.6L389.7,145.1L391.0,146.0L391.1,144.9L394.3,144.3L396.7,143.3L398.9,143.3L401.2,143.6L401.7,142.1L404.9,141.1L407.0,141.4L408.1,141.2L409.7,142.5L414.1,142.8L412.0,143.4L410.9,143.6L412.8,144.2L414.0,144.0L415.9,143.7L418.1,145.1L418.7,144.8L421.5,145.3L425.0,146.2L430.1,147.9L433.2,149.8L434.0,150.7L433.1,151.6L429.5,152.4L425.0,151.8L421.9,151.0L418.3,149.9L419.7,151.4L422.9,153.6L423.8,154.8L424.1,155.9L426.6,157.1L429.0,157.4L430.4,157.3L429.8,156.2L427.0,155.0L427.4,154.4L429.4,154.8L432.7,155.8L434.1,155.8L432.8,154.5L433.1,152.7L435.6,151.5L439.1,152.5L439.7,152.8L438.3,151.7L438.4,150.4L437.2,148.2L435.7,146.5L440.6,147.3L440.4,148.9L442.7,150.6L444.7,150.2L445.6,148.3L447.6,147.9L451.9,146.0L454.3,147.5L456.5,146.9L459.6,146.3L463.4,147.1L464.0,147.3L465.0,146.0L463.4,144.0L470.7,145.1L474.6,146.0L476.1,147.1L477.1,146.0L474.5,144.6L472.1,141.4L473.7,139.2L473.2,137.3L474.0,136.3L478.0,137.3L479.6,137.8L480.9,140.7L483.6,143.6L484.8,146.0L485.6,150.2L487.0,151.8L489.3,150.7L488.5,148.0L490.8,146.4L495.9,148.9L497.2,148.9L492.1,145.8L487.7,145.5L485.3,142.5L482.8,140.7L484.2,139.2L482.7,137.4L487.4,138.0L489.9,139.2L490.9,138.5L493.3,139.0L495.2,139.9L499.9,142.7L498.8,140.3L495.0,138.6L490.6,136.1L497.8,134.4L497.8,132.8L502.8,131.6L508.1,130.8L511.9,130.2L515.5,130.0L518.2,127.6L522.3,128.2L525.6,129.6L530.9,129.6L536.1,130.6L537.7,132.4L539.0,134.0L536.2,135.0L532.6,136.7L537.9,136.5L541.5,135.4L543.2,136.3L546.7,135.9L553.8,137.1L556.3,137.2L560.2,137.1L557.8,135.9L562.6,135.2L569.7,137.3L572.4,140.0L577.0,141.6L578.1,141.8L578.4,140.1L578.0,139.3L583.3,140.1L587.1,140.5L590.1,140.3L588.3,138.4L588.1,137.4L592.3,137.8L598.0,138.4L604.6,139.0L608.5,140.3L613.3,141.7L617.6,141.3L623.0,141.6L628.1,143.3L631.8,144.4L633.7,144.3L638.0,144.4L642.0,143.8L649.0,146.2L646.5,144.2L645.5,143.3L650.5,143.9L655.0,143.8L660.2,144.8L665.2,145.8L678.4,154.5L677.4,155.7L675.3,155.5L679.7,157.3L684.3,159.7L686.4,161.2L681.5,160.6L679.2,162.2L678.0,164.1L677.1,166.6L670.3,166.1L669.3,166.8L667.7,165.7L665.6,166.8L666.9,168.9L668.9,171.4L670.5,172.1L672.2,174.4L674.6,175.7L673.1,175.7L676.2,179.3L674.0,181.2L676.0,183.2L673.8,183.7L675.5,186.2L674.9,189.0L671.7,186.7L667.8,183.7L664.2,179.9L661.1,176.7L659.1,173.1L658.2,171.8L659.3,170.6L660.3,168.7L660.6,165.8L659.2,163.0L659.0,160.6L656.6,160.8L657.0,164.1L656.6,165.1L653.5,162.0L651.1,162.2L648.0,162.7L650.3,168.0L648.6,167.7L642.2,167.6L639.2,168.0L632.8,168.1L628.6,168.1L627.2,168.9L627.3,171.8L626.0,175.1L627.5,179.7L625.0,179.7L629.9,180.4L632.1,180.7L634.2,180.7L638.3,183.3L638.9,182.9L641.7,185.7L642.1,187.6L644.5,191.2L646.0,193.7L646.5,198.1L646.9,200.1L645.7,204.5L645.0,206.5L645.1,207.3L641.5,209.6L638.9,208.9L638.3,210.3L637.4,210.2L637.5,210.9L637.0,210.9L636.6,212.4L637.6,214.6L636.9,215.2L635.9,216.8L634.7,217.4L635.3,219.1L636.9,220.0L637.9,220.5L639.0,221.6L640.2,222.8L642.2,224.7L643.4,227.2L644.0,228.6L643.8,229.7L641.8,230.5L641.2,230.7L639.0,231.8L638.2,230.5L637.3,227.5L635.5,225.4L635.6,223.5L635.3,222.8L633.0,222.1L630.7,221.9L631.0,220.3L630.0,218.2L627.6,217.0L625.2,217.9L623.1,219.8L622.3,220.2L622.1,218.2L622.1,215.6L620.8,214.4L619.3,214.7L619.4,215.3L617.5,217.2L617.0,219.1L614.7,219.5L615.2,220.8L618.8,222.6L619.2,223.9L620.1,224.5L621.4,223.5L622.6,222.6L624.3,223.3L626.0,223.4L627.3,223.7L627.4,225.0L625.5,225.5L623.7,227.2L622.7,228.9L622.8,230.6L625.5,231.8L628.1,235.2L631.0,237.8L631.6,238.6L632.0,240.4L630.6,241.5L630.6,242.1L633.2,243.2L634.0,245.4L633.7,246.9L632.5,248.4L631.6,250.9L631.1,253.4L630.7,255.3L629.8,256.6L628.6,257.5L626.1,260.4L623.6,262.1L620.9,263.2L619.3,262.0L619.5,263.6L616.2,264.7L612.8,266.0L612.9,268.5L611.3,266.8L611.2,265.4L609.7,265.4L608.0,264.9L607.2,265.1L605.4,266.7L604.8,267.4L604.6,268.7L603.3,269.8L603.2,272.6L605.1,274.2L605.8,275.7L608.4,278.2L610.0,279.4L611.7,281.5L611.9,282.0L613.1,285.5L613.7,287.8L613.3,289.5L613.4,290.5L613.1,291.3L611.1,293.0L609.0,294.4L608.2,295.3L607.5,296.6L603.9,299.0L604.4,295.3L602.9,294.3L602.5,294.0L600.6,293.8L599.6,292.5L599.1,291.2L598.1,289.7L596.9,288.8L595.0,288.4L594.2,288.4L594.1,287.6L593.2,286.2L592.0,286.7L592.1,287.5L592.0,288.7L591.9,290.6L590.9,294.0L591.5,297.6L592.7,297.3L593.2,299.5L594.6,302.7L596.2,303.5L597.6,304.8L598.2,305.2L598.5,305.3L600.7,307.5L601.5,309.7L601.4,311.6L601.6,314.2L602.6,315.1L603.7,317.8L602.5,318.1L601.8,318.1L600.4,316.8L598.9,315.7L597.8,315.0L596.8,313.7L595.4,311.0L594.9,310.4L594.2,307.4L594.0,305.5L593.5,304.6L593.3,304.2L591.8,302.4L590.5,300.4L589.2,301.1L589.1,300.0L588.8,298.7L589.5,295.5L589.4,295.3L589.0,288.9L587.4,284.7L586.4,281.6L585.5,278.3L584.4,277.0L582.5,278.3L580.7,280.2L578.2,279.9L577.9,279.6L577.9,275.7L577.7,273.1L575.1,270.8L573.5,268.8L571.9,267.2L570.9,265.4L570.2,263.2L569.1,262.0L567.8,262.4L567.6,264.0L566.5,264.3L565.2,264.6L564.3,264.9L563.6,265.0L561.9,264.1L560.7,265.0L559.7,265.4L559.8,267.2L559.4,268.4L557.6,269.7L556.5,270.4L555.8,271.1L552.5,275.2L550.4,277.2L550.5,278.1L548.0,279.3L547.6,280.3L545.8,281.1L546.2,283.7L546.8,287.2L546.0,290.4L546.3,294.6L544.8,294.6L544.5,296.3L545.2,297.2L542.7,298.1L541.3,300.4L539.8,299.3L538.9,298.2L538.1,295.5L536.7,292.1L534.3,287.8L532.3,282.8L531.4,281.1L529.9,277.0L528.2,271.9L527.8,269.7L527.9,268.1L527.3,266.3L526.8,263.3L526.1,264.6L524.7,266.8L523.5,267.4L522.1,266.8L520.2,264.9L518.6,263.3L518.7,262.6L521.4,261.5L519.3,261.9L517.5,260.7L516.5,259.5L514.7,258.8L513.3,256.6L512.3,255.1L508.0,255.6L505.4,255.4L502.7,255.8L501.5,256.0L501.1,255.6L498.9,255.3L495.2,255.1L492.3,254.4L490.3,251.7L490.0,250.6L488.6,250.5L487.2,251.4L485.7,252.0L483.6,251.7L482.0,251.4L480.3,249.8L477.7,248.6L475.9,245.8L473.9,242.9L471.7,241.8L470.4,243.2L469.1,243.0L468.7,244.7L469.7,245.6L470.5,246.8L471.9,249.3L473.8,250.9L475.0,251.8L475.4,254.3L477.0,256.8L476.7,254.8L477.1,253.4L477.6,253.1L478.5,254.1L478.5,255.3L478.8,257.0L478.4,257.1L478.9,258.1L481.2,258.2L483.4,258.5L485.2,257.5L487.0,255.4L488.3,254.0L488.5,253.4L489.1,252.6L489.2,254.5L489.4,256.2L490.5,257.8L494.8,259.8L495.9,261.5L497.8,262.6L497.1,265.5L495.6,268.1L493.7,270.1L493.9,271.9L491.6,274.3L488.9,275.3L486.1,277.0L483.9,277.9L481.9,279.1L479.8,281.7L477.1,282.7L475.2,283.6L472.6,284.9L469.7,286.4L465.9,288.0L462.4,288.4L461.9,286.7L461.0,282.8L460.5,281.0L460.4,278.6L459.8,277.3L457.2,274.2L455.2,270.5L454.0,268.8L451.3,265.3L450.8,261.9L448.4,258.5L446.4,256.0L444.4,252.8L442.5,250.0L441.2,248.1L440.0,248.3L440.4,244.9L440.5,244.3L440.2,244.3Z" fill="none" stroke="#4a443e" stroke-opacity="0.8" stroke-width="0.5" stroke-linejoin="round"/>
<path d="M227.8,458.5L229.1,459.6L231.1,461.6L233.8,462.9L236.5,463.4L234.4,464.4L230.2,464.1L227.8,458.5Z" fill="#fdd49e" stroke="#4a443e" stroke-opacity="0.8" stroke-width="0.5" stroke-linejoin="round"/>
<path d="M227.8,458.5L225.8,458.3L224.6,459.2L225.9,460.8L224.9,462.1L223.0,462.6L225.6,464.1L228.9,465.0L230.2,464.1L227.8,458.5Z" fill="#fdd49e" stroke="#4a443e" stroke-opacity="0.8" stroke-width="0.5" stroke-linejoin="round"/>
<path d="M170.5,264.3L172.9,262.1L175.3,261.3L176.7,260.9L178.7,261.1L180.9,261.5L183.0,262.9L185.7,263.2L188.0,264.7L190.6,266.0L192.7,267.4L194.5,268.5L192.4,269.4L190.6,269.3L186.3,269.6L187.6,267.9L185.9,267.4L184.8,266.6L182.8,264.9L180.6,263.8L178.4,263.4L176.9,262.9L175.6,262.3L174.1,263.4L172.7,264.0Z" fill="#fdd49e" stroke="#4a443e" stroke-opacity="0.8" stroke-width="0.5" stroke-linejoin="round"/>
<path d="M193.2,273.5L195.5,273.0L197.0,273.2L198.1,273.0L197.2,271.8L197.5,270.6L196.1,269.7L197.5,269.3L198.8,269.8L199.8,270.0L199.7,271.8L199.0,272.8L199.3,274.3L197.6,273.9L194.6,274.3Z" fill="#fdd49e" stroke="#4a443e" stroke-opacity="0.8" stroke-width="0.5" stroke-linejoin="round"/>
<path d="M199.8,270.0L200.1,269.4L202.2,269.7L204.0,270.1L205.5,271.0L206.5,271.9L207.2,272.8L206.4,273.9L205.7,273.4L203.6,273.2L202.2,273.9L200.9,273.6L200.0,275.5L199.3,274.3L199.0,272.8L199.7,271.8Z" fill="#fdd49e" stroke="#4a443e" stroke-opacity="0.8" stroke-width="0.5" stroke-linejoin="round"/>
<path d="M184.3,273.8L185.4,273.1L187.7,273.4L189.2,274.2L188.7,274.7L186.8,275.1L185.0,274.0Z" fill="#fdd49e" stroke="#4a443e" stroke-opacity="0.8" stroke-width="0.5" stroke-linejoin="round"/>
<path d="M209.7,273.2L213.3,273.4L213.0,274.4L209.6,274.5Z" fill="url(#h)" stroke="#cfcfcf" stroke-width="0.45" stroke-linejoin="round"/>
<path d="M220.3,295.2L221.0,293.5L222.6,293.2L222.4,294.9Z" fill="#fdd49e" stroke="#4a443e" stroke-opacity="0.8" stroke-width="0.5" stroke-linejoin="round"/>
<path d="M186.7,255.8L187.8,255.8L187.7,258.2L186.6,257.9Z" fill="#fdd49e" stroke="#4a443e" stroke-opacity="0.8" stroke-width="0.5" stroke-linejoin="round"/>
<path d="M189.0,251.1L190.2,251.9L189.8,253.5L189.2,252.7Z" fill="#fdd49e" stroke="#4a443e" stroke-opacity="0.8" stroke-width="0.5" stroke-linejoin="round"/>
<path d="M186.0,251.7L188.3,251.5L187.1,252.2Z" fill="#fdd49e" stroke="#4a443e" stroke-opacity="0.8" stroke-width="0.5" stroke-linejoin="round"/>
<path d="M227.3,156.6L225.6,155.0L232.5,153.9L235.7,151.4L238.8,149.1L236.8,146.9L233.9,144.9L231.5,143.6L226.6,143.4L221.9,143.1L218.9,142.7L216.7,141.4L217.8,138.6L221.5,135.9L225.9,135.3L226.8,137.1L230.6,135.4L234.4,135.7L237.8,136.3L240.0,137.5L242.0,139.2L246.4,141.2L249.6,142.5L250.8,144.6L253.1,148.0L256.7,150.9L252.8,153.4L248.9,152.5L245.2,151.4L247.2,154.1L250.6,155.2L246.9,158.7L243.8,159.0L240.9,157.7L243.0,160.4L244.0,162.0L240.0,161.1L236.9,160.0L233.2,157.1Z" fill="#fdbb84" stroke="#4a443e" stroke-opacity="0.8" stroke-width="0.5" stroke-linejoin="round"/>
<path d="M160.2,138.8L166.0,135.9L167.9,134.4L172.5,133.9L177.2,134.5L179.2,136.1L174.6,137.3L168.6,139.7L165.2,140.5L161.2,141.2Z" fill="#fdbb84" stroke="#4a443e" stroke-opacity="0.8" stroke-width="0.5" stroke-linejoin="round"/>
<path d="M167.8,144.4L171.1,146.6L179.0,146.3L186.5,145.5L193.0,144.4L195.4,143.1L193.3,141.8L196.1,140.1L196.1,138.2L195.7,135.9L192.0,136.7L187.7,139.2L187.4,137.3L183.6,137.1L180.4,136.4L175.3,136.7L171.5,138.6L168.8,140.1L170.8,140.6L168.4,141.6L169.2,142.3L176.9,142.6L168.7,143.3L167.7,143.8Z" fill="#fdbb84" stroke="#4a443e" stroke-opacity="0.8" stroke-width="0.5" stroke-linejoin="round"/>
<path d="M198.4,137.5L203.1,135.2L208.7,135.2L207.5,137.5L203.5,140.1L199.5,140.5Z" fill="#fdbb84" stroke="#4a443e" stroke-opacity="0.8" stroke-width="0.5" stroke-linejoin="round"/>
<path d="M208.4,138.8L211.3,135.7L216.4,134.6L220.2,135.2L218.1,137.3L215.3,137.8L211.2,139.2Z" fill="#fdbb84" stroke="#4a443e" stroke-opacity="0.8" stroke-width="0.5" stroke-linejoin="round"/>
<path d="M195.9,145.8L199.6,144.0L203.1,143.8L203.1,145.1L200.1,146.9L197.1,146.9Z" fill="#fdbb84" stroke="#4a443e" stroke-opacity="0.8" stroke-width="0.5" stroke-linejoin="round"/>
<path d="M210.5,154.1L214.7,152.5L217.3,153.1L219.0,155.7L220.1,157.6L217.2,158.5L214.6,157.1L209.6,159.2L207.5,157.8L210.9,155.9Z" fill="#fdbb84" stroke="#4a443e" stroke-opacity="0.8" stroke-width="0.5" stroke-linejoin="round"/>
<path d="M219.0,133.6L228.0,134.0L237.5,133.8L239.8,132.2L237.5,131.3L233.3,130.2L226.6,130.0L222.9,129.9L217.4,129.0L214.8,131.0L219.1,132.0Z" fill="#fdbb84" stroke="#4a443e" stroke-opacity="0.8" stroke-width="0.5" stroke-linejoin="round"/>
<path d="M213.5,132.2L217.8,131.8L216.6,133.6L213.3,133.8Z" fill="#fdbb84" stroke="#4a443e" stroke-opacity="0.8" stroke-width="0.5" stroke-linejoin="round"/>
<path d="M205.6,131.0L211.9,129.6L213.3,131.0L210.7,133.0L206.4,133.0L205.2,132.0Z" fill="#fdbb84" stroke="#4a443e" stroke-opacity="0.8" stroke-width="0.5" stroke-linejoin="round"/>
<path d="M182.3,131.8L187.6,130.2L192.6,131.0L198.2,129.6L200.5,131.4L197.8,133.0L193.7,133.2L191.1,133.4L184.6,134.2L184.6,133.0L181.2,132.6Z" fill="#fdbb84" stroke="#4a443e" stroke-opacity="0.8" stroke-width="0.5" stroke-linejoin="round"/>
<path d="M175.0,131.0L180.2,129.0L185.9,128.2L188.6,128.4L187.1,129.8L181.9,131.0L178.5,131.2Z" fill="#fdbb84" stroke="#4a443e" stroke-opacity="0.8" stroke-width="0.5" stroke-linejoin="round"/>
<path d="M226.4,130.2L233.0,130.4L239.7,130.6L244.9,129.2L247.5,127.2L252.3,126.1L254.5,124.6L260.3,123.9L266.7,122.3L271.4,121.1L276.6,120.0L276.9,119.2L272.4,118.5L267.3,118.2L256.3,118.3L250.1,118.9L243.7,119.6L236.7,120.8L233.5,121.6L239.0,122.3L239.2,123.3L236.5,125.1L237.6,126.1L232.5,126.6L230.1,128.2L226.7,129.2Z" fill="#fdbb84" stroke="#4a443e" stroke-opacity="0.8" stroke-width="0.5" stroke-linejoin="round"/>
<path d="M224.0,125.1L227.0,123.3L232.0,121.1L234.8,121.1L237.9,122.6L234.3,125.1L229.8,126.4L225.4,126.4Z" fill="#fdbb84" stroke="#4a443e" stroke-opacity="0.8" stroke-width="0.5" stroke-linejoin="round"/>
<path d="M208.4,126.4L214.3,124.8L217.2,125.9L212.3,127.4Z" fill="#fdbb84" stroke="#4a443e" stroke-opacity="0.8" stroke-width="0.5" stroke-linejoin="round"/>
<path d="M219.9,125.5L222.2,126.1L220.0,127.2L218.0,127.0Z" fill="#fdbb84" stroke="#4a443e" stroke-opacity="0.8" stroke-width="0.5" stroke-linejoin="round"/>
<path d="M252.5,187.2L249.0,191.2L250.2,192.0L251.9,192.7L254.9,192.2L254.8,193.1L255.3,194.5L253.7,196.3L255.3,197.3L253.8,199.7L251.7,199.2L252.6,197.6L250.2,198.8L248.2,199.2L249.5,197.6L245.5,197.3L241.8,197.3L242.8,195.0L244.9,193.2L246.2,192.5L248.0,189.9L249.9,187.9Z" fill="#fdbb84" stroke="#4a443e" stroke-opacity="0.8" stroke-width="0.5" stroke-linejoin="round"/>
<path d="M106.7,189.2L111.8,190.7L112.7,193.2L112.6,195.3L110.7,194.9L108.7,193.4L107.8,191.5L106.6,190.7Z" fill="#fdbb84" stroke="#4a443e" stroke-opacity="0.8" stroke-width="0.5" stroke-linejoin="round"/>
<path d="M104.4,180.7L106.5,181.2L104.6,183.2L103.8,186.2L102.9,183.7L103.4,181.7Z" fill="#fdbb84" stroke="#4a443e" stroke-opacity="0.8" stroke-width="0.5" stroke-linejoin="round"/>
<path d="M70.5,172.8L76.1,170.4L75.9,172.3L71.0,174.3Z" fill="#fdbb84" stroke="#4a443e" stroke-opacity="0.8" stroke-width="0.5" stroke-linejoin="round"/>
<path d="M56.1,158.5L60.2,157.8L61.1,158.7L58.0,159.4L56.3,158.7Z" fill="#fdbb84" stroke="#4a443e" stroke-opacity="0.8" stroke-width="0.5" stroke-linejoin="round"/>
<path d="M54.4,166.1L57.5,165.6L56.6,166.8L54.3,167.0Z" fill="#fdbb84" stroke="#4a443e" stroke-opacity="0.8" stroke-width="0.5" stroke-linejoin="round"/>
<path d="M233.3,191.5L237.8,192.7L238.2,193.5L234.7,193.0Z" fill="#fdbb84" stroke="#4a443e" stroke-opacity="0.8" stroke-width="0.5" stroke-linejoin="round"/>
<path d="M231.8,198.8L235.4,200.3L234.0,201.4L231.7,200.9Z" fill="#fdbb84" stroke="#4a443e" stroke-opacity="0.8" stroke-width="0.5" stroke-linejoin="round"/>
<path d="M281.5,167.0L278.4,164.9L274.6,164.1L272.7,161.8L271.2,156.6L270.2,153.9L270.4,150.3L271.8,148.0L273.5,146.4L277.0,145.3L274.0,145.1L271.5,144.2L272.5,142.9L276.9,142.0L272.8,142.0L273.1,140.1L272.8,137.5L272.6,134.0L270.2,131.8L267.7,131.0L260.6,131.2L258.2,130.0L255.6,129.0L259.2,128.0L255.3,126.8L254.8,126.4L263.5,125.1L268.8,124.0L269.0,123.0L267.3,122.5L274.0,121.3L277.6,120.4L282.4,119.6L288.1,119.5L293.8,119.2L301.1,118.5L308.4,117.8L317.6,117.5L324.7,117.8L329.9,118.5L333.8,119.2L328.7,120.0L336.1,120.6L346.7,120.9L345.0,121.6L339.8,122.8L337.3,124.6L333.8,127.0L334.4,129.4L331.8,132.0L332.1,134.0L328.5,136.1L326.7,138.8L326.4,142.5L325.4,143.3L320.8,145.3L317.9,146.9L311.8,147.7L307.2,148.9L303.9,151.6L297.1,153.4L292.5,154.8L289.6,158.3L285.8,161.8L283.7,165.3Z" fill="url(#h)" stroke="#cfcfcf" stroke-width="0.45" stroke-linejoin="round"/>
<path d="M319.9,153.6L322.9,151.5L325.3,153.6L327.5,152.3L330.6,152.1L334.7,151.3L337.5,151.6L339.0,154.6L337.1,156.2L335.8,156.5L330.6,158.4L328.8,158.5L326.2,158.1L322.3,157.6L323.8,156.6L320.5,155.1L324.1,154.5L323.0,153.9Z" fill="#fdd49e" stroke="#4a443e" stroke-opacity="0.8" stroke-width="0.5" stroke-linejoin="round"/>
<path d="M107.9,175.5L109.2,176.2L107.6,179.2L105.5,178.9L106.0,177.5Z" fill="#fdbb84" stroke="#4a443e" stroke-opacity="0.8" stroke-width="0.5" stroke-linejoin="round"/>
<path d="M106.5,171.1L109.2,171.1L107.7,173.3L105.6,175.7L105.6,174.3L105.9,172.6Z" fill="#fdbb84" stroke="#4a443e" stroke-opacity="0.8" stroke-width="0.5" stroke-linejoin="round"/>
<path d="M110.1,170.9L110.6,171.6L109.0,173.3L108.3,172.8Z" fill="#fdbb84" stroke="#4a443e" stroke-opacity="0.8" stroke-width="0.5" stroke-linejoin="round"/>
<path d="M221.9,278.7L222.4,278.8L222.4,279.5L221.9,279.4Z" fill="#fdd49e" stroke="#4a443e" stroke-opacity="0.8" stroke-width="0.5" stroke-linejoin="round"/>
<path d="M222.2,280.8L222.7,280.9L222.7,281.6L222.2,281.5Z" fill="#fdd49e" stroke="#4a443e" stroke-opacity="0.8" stroke-width="0.5" stroke-linejoin="round"/>
<path d="M222.8,282.8L223.4,282.9L223.3,283.6L222.8,283.5Z" fill="#fdd49e" stroke="#4a443e" stroke-opacity="0.8" stroke-width="0.5" stroke-linejoin="round"/>
<path d="M222.8,284.7L223.3,284.8L223.3,285.5L222.8,285.5Z" fill="#fdd49e" stroke="#4a443e" stroke-opacity="0.8" stroke-width="0.5" stroke-linejoin="round"/>
<path d="M222.1,286.4L222.7,286.5L222.6,287.2L222.1,287.2Z" fill="#fdd49e" stroke="#4a443e" stroke-opacity="0.8" stroke-width="0.5" stroke-linejoin="round"/>
<path d="M220.9,289.5L221.4,289.5L221.4,290.2L220.9,290.2Z" fill="#fdd49e" stroke="#4a443e" stroke-opacity="0.8" stroke-width="0.5" stroke-linejoin="round"/>
<path d="M225.9,286.7L226.5,286.8L226.4,287.5L225.9,287.4Z" fill="#fdd49e" stroke="#4a443e" stroke-opacity="0.8" stroke-width="0.5" stroke-linejoin="round"/>
<path d="M221.5,276.4L222.1,276.5L222.0,277.2L221.5,277.1Z" fill="#fdd49e" stroke="#4a443e" stroke-opacity="0.8" stroke-width="0.5" stroke-linejoin="round"/>
<path d="M219.4,275.9L219.9,275.9L219.9,276.6L219.4,276.6Z" fill="#fdd49e" stroke="#4a443e" stroke-opacity="0.8" stroke-width="0.5" stroke-linejoin="round"/>
<path d="M214.8,274.7L215.4,274.8L215.3,275.5L214.8,275.4Z" fill="#fdd49e" stroke="#4a443e" stroke-opacity="0.8" stroke-width="0.5" stroke-linejoin="round"/>
<path d="M218.9,273.8L219.4,273.8L219.4,274.5L218.9,274.5Z" fill="#fdd49e" stroke="#4a443e" stroke-opacity="0.8" stroke-width="0.5" stroke-linejoin="round"/>
<path d="M475.9,352.9L477.1,355.5L478.2,361.5L476.3,362.0L476.3,365.4L475.2,368.6L473.5,373.8L471.2,379.8L469.2,384.8L468.4,386.9L464.9,388.3L461.6,386.9L460.6,383.0L460.6,379.0L463.2,374.6L463.6,371.2L463.0,367.3L464.3,363.9L468.5,362.6L470.9,360.2L472.7,357.1L474.7,354.2Z" fill="#fef0d9" stroke="#4a443e" stroke-opacity="0.8" stroke-width="0.5" stroke-linejoin="round"/>
<path d="M305.0,276.8L305.7,276.6L305.7,277.2Z" fill="#fef0d9" stroke="#4a443e" stroke-opacity="0.8" stroke-width="0.5" stroke-linejoin="round"/>
<path d="M307.0,277.9L307.7,277.9L307.5,278.3Z" fill="#fef0d9" stroke="#4a443e" stroke-opacity="0.8" stroke-width="0.5" stroke-linejoin="round"/>
<path d="M308.4,281.5L309.1,282.0L308.7,282.5L308.3,282.1Z" fill="#fef0d9" stroke="#4a443e" stroke-opacity="0.8" stroke-width="0.5" stroke-linejoin="round"/>
<path d="M306.6,282.4L307.1,282.3L307.0,282.8Z" fill="#fef0d9" stroke="#4a443e" stroke-opacity="0.8" stroke-width="0.5" stroke-linejoin="round"/>
<path d="M310.3,279.1L310.9,279.3L310.6,279.6Z" fill="#fef0d9" stroke="#4a443e" stroke-opacity="0.8" stroke-width="0.5" stroke-linejoin="round"/>
<path d="M462.1,351.3L462.6,351.8L462.2,352.8Z" fill="#fef0d9" stroke="#4a443e" stroke-opacity="0.8" stroke-width="0.5" stroke-linejoin="round"/>
<path d="M464.4,353.3L464.9,353.7L464.6,353.9Z" fill="#fef0d9" stroke="#4a443e" stroke-opacity="0.8" stroke-width="0.5" stroke-linejoin="round"/>
<path d="M492.9,373.9L493.7,374.1L493.4,375.1L492.8,374.9Z" fill="#fdd49e" stroke="#4a443e" stroke-opacity="0.8" stroke-width="0.5" stroke-linejoin="round"/>
<path d="M487.9,376.3L489.0,376.3L488.8,377.3L487.9,377.1Z" fill="url(#h)" stroke="#cfcfcf" stroke-width="0.45" stroke-linejoin="round"/>
<path d="M382.2,311.7L383.2,311.8L382.8,313.0Z" fill="#fdd49e" stroke="#4a443e" stroke-opacity="0.8" stroke-width="0.5" stroke-linejoin="round"/>
<path d="M377.7,320.6L378.3,320.7L378.0,321.4Z" fill="#fdd49e" stroke="#4a443e" stroke-opacity="0.8" stroke-width="0.5" stroke-linejoin="round"/>
<path d="M60.2,145.8L60.8,146.0L62.1,147.3L63.4,148.3L63.0,150.1L61.2,151.1L65.6,150.1L67.3,150.4L68.2,152.1L68.2,152.3L64.4,153.4L61.4,154.1L58.6,155.9L56.4,156.5L55.1,155.7L52.9,155.4L51.0,153.6L52.8,151.8L49.4,152.9Z" fill="#e34a33" stroke="#4a443e" stroke-opacity="0.8" stroke-width="0.5" stroke-linejoin="round"/>
<path d="M461.3,202.2L463.5,200.4L467.4,198.8L471.3,199.4L472.0,200.6L472.0,203.1L468.7,203.2L467.1,205.0L467.2,205.8L469.5,207.5L470.1,208.7L472.6,209.6L473.4,212.4L474.7,214.1L475.6,216.9L475.7,218.5L477.3,219.0L478.9,223.8L479.2,225.0L477.3,225.1L475.2,225.8L473.0,225.5L469.6,223.5L467.6,220.9L467.4,220.2L468.2,218.6L469.8,216.0L468.1,215.3L465.2,212.1L464.4,211.6L462.2,209.1L461.7,206.5L459.7,205.3L459.8,202.9Z" fill="#ffffff" stroke="#4a443e" stroke-opacity="0.8" stroke-width="0.5" stroke-linejoin="round"/>
<path d="M351.3,191.1L352.7,190.2L353.6,189.2L353.7,188.7L355.9,188.2L356.7,188.2L357.3,187.4L356.3,187.6L354.8,187.2L354.2,187.3L354.0,186.8L352.6,187.1L352.2,186.4L353.4,185.9L354.6,185.2L354.7,183.9L353.4,184.2L354.2,183.4L353.6,182.9L354.3,182.7L355.3,182.9L356.6,182.8L356.7,182.5L356.9,181.8L357.2,180.9L356.4,180.9L355.7,179.9L356.8,178.8L355.7,178.9L354.2,179.4L353.3,179.6L352.8,178.7L353.8,177.6L353.6,176.4L352.5,176.6L351.6,178.0L351.9,176.7L352.0,176.0L352.2,175.3L350.9,174.5L351.6,173.8L351.9,173.1L351.8,172.3L352.1,171.6L352.9,171.6L352.7,170.7L353.4,169.9L355.2,170.0L356.2,169.9L357.0,169.8L356.9,170.3L355.8,171.1L355.2,171.7L354.8,172.6L356.5,172.1L358.9,172.1L359.3,172.6L358.7,173.4L358.0,174.5L357.4,175.3L357.7,175.5L356.6,176.3L357.5,176.1L358.6,176.5L358.9,176.9L359.6,178.0L360.0,178.7L360.4,179.6L361.5,179.9L362.5,180.9L362.3,181.4L362.9,182.2L362.1,181.9L363.3,183.2L363.4,183.3L363.1,184.0L363.7,183.8L365.3,183.8L366.1,184.9L365.9,185.9L365.3,186.3L364.6,186.8L364.1,187.4L363.7,187.6L365.5,187.7L365.4,188.4L364.6,188.9L363.9,189.1L363.2,189.3L362.4,189.2L361.1,189.3L360.5,189.2L359.9,189.3L358.9,189.4L358.8,189.7L357.8,189.8L356.8,189.4L355.9,189.7L355.4,190.7L354.4,190.3L353.1,190.6L352.3,191.3Z" fill="#fdbb84" stroke="#4a443e" stroke-opacity="0.8" stroke-width="0.5" stroke-linejoin="round"/>
<path d="M348.5,177.8L349.3,178.2L349.8,178.2L350.9,178.2L351.5,179.1L351.3,179.6L352.1,180.1L351.9,180.4L351.2,180.9L350.8,181.2L350.3,181.2L350.5,181.9L350.8,182.8L350.9,183.7L350.5,184.7L350.2,185.7L349.0,185.9L347.8,186.0L347.2,186.3L346.4,186.7L345.9,187.1L345.1,187.3L343.3,187.6L342.5,187.2L342.1,186.4L342.1,185.9L343.2,185.5L343.1,185.2L344.2,184.8L343.2,184.8L344.2,183.8L345.1,183.3L345.0,183.0L343.9,183.0L342.8,182.7L343.4,182.2L342.9,181.3L343.3,180.4L344.7,180.4L344.8,180.6L346.1,180.4L346.6,179.9L347.0,179.6L345.7,179.6L346.7,178.3L348.0,178.0Z" fill="#fdbb84" stroke="#4a443e" stroke-opacity="0.8" stroke-width="0.5" stroke-linejoin="round"/>
<path d="M348.7,178.6L348.1,179.3L346.9,180.1L348.0,180.8L349.1,180.2L349.8,181.1L350.8,181.1L351.2,180.9L351.9,180.4L352.1,180.1L351.3,179.6L351.5,179.1L350.9,178.2L349.8,178.2L349.3,178.2Z" fill="#fdbb84" stroke="#4a443e" stroke-opacity="0.8" stroke-width="0.5" stroke-linejoin="round"/>
<path d="M384.0,177.0L385.1,176.4L386.2,175.9L386.8,176.2L386.9,177.1L386.2,177.6L386.7,178.0L385.9,178.7L385.8,179.8L384.0,179.2L384.3,178.2L384.2,177.9Z" fill="#fdbb84" stroke="#4a443e" stroke-opacity="0.8" stroke-width="0.5" stroke-linejoin="round"/>
<path d="M381.5,177.5L382.1,177.3L383.3,177.3L383.5,178.0L383.1,178.6L382.2,178.6L381.8,178.0Z" fill="#fdbb84" stroke="#4a443e" stroke-opacity="0.8" stroke-width="0.5" stroke-linejoin="round"/>
<path d="M382.4,209.1L382.5,209.9L382.8,211.5L382.3,212.8L382.0,213.3L381.3,212.9L381.0,212.0L380.7,211.1L381.1,210.2L382.2,209.9Z" fill="#fdbb84" stroke="#4a443e" stroke-opacity="0.8" stroke-width="0.5" stroke-linejoin="round"/>
<path d="M382.2,213.7L382.9,214.6L383.4,215.6L383.3,216.9L383.2,218.7L383.1,219.2L382.2,219.0L381.2,219.8L380.7,219.0L380.8,217.3L380.6,216.1L380.3,215.5L380.0,215.3L380.1,214.4L380.5,214.7L381.1,214.6Z" fill="#fdd49e" stroke="#4a443e" stroke-opacity="0.8" stroke-width="0.5" stroke-linejoin="round"/>
<path d="M396.2,221.5L395.6,222.5L395.2,223.4L395.7,224.6L395.4,225.6L394.0,225.2L393.5,224.6L392.0,223.9L390.5,223.3L389.8,223.0L389.5,222.6L389.6,222.1L390.1,221.6L391.4,221.7L392.8,222.0L394.4,221.7L395.5,221.5Z" fill="#fdd49e" stroke="#4a443e" stroke-opacity="0.8" stroke-width="0.5" stroke-linejoin="round"/>
<path d="M414.0,228.4L414.9,228.6L416.0,229.0L417.4,229.0L418.6,229.4L419.5,229.4L420.0,229.6L418.8,229.9L416.6,230.1L414.9,229.4L414.2,229.4L413.8,229.2Z" fill="#fdbb84" stroke="#4a443e" stroke-opacity="0.8" stroke-width="0.5" stroke-linejoin="round"/>
<path d="M433.4,230.6L433.0,229.7L434.3,229.4L434.3,228.9L435.1,229.0L437.9,228.1L436.6,229.7L437.0,230.1L436.0,230.2L434.8,230.9L434.6,231.1Z" fill="#fdbb84" stroke="#4a443e" stroke-opacity="0.8" stroke-width="0.5" stroke-linejoin="round"/>
<path d="M387.8,130.0L385.3,129.0L383.0,126.8L379.6,125.9L378.8,125.3L378.3,123.9L382.9,123.7L385.7,123.2L388.0,124.0L390.2,124.9L394.3,125.9L390.7,126.2L391.0,128.0L388.8,129.2Z" fill="#fdd49e" stroke="#4a443e" stroke-opacity="0.8" stroke-width="0.5" stroke-linejoin="round"/>
<path d="M388.2,123.2L391.2,122.6L395.5,122.6L401.4,123.2L401.1,124.4L396.9,124.8L392.4,124.4L389.1,123.9Z" fill="#fdd49e" stroke="#4a443e" stroke-opacity="0.8" stroke-width="0.5" stroke-linejoin="round"/>
<path d="M393.8,126.6L396.7,126.6L398.9,127.4L397.0,128.5L394.6,128.0Z" fill="#fdd49e" stroke="#4a443e" stroke-opacity="0.8" stroke-width="0.5" stroke-linejoin="round"/>
<path d="M426.7,122.3L430.7,121.9L435.1,122.1L434.3,123.0L430.1,123.2Z" fill="#e34a33" stroke="#4a443e" stroke-opacity="0.8" stroke-width="0.5" stroke-linejoin="round"/>
<path d="M457.5,142.4L453.3,142.1L450.6,141.6L446.8,140.3L447.2,138.2L448.0,136.7L449.5,136.5L449.5,135.0L449.8,133.0L451.9,131.4L455.7,130.4L461.1,129.4L466.6,129.0L466.6,130.6L460.1,132.2L456.6,133.8L454.5,135.4L452.8,136.6L454.4,138.2L453.2,140.3L455.4,141.4Z" fill="#e34a33" stroke="#4a443e" stroke-opacity="0.8" stroke-width="0.5" stroke-linejoin="round"/>
<path d="M460.2,142.7L462.9,143.8L462.0,145.1L459.6,143.8Z" fill="#e34a33" stroke="#4a443e" stroke-opacity="0.8" stroke-width="0.5" stroke-linejoin="round"/>
<path d="M443.6,145.1L445.4,144.6L447.1,145.5L445.3,146.4Z" fill="#e34a33" stroke="#4a443e" stroke-opacity="0.8" stroke-width="0.5" stroke-linejoin="round"/>
<path d="M500.4,124.9L499.8,123.3L504.0,123.2L507.4,124.0L508.3,125.4L504.7,125.5Z" fill="#e34a33" stroke="#4a443e" stroke-opacity="0.8" stroke-width="0.5" stroke-linejoin="round"/>
<path d="M508.8,125.2L511.6,124.6L517.2,126.1L517.2,127.1L512.3,126.8Z" fill="#e34a33" stroke="#4a443e" stroke-opacity="0.8" stroke-width="0.5" stroke-linejoin="round"/>
<path d="M495.1,122.5L497.1,121.3L501.5,122.3L499.4,123.0Z" fill="#e34a33" stroke="#4a443e" stroke-opacity="0.8" stroke-width="0.5" stroke-linejoin="round"/>
<path d="M575.2,132.4L574.6,130.8L578.4,130.8L583.1,131.3L588.2,132.0L587.5,133.0L583.1,133.2L580.6,133.6L576.8,133.1Z" fill="#e34a33" stroke="#4a443e" stroke-opacity="0.8" stroke-width="0.5" stroke-linejoin="round"/>
<path d="M590.4,132.4L593.1,132.2L596.6,132.8L595.3,133.5L591.5,133.1Z" fill="#e34a33" stroke="#4a443e" stroke-opacity="0.8" stroke-width="0.5" stroke-linejoin="round"/>
<path d="M584.9,136.2L586.3,135.2L590.6,136.1L590.0,136.7L586.8,136.7Z" fill="#e34a33" stroke="#4a443e" stroke-opacity="0.8" stroke-width="0.5" stroke-linejoin="round"/>
<path d="M655.5,141.2L656.1,140.3L658.3,141.6Z" fill="#e34a33" stroke="#4a443e" stroke-opacity="0.8" stroke-width="0.5" stroke-linejoin="round"/>
<path d="M69.3,140.3L72.4,140.8L69.5,141.6L67.1,141.6Z" fill="#e34a33" stroke="#4a443e" stroke-opacity="0.8" stroke-width="0.5" stroke-linejoin="round"/>
<path d="M639.4,180.2L643.6,183.7L645.9,186.2L649.9,190.2L655.1,194.0L655.7,194.6L651.3,193.2L653.2,196.3L654.9,198.3L655.6,199.9L657.8,201.3L655.0,199.6L655.3,201.7L653.2,198.7L650.6,195.0L649.5,193.6L645.9,188.9L642.1,185.4L640.3,182.9L640.4,182.2Z" fill="#e34a33" stroke="#4a443e" stroke-opacity="0.8" stroke-width="0.5" stroke-linejoin="round"/>
<path d="M655.8,202.7L663.3,206.5L664.9,205.6L667.6,208.2L665.4,209.3L664.7,211.9L660.1,210.2L659.2,210.9L657.7,210.4L659.7,212.4L659.1,213.3L658.2,212.1L656.6,210.6L656.2,208.2L658.4,208.6L657.9,206.7L656.1,204.0L655.3,202.9Z" fill="#fdd49e" stroke="#4a443e" stroke-opacity="0.8" stroke-width="0.5" stroke-linejoin="round"/>
<path d="M660.4,213.0L661.7,213.3L663.3,215.5L665.7,217.9L666.6,221.3L665.6,221.6L667.1,224.7L668.6,228.1L667.5,230.2L666.5,228.4L665.8,229.2L665.7,231.0L664.4,229.9L664.2,231.0L661.6,231.0L660.5,229.9L661.8,231.9L660.2,234.0L657.9,232.0L657.8,230.9L655.0,231.3L651.9,231.8L651.5,232.8L649.0,232.7L649.6,231.5L650.6,230.2L651.1,228.8L652.3,228.5L654.4,228.5L656.3,227.9L657.9,228.6L658.3,228.2L657.7,226.8L658.3,225.8L658.6,223.4L658.6,224.5L659.4,225.4L661.1,224.2L661.8,222.2L662.0,220.8L662.0,219.8L660.3,217.0L660.5,216.4L659.7,213.7L661.1,214.7L661.5,213.8Z" fill="#fdd49e" stroke="#4a443e" stroke-opacity="0.8" stroke-width="0.5" stroke-linejoin="round"/>
<path d="M652.1,234.3L653.1,232.9L653.5,232.3L655.5,231.6L657.0,232.0L657.6,233.0L657.1,234.5L655.3,233.9L655.0,235.9L654.1,235.4L653.4,234.6Z" fill="#fdd49e" stroke="#4a443e" stroke-opacity="0.8" stroke-width="0.5" stroke-linejoin="round"/>
<path d="M649.2,232.7L651.2,233.5L651.6,234.5L652.6,235.3L652.3,236.4L652.5,238.1L652.8,239.4L652.1,239.2L651.6,240.4L650.5,239.7L649.7,238.2L648.9,237.3L648.0,235.8L647.3,234.8L647.5,233.9L648.3,233.6Z" fill="#fdd49e" stroke="#4a443e" stroke-opacity="0.8" stroke-width="0.5" stroke-linejoin="round"/>
<path d="M635.8,255.3L637.0,256.1L636.7,258.7L636.3,262.0L636.1,264.2L634.5,262.4L633.8,261.3L633.5,259.2L634.1,258.1L634.6,256.5L635.1,255.8Z" fill="url(#h)" stroke="#cfcfcf" stroke-width="0.45" stroke-linejoin="round"/>
<path d="M613.0,269.1L614.8,270.1L614.0,272.3L612.0,273.9L610.0,273.1L609.7,271.5L610.2,270.0L611.7,269.2Z" fill="#fef0d9" stroke="#4a443e" stroke-opacity="0.8" stroke-width="0.5" stroke-linejoin="round"/>
<path d="M547.3,295.8L548.7,297.3L549.7,299.1L550.9,301.4L551.4,303.2L550.8,305.0L548.6,306.0L547.7,305.7L546.8,303.4L546.5,300.6L546.6,298.1L546.8,296.1Z" fill="#fef0d9" stroke="#4a443e" stroke-opacity="0.8" stroke-width="0.5" stroke-linejoin="round"/>
<path d="M582.6,307.0L586.9,307.9L588.9,309.7L590.6,311.7L593.4,313.9L594.6,315.5L595.6,315.9L597.1,317.1L599.5,318.9L600.9,320.2L602.6,321.5L601.9,323.6L603.9,324.1L605.0,327.5L607.5,328.8L607.5,330.1L606.9,332.5L607.0,335.1L606.6,336.8L605.6,335.9L604.0,336.9L602.4,334.8L598.8,331.4L596.0,328.3L594.6,324.0L593.1,321.0L590.8,316.9L588.6,315.6L584.5,310.6L582.6,307.9Z" fill="#fef0d9" stroke="#4a443e" stroke-opacity="0.8" stroke-width="0.5" stroke-linejoin="round"/>
<path d="M605.2,339.3L607.2,336.9L609.1,337.5L613.0,339.0L614.0,339.4L617.2,339.7L618.4,338.2L619.5,339.0L621.0,339.5L622.6,340.3L624.2,341.6L625.4,341.6L626.2,343.0L626.1,344.1L623.0,343.2L620.0,343.3L616.6,342.3L613.8,341.6L613.0,341.6L610.9,341.5L608.3,339.8L608.1,340.9Z" fill="#fef0d9" stroke="#4a443e" stroke-opacity="0.8" stroke-width="0.5" stroke-linejoin="round"/>
<path d="M616.0,316.1L617.7,317.4L619.6,317.8L620.0,315.0L623.8,313.1L625.8,310.0L628.0,308.4L630.4,305.9L631.8,303.2L634.1,304.8L635.1,306.2L637.8,307.9L635.7,308.4L634.8,310.4L634.2,310.6L634.3,312.9L635.1,316.3L637.5,318.8L635.1,319.4L634.2,322.8L632.7,324.8L631.8,327.3L631.1,329.3L630.3,330.9L627.4,332.4L627.3,330.3L623.7,329.6L620.7,329.3L620.8,330.7L617.2,329.1L617.0,325.7L614.8,321.5L614.3,319.3L615.2,317.1Z" fill="#fef0d9" stroke="#4a443e" stroke-opacity="0.8" stroke-width="0.5" stroke-linejoin="round"/>
<path d="M651.2,317.6L652.0,317.2L652.0,317.7L650.8,319.7L649.9,320.5L647.0,320.2L642.1,320.3L640.2,321.2L640.4,323.6L641.7,325.2L643.4,323.7L645.8,323.5L647.9,323.7L646.4,324.0L645.7,326.5L644.2,328.6L644.9,330.1L645.7,331.8L645.9,333.8L643.3,334.2L643.4,332.1L642.2,328.4L640.8,328.6L640.3,329.3L640.3,334.1L640.6,336.1L638.3,336.1L638.2,335.0L638.8,332.0L637.4,330.8L637.1,329.6L637.3,328.6L638.6,324.4L639.4,323.2L639.6,321.5L640.0,319.7L641.8,318.1L642.3,318.1L646.9,319.0L649.2,318.9Z" fill="#fef0d9" stroke="#4a443e" stroke-opacity="0.8" stroke-width="0.5" stroke-linejoin="round"/>
<path d="M657.2,315.7L658.4,316.3L658.2,318.4L660.0,317.6L658.9,319.4L660.6,320.7L658.2,320.5L659.2,323.6L657.6,322.3L657.1,318.9Z" fill="#fef0d9" stroke="#4a443e" stroke-opacity="0.8" stroke-width="0.5" stroke-linejoin="round"/>
<path d="M658.1,329.6L661.8,328.8L665.0,330.1L662.7,330.4L659.4,330.7Z" fill="#fef0d9" stroke="#4a443e" stroke-opacity="0.8" stroke-width="0.5" stroke-linejoin="round"/>
<path d="M653.7,329.9L656.0,329.6L656.6,330.9L654.1,331.6Z" fill="#fef0d9" stroke="#4a443e" stroke-opacity="0.8" stroke-width="0.5" stroke-linejoin="round"/>
<path d="M646.8,348.2L648.2,346.0L650.3,344.9L650.9,344.1L651.9,343.9L655.9,343.5L653.9,345.0L651.5,346.0L648.8,348.1Z" fill="#fef0d9" stroke="#4a443e" stroke-opacity="0.8" stroke-width="0.5" stroke-linejoin="round"/>
<path d="M638.6,343.5L640.2,343.1L642.5,343.7L645.6,342.7L646.0,343.5L643.6,344.7L640.8,344.8L638.8,344.5Z" fill="#fef0d9" stroke="#4a443e" stroke-opacity="0.8" stroke-width="0.5" stroke-linejoin="round"/>
<path d="M631.6,343.5L634.3,342.7L637.2,343.7L636.5,344.5L633.9,344.9L631.7,345.0Z" fill="#fef0d9" stroke="#4a443e" stroke-opacity="0.8" stroke-width="0.5" stroke-linejoin="round"/>
<path d="M636.5,346.6L638.6,345.8L640.7,347.7L639.1,348.4L637.1,347.4Z" fill="#fef0d9" stroke="#4a443e" stroke-opacity="0.8" stroke-width="0.5" stroke-linejoin="round"/>
<path d="M671.6,335.6L673.4,336.0L673.0,339.3L671.9,338.5Z" fill="#fef0d9" stroke="#4a443e" stroke-opacity="0.8" stroke-width="0.5" stroke-linejoin="round"/>
<path d="M666.0,323.7L668.4,322.4L672.4,323.7L672.5,326.7L673.8,329.9L674.4,330.3L676.6,328.8L677.6,327.3L681.3,325.3L683.2,326.3L687.7,328.2L688.4,328.3L689.1,328.6L694.4,330.8L696.4,331.6L699.1,335.1L701.3,336.8L703.1,337.2L703.6,338.8L701.6,339.2L701.9,340.9L704.1,342.6L704.8,345.0L706.4,345.0L707.4,346.6L709.6,348.3L707.5,349.4L705.3,348.3L702.9,347.8L701.3,346.4L699.0,342.7L698.5,342.3L695.2,341.4L693.5,342.7L693.2,343.5L692.3,345.3L687.3,345.3L685.9,343.7L682.9,342.7L679.8,343.5L682.4,340.3L682.3,338.8L681.1,335.9L678.8,334.3L675.4,333.1L672.5,331.7L671.4,331.0L669.3,332.2L668.2,329.2L667.5,328.8L671.1,327.9L672.0,327.6L669.2,327.3L667.6,326.7L665.4,325.3Z" fill="#fef0d9" stroke="#4a443e" stroke-opacity="0.8" stroke-width="0.5" stroke-linejoin="round"/>
<path d="M704.8,336.4L706.4,335.9L709.2,335.9L711.1,334.6L712.4,332.5L714.3,332.5L713.9,334.6L712.0,336.1L709.3,338.0L707.0,337.7Z" fill="#fef0d9" stroke="#4a443e" stroke-opacity="0.8" stroke-width="0.5" stroke-linejoin="round"/>
<path d="M710.8,328.3L713.7,330.1L716.1,333.0L715.5,334.2L714.1,332.0L712.1,329.6Z" fill="#fef0d9" stroke="#4a443e" stroke-opacity="0.8" stroke-width="0.5" stroke-linejoin="round"/>
<path d="M719.4,335.6L721.1,336.9L722.3,339.3L721.2,339.5L719.7,337.2Z" fill="#fef0d9" stroke="#4a443e" stroke-opacity="0.8" stroke-width="0.5" stroke-linejoin="round"/>
<path d="M723.5,339.0L725.5,340.6L724.5,340.6Z" fill="#fef0d9" stroke="#4a443e" stroke-opacity="0.8" stroke-width="0.5" stroke-linejoin="round"/>
<path d="M727.9,341.4L730.7,343.5L730.2,343.7L728.1,342.4Z" fill="#fef0d9" stroke="#4a443e" stroke-opacity="0.8" stroke-width="0.5" stroke-linejoin="round"/>
<path d="M730.0,345.8L732.6,347.1L731.5,347.3L729.9,346.5Z" fill="#fef0d9" stroke="#4a443e" stroke-opacity="0.8" stroke-width="0.5" stroke-linejoin="round"/>
<path d="M732.6,343.5L733.9,346.4L733.1,345.3Z" fill="#fef0d9" stroke="#4a443e" stroke-opacity="0.8" stroke-width="0.5" stroke-linejoin="round"/>
<path d="M733.8,348.4L735.7,349.8L734.6,349.5Z" fill="#fef0d9" stroke="#4a443e" stroke-opacity="0.8" stroke-width="0.5" stroke-linejoin="round"/>
<path d="M744.0,360.0L745.2,360.7L744.4,362.4L743.7,361.5Z" fill="#fef0d9" stroke="#4a443e" stroke-opacity="0.8" stroke-width="0.5" stroke-linejoin="round"/>
<path d="M744.7,363.4L745.9,364.1L745.0,364.9Z" fill="#fef0d9" stroke="#4a443e" stroke-opacity="0.8" stroke-width="0.5" stroke-linejoin="round"/>
<path d="M746.0,367.5L746.8,368.1L746.1,368.2Z" fill="#fef0d9" stroke="#4a443e" stroke-opacity="0.8" stroke-width="0.5" stroke-linejoin="round"/>
<path d="M734.9,374.1L737.7,376.4L740.2,379.8L739.1,380.0L736.2,377.9L734.6,375.1Z" fill="url(#h)" stroke="#cfcfcf" stroke-width="0.45" stroke-linejoin="round"/>
<path d="M766.7,367.5L769.0,366.9L769.7,368.3L767.9,369.4L766.4,368.8Z" fill="#fdd49e" stroke="#4a443e" stroke-opacity="0.8" stroke-width="0.5" stroke-linejoin="round"/>
<path d="M770.6,364.9L773.8,363.9L773.6,364.8L771.1,365.7Z" fill="#fdd49e" stroke="#4a443e" stroke-opacity="0.8" stroke-width="0.5" stroke-linejoin="round"/>
<path d="M637.1,273.1L639.6,273.5L640.6,273.1L641.5,276.2L642.1,277.0L640.6,280.3L640.5,282.5L641.6,284.4L643.4,284.1L645.1,285.0L646.6,285.7L647.3,287.5L647.7,288.7L646.8,287.8L645.5,287.5L643.9,285.8L643.8,287.1L642.2,285.5L641.5,285.1L640.1,285.7L639.0,285.3L638.8,283.8L639.6,283.4L638.7,283.8L637.7,282.8L636.8,281.0L636.4,278.7L637.5,279.5L637.4,278.1L637.1,275.6Z" fill="#fef0d9" stroke="#4a443e" stroke-opacity="0.8" stroke-width="0.5" stroke-linejoin="round"/>
<path d="M651.4,295.9L653.5,298.2L653.7,299.8L654.1,301.6L653.7,305.0L652.2,303.1L651.8,304.2L652.0,306.9L651.4,306.2L651.3,305.5L649.1,305.3L648.6,303.5L649.0,302.7L647.1,302.0L647.2,301.2L645.9,302.0L644.1,303.5L643.7,301.9L644.4,300.3L645.8,299.8L646.7,299.0L647.9,300.0L648.8,299.9L649.8,299.3L650.5,298.1L651.6,298.0Z" fill="#fef0d9" stroke="#4a443e" stroke-opacity="0.8" stroke-width="0.5" stroke-linejoin="round"/>
<path d="M647.9,288.8L650.2,288.7L651.7,292.5L649.9,292.2L649.4,291.4L648.3,290.1Z" fill="#fef0d9" stroke="#4a443e" stroke-opacity="0.8" stroke-width="0.5" stroke-linejoin="round"/>
<path d="M648.4,291.4L649.9,292.5L650.8,294.6L649.8,295.3L648.9,293.8Z" fill="#fef0d9" stroke="#4a443e" stroke-opacity="0.8" stroke-width="0.5" stroke-linejoin="round"/>
<path d="M645.3,293.0L646.6,293.2L646.3,295.6L646.1,297.8L644.8,296.9L644.3,295.6L645.1,294.8Z" fill="#fef0d9" stroke="#4a443e" stroke-opacity="0.8" stroke-width="0.5" stroke-linejoin="round"/>
<path d="M642.6,290.4L645.0,291.2L645.7,292.2L644.6,294.2L643.2,294.2Z" fill="#fef0d9" stroke="#4a443e" stroke-opacity="0.8" stroke-width="0.5" stroke-linejoin="round"/>
<path d="M646.4,296.8L646.9,294.8L647.7,291.9L647.7,293.8L647.1,296.4Z" fill="#fef0d9" stroke="#4a443e" stroke-opacity="0.8" stroke-width="0.5" stroke-linejoin="round"/>
<path d="M647.5,295.6L649.2,295.1L649.1,296.1L647.8,296.4Z" fill="#fef0d9" stroke="#4a443e" stroke-opacity="0.8" stroke-width="0.5" stroke-linejoin="round"/>
<path d="M638.5,286.4L640.5,286.3L641.6,288.5L640.9,289.6L639.3,287.8Z" fill="#fef0d9" stroke="#4a443e" stroke-opacity="0.8" stroke-width="0.5" stroke-linejoin="round"/>
<path d="M632.6,299.7L634.3,297.4L636.3,294.6L637.8,291.7L637.0,294.0L635.4,296.9L633.3,299.7Z" fill="#fef0d9" stroke="#4a443e" stroke-opacity="0.8" stroke-width="0.5" stroke-linejoin="round"/>
<path d="M645.4,288.7L647.1,289.6L647.6,290.8L645.8,290.1Z" fill="#fef0d9" stroke="#4a443e" stroke-opacity="0.8" stroke-width="0.5" stroke-linejoin="round"/>
<path d="M690.3,349.5L691.6,352.9L691.8,356.6L692.2,359.2L693.6,358.6L694.8,361.9L695.2,365.7L695.4,368.6L696.3,371.9L699.2,373.8L700.7,376.8L701.1,379.8L703.2,380.4L702.8,383.0L703.7,383.9L705.5,386.4L707.0,387.4L705.7,390.8L705.1,393.2L705.2,394.7L704.9,396.4L702.1,400.8L700.4,403.8L696.1,407.6L693.8,410.1L692.1,411.6L691.1,413.3L688.9,414.9L685.9,419.6L681.1,420.6L675.9,423.8L674.5,421.9L674.6,420.5L673.3,421.7L670.0,423.1L668.5,421.9L666.7,421.8L664.7,420.6L664.3,418.8L665.0,415.4L664.6,414.5L662.8,414.6L664.5,412.8L664.5,411.0L662.6,413.4L660.6,413.7L662.8,411.6L665.8,406.5L664.7,408.0L662.5,409.7L659.0,412.4L657.7,411.9L657.6,407.3L657.1,405.6L652.1,403.9L647.3,404.4L640.0,406.0L636.0,407.8L633.9,409.5L629.4,410.1L625.2,410.3L619.5,413.2L615.5,412.7L614.1,411.4L614.7,409.2L616.3,408.6L617.8,405.2L617.6,401.3L617.8,396.8L617.6,394.0L616.4,389.9L618.0,390.3L618.6,390.6L618.3,386.6L618.2,384.3L621.0,378.5L621.3,380.1L623.2,378.1L627.6,375.6L631.7,374.6L635.1,373.6L639.0,370.9L641.0,368.5L643.3,364.4L644.5,366.8L644.9,364.1L647.3,362.0L649.3,359.7L653.6,357.5L655.5,359.4L656.0,360.5L655.6,361.8L657.8,360.5L659.0,360.6L660.4,356.9L663.0,354.1L664.5,353.4L666.3,350.7L667.3,351.3L669.2,352.4L672.6,353.2L674.9,352.9L677.0,353.4L675.9,356.3L674.1,357.1L673.7,360.0L672.6,360.1L673.6,362.0L675.7,363.4L677.2,363.9L679.8,365.7L680.9,367.4L683.8,367.1L685.7,363.4L687.0,359.4L687.4,355.5L688.1,354.6L688.6,351.6L689.4,350.3Z" fill="#fdbb84" stroke="#4a443e" stroke-opacity="0.8" stroke-width="0.5" stroke-linejoin="round"/>
<path d="M669.7,427.9L672.5,429.1L674.1,428.7L676.9,428.7L675.0,431.5L672.4,434.4L671.7,433.6L669.1,435.5L667.8,435.3L667.7,433.6L668.4,431.8L668.9,429.2Z" fill="#fdbb84" stroke="#4a443e" stroke-opacity="0.8" stroke-width="0.5" stroke-linejoin="round"/>
<path d="M659.5,414.6L661.7,414.6L662.4,415.4L660.7,415.8L659.1,415.5Z" fill="#fdbb84" stroke="#4a443e" stroke-opacity="0.8" stroke-width="0.5" stroke-linejoin="round"/>
<path d="M662.3,351.1L664.8,351.3L663.5,352.5L662.2,352.1Z" fill="#fdbb84" stroke="#4a443e" stroke-opacity="0.8" stroke-width="0.5" stroke-linejoin="round"/>
<path d="M675.4,357.6L676.4,357.6L675.9,358.9L675.1,358.6Z" fill="#fdbb84" stroke="#4a443e" stroke-opacity="0.8" stroke-width="0.5" stroke-linejoin="round"/>
<path d="M739.8,411.5L740.5,411.5L740.6,413.1L741.9,413.6L741.6,415.1L740.5,417.9L742.3,417.0L742.6,418.3L742.2,420.0L743.4,420.8L747.2,420.1L744.2,422.7L743.2,423.8L740.4,424.8L740.5,425.2L737.8,427.4L732.9,430.2L732.4,429.5L733.8,428.2L735.6,426.0L734.8,425.4L734.0,424.3L735.2,423.6L736.9,422.7L738.4,421.1L739.4,419.3L739.5,418.4L739.8,416.7L739.7,414.4L739.5,413.6L739.6,412.5Z" fill="#fdbb84" stroke="#4a443e" stroke-opacity="0.8" stroke-width="0.5" stroke-linejoin="round"/>
<path d="M729.5,427.4L730.2,427.4L729.3,429.5L731.3,428.7L731.6,429.2L730.5,430.6L727.9,432.3L725.3,434.0L723.5,435.3L723.7,435.9L721.6,436.2L718.6,437.5L716.6,439.3L714.5,441.2L712.0,442.4L711.3,442.7L708.0,443.1L707.5,442.1L705.3,442.0L705.8,441.1L708.5,439.0L711.1,438.0L713.9,436.5L715.1,436.1L718.3,434.6L721.5,433.1L722.5,432.4L724.8,430.6L724.5,430.6L726.8,429.3L727.9,428.2Z" fill="#fdbb84" stroke="#4a443e" stroke-opacity="0.8" stroke-width="0.5" stroke-linejoin="round"/>
<path d="M705.8,443.6L707.1,443.8L706.0,444.7L705.0,444.7Z" fill="#fdbb84" stroke="#4a443e" stroke-opacity="0.8" stroke-width="0.5" stroke-linejoin="round"/>
<path d="M8.4,269.8L9.1,268.5L10.8,269.8L10.5,270.8L8.8,271.9L8.2,271.5Z" fill="#fdbb84" stroke="#4a443e" stroke-opacity="0.8" stroke-width="0.5" stroke-linejoin="round"/>
<path d="M7.6,266.8L8.6,266.7L9.1,267.4L8.1,267.6Z" fill="#fdbb84" stroke="#4a443e" stroke-opacity="0.8" stroke-width="0.5" stroke-linejoin="round"/>
<path d="M4.5,265.1L5.3,264.7L5.6,265.8L4.7,265.8Z" fill="#fdbb84" stroke="#4a443e" stroke-opacity="0.8" stroke-width="0.5" stroke-linejoin="round"/>
<path d="M1.4,263.7L2.3,263.4L2.3,264.1L1.7,264.2Z" fill="#fdbb84" stroke="#4a443e" stroke-opacity="0.8" stroke-width="0.5" stroke-linejoin="round"/>
<path d="M616.0,316.1L616.0,317.3L618.1,319.3L621.0,318.9L622.6,317.8L625.2,318.2L627.9,317.7L628.3,315.2L629.7,313.7L629.5,311.0L630.7,310.1L634.2,310.6M688.4,328.3L687.3,345.3" fill="none" stroke="#4a443e" stroke-opacity="0.8" stroke-width="0.5" stroke-linejoin="round"/>
</svg>
<div class="title">Average per capita alcohol consumption in 15-19 year olds, 2010</div>
<div class="sub"><span style="letter-spacing:0.119px">Average per capita consumption of alcohol, measured in litres of pure alcohol per year for those aged 15-19</span><br><span style="letter-spacing:-0.094px">years old. This is measured across both sexes.</span></div>
<div class="logo"><span class="l1">Our World</span><span>in Data</span></div>
<svg class="map" width="850" height="600" viewBox="0 0 850 600">
<g shape-rendering="crispEdges">
<rect x="215.5" y="537.5" width="48" height="11" fill="url(#h)" stroke="#ccc" stroke-width="1"/>
<rect x="283" y="537" width="58.5" height="11.5" fill="#fef0d9"/>
<rect x="341.5" y="537" width="58.5" height="11.5" fill="#fdd49e"/>
<rect x="400" y="537" width="58.5" height="11.5" fill="#fdbb84"/>
<rect x="458.5" y="537" width="58.5" height="11.5" fill="#fc8d59"/>
<rect x="517" y="537" width="58.5" height="11.5" fill="#e34a33"/>
<rect x="575.5" y="537" width="58.5" height="11.5" fill="#b30000"/>
</g>
<g stroke="#bbb" stroke-width="1" shape-rendering="crispEdges">
<line x1="283.5" y1="520" x2="283.5" y2="548.5"/><line x1="341.5" y1="534" x2="341.5" y2="548.5"/>
<line x1="400.5" y1="520" x2="400.5" y2="548.5"/><line x1="458.5" y1="534" x2="458.5" y2="548.5"/>
<line x1="517.5" y1="520" x2="517.5" y2="548.5"/><line x1="575.5" y1="534" x2="575.5" y2="548.5"/>
<line x1="634.5" y1="520" x2="634.5" y2="548.5"/><line x1="239.5" y1="534" x2="239.5" y2="537"/>
</g></svg>
<div class="lg" style="left:239px;top:517px;letter-spacing:-0.25px">No data</div>
<div class="lg" style="left:283px;top:503px">0 litres</div>
<div class="lg" style="left:341.5px;top:517px">5 litres</div>
<div class="lg" style="left:400px;top:503px">10 litres</div>
<div class="lg" style="left:458.5px;top:517px">15 litres</div>
<div class="lg" style="left:517px;top:503px">20 litres</div>
<div class="lg" style="left:575.5px;top:517px">25 litres</div>
<div class="lg" style="left:634px;top:503px">30 litres</div>
<div class="foot l"><b>Data source:</b> World Health Organization - Global Health Observatory (2025)</div>
<div class="foot r">OurWorldinData.org/alcohol-consumption | CC BY</div>
</body></html>
